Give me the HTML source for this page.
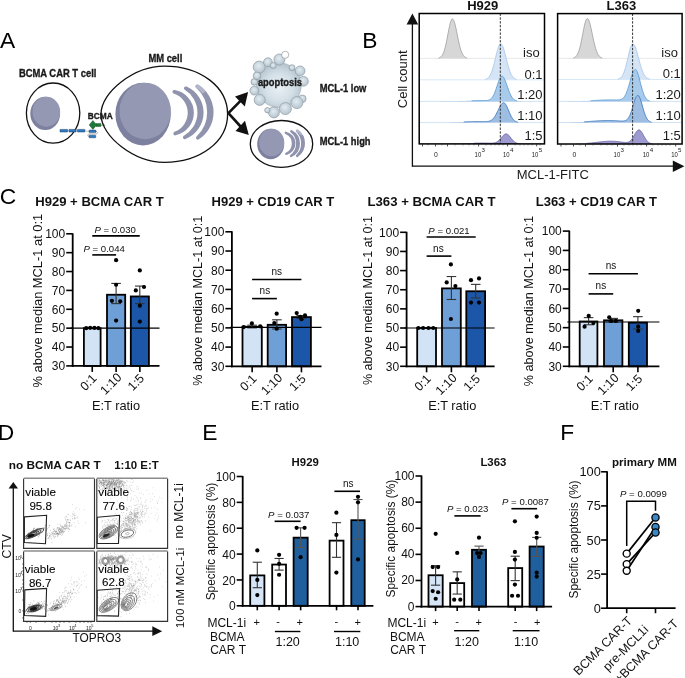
<!DOCTYPE html>
<html><head><meta charset="utf-8"><style>
html,body{margin:0;padding:0;background:#fff;}
svg{display:block;will-change:transform;}
text{font-family:"Liberation Sans",sans-serif;}
</style></head><body>
<svg width="685" height="678" viewBox="0 0 685 678">
<rect width="685" height="678" fill="#fff"/>
<text x="-0.10" y="47.70" font-size="22.8" >A</text>
<text x="362.30" y="47.70" font-size="22.8" >B</text>
<text x="-0.20" y="203.80" font-size="22.8" >C</text>
<text x="-2.30" y="439.60" font-size="22.8" >D</text>
<text x="202.30" y="439.80" font-size="22.8" >E</text>
<text x="560.30" y="439.80" font-size="22.8" >F</text>
<ellipse cx="53.10" cy="113.10" rx="26.70" ry="30.10" fill="#fff" stroke="#111" stroke-width="1.3" />
<ellipse cx="45.20" cy="113.40" rx="14.90" ry="16.60" fill="#7D819F" stroke="none" stroke-width="1" />
<ellipse cx="46.32" cy="111.74" rx="13.81" ry="14.99" fill="#9598B2" stroke="none" stroke-width="1" />
<path d="M101.00,114.20 C101.00,91.59 134.55,66.10 164.30,66.10 C200.38,66.10 227.60,86.78 227.60,114.20 C227.60,141.62 200.38,162.30 164.30,162.30 C134.55,162.30 101.00,136.81 101.00,114.20 Z" fill="#fff" stroke="#111" stroke-width="1.3" />
<ellipse cx="143.10" cy="114.10" rx="27.70" ry="31.30" fill="#7D819F" stroke="none" stroke-width="1" />
<ellipse cx="145.18" cy="110.97" rx="25.68" ry="28.26" fill="#9598B2" stroke="none" stroke-width="1" />
<path d="M174.30,91.80 A21.23,21.23 0 0 1 175.20,133.50 A22.07,22.07 0 0 0 174.30,91.80 Z" fill="#8F93AE" stroke="#8F93AE" stroke-width="3.7" stroke-linejoin="round"/>
<path d="M185.80,88.30 A26.51,26.51 0 0 1 184.80,137.30 A28.45,28.45 0 0 0 185.80,88.30 Z" fill="#8F93AE" stroke="#8F93AE" stroke-width="3.7" stroke-linejoin="round"/>
<path d="M197.30,86.40 A30.41,30.41 0 0 1 197.80,137.80 A34.56,34.56 0 0 0 197.30,86.40 Z" fill="#8F93AE" stroke="#8F93AE" stroke-width="3.7" stroke-linejoin="round"/>
<path d="M197.30,86.40 A12.69,12.69 0 0 1 203.00,91.30" fill="none" stroke="#B3B6CA" stroke-width="3.8" stroke-linecap="round"/>
<ellipse cx="281.50" cy="143.90" rx="31.20" ry="23.40" fill="#fff" stroke="#111" stroke-width="1.3" />
<ellipse cx="270.70" cy="144.00" rx="13.50" ry="15.30" fill="#7D819F" stroke="none" stroke-width="1" />
<ellipse cx="271.71" cy="142.47" rx="12.51" ry="13.82" fill="#9598B2" stroke="none" stroke-width="1" />
<path d="M285.80,132.80 A10.81,10.81 0 0 1 286.30,153.80 A11.41,11.41 0 0 0 285.80,132.80 Z" fill="#8F93AE" stroke="#8F93AE" stroke-width="2.4" stroke-linejoin="round"/>
<path d="M291.30,131.30 A13.72,13.72 0 0 1 291.00,155.90 A15.38,15.38 0 0 0 291.30,131.30 Z" fill="#8F93AE" stroke="#8F93AE" stroke-width="2.4" stroke-linejoin="round"/>
<path d="M297.10,130.80 A15.10,15.10 0 0 1 297.10,155.90 A17.74,17.74 0 0 0 297.10,130.80 Z" fill="#8F93AE" stroke="#8F93AE" stroke-width="2.4" stroke-linejoin="round"/>
<path d="M297.10,130.80 A7.03,7.03 0 0 1 301.00,134.00" fill="none" stroke="#B3B6CA" stroke-width="2.4" stroke-linecap="round"/>
<line x1="228.40" y1="113.20" x2="241.00" y2="100.30" stroke="#111" stroke-width="2.6" />
<path d="M248.1,91.9 L235,96.4 L244.8,106.5 Z" fill="#111" stroke="none" stroke-width="1" />
<line x1="228.40" y1="113.20" x2="241.50" y2="127.50" stroke="#111" stroke-width="2.6" />
<path d="M248.8,134.9 L235.5,130.9 L245,120.7 Z" fill="#111" stroke="none" stroke-width="1" />
<defs><radialGradient id="apg" cx="0.5" cy="0.55" r="0.6"><stop offset="0" stop-color="#EAF1F5"/><stop offset="0.55" stop-color="#D2DEE6"/><stop offset="1" stop-color="#AEBCC6"/></radialGradient><radialGradient id="bub" cx="0.45" cy="0.4" r="0.65"><stop offset="0" stop-color="#E2ECF1"/><stop offset="1" stop-color="#B2C1CB"/></radialGradient></defs>
<circle cx="278.90" cy="85.10" r="22.40" fill="url(#apg)" stroke="#9AA7B0" stroke-width="0.6" />
<circle cx="259.20" cy="67.10" r="6.00" fill="url(#bub)" stroke="#8E9BA5" stroke-width="0.7" />
<circle cx="267.90" cy="62.20" r="4.40" fill="url(#bub)" stroke="#8E9BA5" stroke-width="0.7" />
<circle cx="273.20" cy="65.50" r="3.00" fill="url(#bub)" stroke="#8E9BA5" stroke-width="0.7" />
<circle cx="279.40" cy="59.50" r="5.50" fill="url(#bub)" stroke="#8E9BA5" stroke-width="0.7" />
<circle cx="292.00" cy="67.70" r="3.00" fill="url(#bub)" stroke="#8E9BA5" stroke-width="0.7" />
<circle cx="300.10" cy="70.90" r="4.90" fill="url(#bub)" stroke="#8E9BA5" stroke-width="0.7" />
<circle cx="303.40" cy="81.30" r="4.90" fill="url(#bub)" stroke="#8E9BA5" stroke-width="0.7" />
<circle cx="302.30" cy="98.80" r="3.80" fill="url(#bub)" stroke="#8E9BA5" stroke-width="0.7" />
<circle cx="296.90" cy="102.60" r="6.00" fill="url(#bub)" stroke="#8E9BA5" stroke-width="0.7" />
<circle cx="285.40" cy="108.60" r="6.00" fill="url(#bub)" stroke="#8E9BA5" stroke-width="0.7" />
<circle cx="273.90" cy="112.40" r="5.50" fill="url(#bub)" stroke="#8E9BA5" stroke-width="0.7" />
<circle cx="267.40" cy="110.20" r="2.70" fill="url(#bub)" stroke="#8E9BA5" stroke-width="0.7" />
<circle cx="259.70" cy="99.90" r="5.50" fill="url(#bub)" stroke="#8E9BA5" stroke-width="0.7" />
<circle cx="254.30" cy="90.60" r="4.40" fill="url(#bub)" stroke="#8E9BA5" stroke-width="0.7" />
<circle cx="254.30" cy="81.90" r="3.30" fill="url(#bub)" stroke="#8E9BA5" stroke-width="0.7" />
<circle cx="257.00" cy="75.80" r="3.80" fill="url(#bub)" stroke="#8E9BA5" stroke-width="0.7" />
<circle cx="285.20" cy="54.80" r="3.60" fill="#fff" stroke="#888" stroke-width="0.6" />
<text x="257.90" y="85.70" font-size="10" font-weight="bold" fill="#1a1a1a" textLength="44.1" lengthAdjust="spacingAndGlyphs" stroke="#1a1a1a" stroke-width="0.35">apoptosis</text>
<rect x="60.00" y="129.40" width="7.60" height="2.60" fill="#2F78C4" stroke="#173e66" stroke-width="0.5" rx="0.3"/>
<rect x="68.90" y="129.40" width="7.30" height="2.60" fill="#2F78C4" stroke="#173e66" stroke-width="0.5" rx="0.3"/>
<rect x="77.50" y="129.40" width="7.40" height="2.60" fill="#2F78C4" stroke="#173e66" stroke-width="0.5" rx="0.3"/>
<line x1="84.90" y1="131.05" x2="89.00" y2="131.30" stroke="#888" stroke-width="0.5" />
<path d="M95.8,131.3 C98.2,131.6 98.2,133.9 95.5,134.0 L89.6,134.0 C87.2,134.2 87.2,136.3 89.2,136.5" fill="none" stroke="#777" stroke-width="0.55" />
<rect x="89.00" y="130.10" width="7.00" height="2.50" fill="#2F78C4" stroke="#173e66" stroke-width="0.45" rx="0.6"/>
<rect x="89.00" y="135.20" width="6.80" height="2.60" fill="#2F78C4" stroke="#173e66" stroke-width="0.45" rx="0.6"/>
<line x1="100.50" y1="125.20" x2="105.20" y2="125.20" stroke="#333" stroke-width="0.6" />
<rect x="95.90" y="123.50" width="5.00" height="3.10" fill="#1D7A3A" stroke="#0f4a22" stroke-width="0.35" />
<path d="M92.9,120.5 L96.6,124.9 L92.9,129.4 L89.2,124.9 Z" fill="#1D7A3A" stroke="#0f4a22" stroke-width="0.45" />
<text x="18.90" y="76.60" font-size="10.8" font-weight="bold" fill="#1a1a1a" textLength="77.5" lengthAdjust="spacingAndGlyphs" stroke="#1a1a1a" stroke-width="0.35">BCMA CAR T cell</text>
<text x="148.40" y="62.20" font-size="10.8" font-weight="bold" fill="#1a1a1a" textLength="33.9" lengthAdjust="spacingAndGlyphs" stroke="#1a1a1a" stroke-width="0.35">MM cell</text>
<text x="87.80" y="119.40" font-size="9.2" font-weight="bold" fill="#1a1a1a" textLength="25" lengthAdjust="spacingAndGlyphs" stroke="#1a1a1a" stroke-width="0.35">BCMA</text>
<text x="319.70" y="91.80" font-size="10.6" font-weight="bold" fill="#1a1a1a" textLength="46.7" lengthAdjust="spacingAndGlyphs" stroke="#1a1a1a" stroke-width="0.35">MCL-1 low</text>
<text x="319.70" y="145.10" font-size="10.6" font-weight="bold" fill="#1a1a1a" textLength="50.9" lengthAdjust="spacingAndGlyphs" stroke="#1a1a1a" stroke-width="0.35">MCL-1 high</text>
<line x1="419.20" y1="58.40" x2="544.50" y2="58.40" stroke="#E2E2E2" stroke-width="0.8" />
<line x1="419.20" y1="79.80" x2="544.50" y2="79.80" stroke="#CFE2F3" stroke-width="0.8" />
<line x1="419.20" y1="101.40" x2="544.50" y2="101.40" stroke="#C6DCF1" stroke-width="0.8" />
<line x1="419.20" y1="122.60" x2="544.50" y2="122.60" stroke="#C6DCF1" stroke-width="0.8" />
<path d="M420.00,58.40 L420.00,58.40 L420.60,58.40 L421.20,58.40 L421.80,58.40 L422.40,58.40 L423.00,58.40 L423.60,58.40 L424.20,58.40 L424.80,58.40 L425.40,58.40 L426.00,58.40 L426.60,58.40 L427.20,58.40 L427.80,58.40 L428.40,58.40 L429.00,58.40 L429.60,58.40 L430.20,58.40 L430.80,58.40 L431.40,58.40 L432.00,58.40 L432.60,58.40 L433.20,58.40 L433.80,58.39 L434.40,58.39 L435.00,58.38 L435.60,58.36 L436.20,58.34 L436.80,58.30 L437.40,58.25 L438.00,58.16 L438.60,58.04 L439.20,57.87 L439.80,57.62 L440.40,57.27 L441.00,56.80 L441.60,56.18 L442.20,55.37 L442.80,54.34 L443.40,53.05 L444.00,51.48 L444.60,49.61 L445.20,47.42 L445.80,44.93 L446.40,42.16 L447.00,39.17 L447.60,36.04 L448.20,32.85 L448.80,29.72 L449.40,26.77 L450.00,24.14 L450.60,21.94 L451.20,20.28 L451.80,19.25 L452.40,18.90 L453.00,19.21 L453.60,20.12 L454.20,21.58 L454.80,23.54 L455.40,25.91 L456.00,28.58 L456.60,31.46 L457.20,34.44 L457.80,37.42 L458.40,40.32 L459.00,43.05 L459.60,45.58 L460.20,47.85 L460.80,49.86 L461.40,51.59 L462.00,53.05 L462.60,54.27 L463.20,55.26 L463.80,56.05 L464.40,56.66 L465.00,57.14 L465.60,57.50 L466.20,57.77 L466.80,57.96 L467.40,58.10 L468.00,58.20 L468.60,58.27 L469.20,58.31 L469.80,58.34 L470.40,58.37 L471.00,58.38 L471.60,58.39 L472.20,58.39 L472.80,58.40 L473.40,58.40 L474.00,58.40 L474.60,58.40 L475.20,58.40 L475.80,58.40 L476.40,58.40 L477.00,58.40 L477.60,58.40 L478.20,58.40 L478.80,58.40 L479.40,58.40 L480.00,58.40 L480.60,58.40 L481.20,58.40 L481.80,58.40 L482.40,58.40 L483.00,58.40 L483.60,58.40 L484.20,58.40 L484.80,58.40 L485.40,58.40 L486.00,58.40 L486.60,58.40 L487.20,58.40 L487.80,58.40 L488.40,58.40 L489.00,58.40 L489.60,58.40 L490.20,58.40 L490.80,58.40 L491.40,58.40 L492.00,58.40 L492.60,58.40 L493.20,58.40 L493.80,58.40 L494.40,58.40 L495.00,58.40 L495.60,58.40 L496.20,58.40 L496.80,58.40 L497.40,58.40 L498.00,58.40 L498.60,58.40 L499.20,58.40 L499.80,58.40 L500.40,58.40 L501.00,58.40 L501.60,58.40 L502.20,58.40 L502.80,58.40 L503.40,58.40 L504.00,58.40 L504.60,58.40 L505.20,58.40 L505.80,58.40 L506.40,58.40 L507.00,58.40 L507.60,58.40 L508.20,58.40 L508.80,58.40 L509.40,58.40 L510.00,58.40 L510.60,58.40 L511.20,58.40 L511.80,58.40 L512.40,58.40 L513.00,58.40 L513.60,58.40 L514.20,58.40 L514.80,58.40 L515.40,58.40 L516.00,58.40 L516.60,58.40 L517.20,58.40 L517.80,58.40 L518.40,58.40 L519.00,58.40 L519.60,58.40 L520.20,58.40 L520.80,58.40 L521.40,58.40 L522.00,58.40 L522.60,58.40 L523.20,58.40 L523.80,58.40 L524.40,58.40 L525.00,58.40 L525.60,58.40 L526.20,58.40 L526.80,58.40 L527.40,58.40 L528.00,58.40 L528.60,58.40 L529.20,58.40 L529.80,58.40 L530.40,58.40 L531.00,58.40 L531.60,58.40 L532.20,58.40 L532.80,58.40 L533.40,58.40 L534.00,58.40 L534.60,58.40 L535.20,58.40 L535.80,58.40 L536.40,58.40 L537.00,58.40 L537.60,58.40 L538.20,58.40 L538.80,58.40 L539.40,58.40 L540.00,58.40 L540.60,58.40 L541.20,58.40 L541.80,58.40 L542.40,58.40 L543.00,58.40 L543.60,58.40 L543.70,58.40 Z" fill="#D7D7D7" stroke="none" stroke-width="1" />
<path d="M438.60,58.04 L439.20,57.87 L439.80,57.62 L440.40,57.27 L441.00,56.80 L441.60,56.18 L442.20,55.37 L442.80,54.34 L443.40,53.05 L444.00,51.48 L444.60,49.61 L445.20,47.42 L445.80,44.93 L446.40,42.16 L447.00,39.17 L447.60,36.04 L448.20,32.85 L448.80,29.72 L449.40,26.77 L450.00,24.14 L450.60,21.94 L451.20,20.28 L451.80,19.25 L452.40,18.90 L453.00,19.21 L453.60,20.12 L454.20,21.58 L454.80,23.54 L455.40,25.91 L456.00,28.58 L456.60,31.46 L457.20,34.44 L457.80,37.42 L458.40,40.32 L459.00,43.05 L459.60,45.58 L460.20,47.85 L460.80,49.86 L461.40,51.59 L462.00,53.05 L462.60,54.27 L463.20,55.26 L463.80,56.05 L464.40,56.66 L465.00,57.14 L465.60,57.50 L466.20,57.77 L466.80,57.96" fill="none" stroke="#A5A5A5" stroke-width="0.9" />
<path d="M420.00,79.80 L420.00,79.80 L420.60,79.80 L421.20,79.80 L421.80,79.80 L422.40,79.80 L423.00,79.80 L423.60,79.80 L424.20,79.80 L424.80,79.80 L425.40,79.80 L426.00,79.80 L426.60,79.80 L427.20,79.80 L427.80,79.80 L428.40,79.80 L429.00,79.80 L429.60,79.80 L430.20,79.80 L430.80,79.80 L431.40,79.80 L432.00,79.80 L432.60,79.80 L433.20,79.80 L433.80,79.80 L434.40,79.80 L435.00,79.80 L435.60,79.80 L436.20,79.80 L436.80,79.80 L437.40,79.80 L438.00,79.80 L438.60,79.80 L439.20,79.80 L439.80,79.80 L440.40,79.80 L441.00,79.80 L441.60,79.80 L442.20,79.80 L442.80,79.80 L443.40,79.80 L444.00,79.80 L444.60,79.80 L445.20,79.80 L445.80,79.80 L446.40,79.80 L447.00,79.80 L447.60,79.80 L448.20,79.80 L448.80,79.80 L449.40,79.80 L450.00,79.80 L450.60,79.80 L451.20,79.80 L451.80,79.80 L452.40,79.80 L453.00,79.80 L453.60,79.80 L454.20,79.80 L454.80,79.80 L455.40,79.80 L456.00,79.80 L456.60,79.80 L457.20,79.80 L457.80,79.80 L458.40,79.80 L459.00,79.80 L459.60,79.80 L460.20,79.80 L460.80,79.80 L461.40,79.80 L462.00,79.80 L462.60,79.80 L463.20,79.80 L463.80,79.80 L464.40,79.80 L465.00,79.80 L465.60,79.80 L466.20,79.80 L466.80,79.80 L467.40,79.80 L468.00,79.80 L468.60,79.80 L469.20,79.80 L469.80,79.80 L470.40,79.80 L471.00,79.80 L471.60,79.80 L472.20,79.80 L472.80,79.80 L473.40,79.80 L474.00,79.80 L474.60,79.80 L475.20,79.80 L475.80,79.80 L476.40,79.80 L477.00,79.80 L477.60,79.80 L478.20,79.80 L478.80,79.79 L479.40,79.79 L480.00,79.79 L480.60,79.78 L481.20,79.77 L481.80,79.75 L482.40,79.73 L483.00,79.69 L483.60,79.64 L484.20,79.57 L484.80,79.47 L485.40,79.33 L486.00,79.14 L486.60,78.89 L487.20,78.57 L487.80,78.15 L488.40,77.61 L489.00,76.94 L489.60,76.12 L490.20,75.13 L490.80,73.94 L491.40,72.55 L492.00,70.94 L492.60,69.13 L493.20,67.11 L493.80,64.91 L494.40,62.57 L495.00,60.11 L495.60,57.61 L496.20,55.11 L496.80,52.70 L497.40,50.45 L498.00,48.43 L498.60,46.71 L499.20,45.36 L499.80,44.43 L500.40,43.96 L501.00,43.96 L501.60,44.40 L502.20,45.26 L502.80,46.51 L503.40,48.12 L504.00,50.01 L504.60,52.14 L505.20,54.43 L505.80,56.82 L506.40,59.23 L507.00,61.62 L507.60,63.93 L508.20,66.12 L508.80,68.14 L509.40,69.99 L510.00,71.65 L510.60,73.11 L511.20,74.38 L511.80,75.46 L512.40,76.37 L513.00,77.12 L513.60,77.73 L514.20,78.22 L514.80,78.61 L515.40,78.92 L516.00,79.15 L516.60,79.33 L517.20,79.46 L517.80,79.56 L518.40,79.63 L519.00,79.68 L519.60,79.72 L520.20,79.75 L520.80,79.76 L521.40,79.78 L522.00,79.78 L522.60,79.79 L523.20,79.79 L523.80,79.80 L524.40,79.80 L525.00,79.80 L525.60,79.80 L526.20,79.80 L526.80,79.80 L527.40,79.80 L528.00,79.80 L528.60,79.80 L529.20,79.80 L529.80,79.80 L530.40,79.80 L531.00,79.80 L531.60,79.80 L532.20,79.80 L532.80,79.80 L533.40,79.80 L534.00,79.80 L534.60,79.80 L535.20,79.80 L535.80,79.80 L536.40,79.80 L537.00,79.80 L537.60,79.80 L538.20,79.80 L538.80,79.80 L539.40,79.80 L540.00,79.80 L540.60,79.80 L541.20,79.80 L541.80,79.80 L542.40,79.80 L543.00,79.80 L543.60,79.80 L543.70,79.80 Z" fill="#D5E5F5" stroke="none" stroke-width="1" />
<path d="M485.40,79.33 L486.00,79.14 L486.60,78.89 L487.20,78.57 L487.80,78.15 L488.40,77.61 L489.00,76.94 L489.60,76.12 L490.20,75.13 L490.80,73.94 L491.40,72.55 L492.00,70.94 L492.60,69.13 L493.20,67.11 L493.80,64.91 L494.40,62.57 L495.00,60.11 L495.60,57.61 L496.20,55.11 L496.80,52.70 L497.40,50.45 L498.00,48.43 L498.60,46.71 L499.20,45.36 L499.80,44.43 L500.40,43.96 L501.00,43.96 L501.60,44.40 L502.20,45.26 L502.80,46.51 L503.40,48.12 L504.00,50.01 L504.60,52.14 L505.20,54.43 L505.80,56.82 L506.40,59.23 L507.00,61.62 L507.60,63.93 L508.20,66.12 L508.80,68.14 L509.40,69.99 L510.00,71.65 L510.60,73.11 L511.20,74.38 L511.80,75.46 L512.40,76.37 L513.00,77.12 L513.60,77.73 L514.20,78.22 L514.80,78.61 L515.40,78.92 L516.00,79.15 L516.60,79.33" fill="none" stroke="#A8CAEA" stroke-width="0.9" />
<path d="M420.00,101.40 L420.00,101.40 L420.60,101.40 L421.20,101.40 L421.80,101.40 L422.40,101.40 L423.00,101.40 L423.60,101.40 L424.20,101.40 L424.80,101.40 L425.40,101.40 L426.00,101.40 L426.60,101.40 L427.20,101.40 L427.80,101.40 L428.40,101.40 L429.00,101.40 L429.60,101.40 L430.20,101.40 L430.80,101.40 L431.40,101.40 L432.00,101.40 L432.60,101.39 L433.20,101.39 L433.80,101.39 L434.40,101.39 L435.00,101.39 L435.60,101.39 L436.20,101.39 L436.80,101.39 L437.40,101.39 L438.00,101.38 L438.60,101.38 L439.20,101.38 L439.80,101.38 L440.40,101.38 L441.00,101.37 L441.60,101.37 L442.20,101.37 L442.80,101.36 L443.40,101.36 L444.00,101.36 L444.60,101.35 L445.20,101.35 L445.80,101.34 L446.40,101.33 L447.00,101.33 L447.60,101.32 L448.20,101.32 L448.80,101.31 L449.40,101.30 L450.00,101.29 L450.60,101.28 L451.20,101.27 L451.80,101.26 L452.40,101.25 L453.00,101.24 L453.60,101.23 L454.20,101.22 L454.80,101.20 L455.40,101.19 L456.00,101.18 L456.60,101.16 L457.20,101.15 L457.80,101.13 L458.40,101.12 L459.00,101.10 L459.60,101.08 L460.20,101.07 L460.80,101.05 L461.40,101.03 L462.00,101.01 L462.60,100.99 L463.20,100.97 L463.80,100.95 L464.40,100.93 L465.00,100.91 L465.60,100.90 L466.20,100.88 L466.80,100.86 L467.40,100.84 L468.00,100.82 L468.60,100.80 L469.20,100.78 L469.80,100.77 L470.40,100.75 L471.00,100.73 L471.60,100.72 L472.20,100.70 L472.80,100.69 L473.40,100.67 L474.00,100.66 L474.60,100.65 L475.20,100.64 L475.80,100.63 L476.40,100.62 L477.00,100.62 L477.60,100.61 L478.20,100.61 L478.80,100.60 L479.40,100.60 L480.00,100.60 L480.60,100.60 L481.20,100.60 L481.80,100.60 L482.40,100.60 L483.00,100.60 L483.60,100.60 L484.20,100.60 L484.80,100.59 L485.40,100.57 L486.00,100.54 L486.60,100.50 L487.20,100.43 L487.80,100.33 L488.40,100.19 L489.00,99.99 L489.60,99.74 L490.20,99.39 L490.80,98.96 L491.40,98.40 L492.00,97.72 L492.60,96.88 L493.20,95.89 L493.80,94.74 L494.40,93.42 L495.00,91.94 L495.60,90.32 L496.20,88.60 L496.80,86.79 L497.40,84.97 L498.00,83.17 L498.60,81.46 L499.20,79.90 L499.80,78.55 L500.40,77.48 L501.00,76.71 L501.60,76.30 L502.20,76.25 L502.80,76.54 L503.40,77.15 L504.00,78.05 L504.60,79.22 L505.20,80.60 L505.80,82.15 L506.40,83.82 L507.00,85.56 L507.60,87.31 L508.20,89.03 L508.80,90.68 L509.40,92.24 L510.00,93.67 L510.60,94.96 L511.20,96.10 L511.80,97.10 L512.40,97.95 L513.00,98.67 L513.60,99.27 L514.20,99.75 L514.80,100.14 L515.40,100.45 L516.00,100.69 L516.60,100.88 L517.20,101.02 L517.80,101.12 L518.40,101.20 L519.00,101.25 L519.60,101.29 L520.20,101.32 L520.80,101.34 L521.40,101.36 L522.00,101.37 L522.60,101.38 L523.20,101.38 L523.80,101.38 L524.40,101.39 L525.00,101.39 L525.60,101.39 L526.20,101.39 L526.80,101.39 L527.40,101.39 L528.00,101.40 L528.60,101.40 L529.20,101.40 L529.80,101.40 L530.40,101.40 L531.00,101.40 L531.60,101.40 L532.20,101.40 L532.80,101.40 L533.40,101.40 L534.00,101.40 L534.60,101.40 L535.20,101.40 L535.80,101.40 L536.40,101.40 L537.00,101.40 L537.60,101.40 L538.20,101.40 L538.80,101.40 L539.40,101.40 L540.00,101.40 L540.60,101.40 L541.20,101.40 L541.80,101.40 L542.40,101.40 L543.00,101.40 L543.60,101.40 L543.70,101.40 Z" fill="#A9CBEB" stroke="none" stroke-width="1" />
<path d="M471.60,100.72 L472.20,100.70 L472.80,100.69 L473.40,100.67 L474.00,100.66 L474.60,100.65 L475.20,100.64 L475.80,100.63 L476.40,100.62 L477.00,100.62 L477.60,100.61 L478.20,100.61 L478.80,100.60 L479.40,100.60 L480.00,100.60 L480.60,100.60 L481.20,100.60 L481.80,100.60 L482.40,100.60 L483.00,100.60 L483.60,100.60 L484.20,100.60 L484.80,100.59 L485.40,100.57 L486.00,100.54 L486.60,100.50 L487.20,100.43 L487.80,100.33 L488.40,100.19 L489.00,99.99 L489.60,99.74 L490.20,99.39 L490.80,98.96 L491.40,98.40 L492.00,97.72 L492.60,96.88 L493.20,95.89 L493.80,94.74 L494.40,93.42 L495.00,91.94 L495.60,90.32 L496.20,88.60 L496.80,86.79 L497.40,84.97 L498.00,83.17 L498.60,81.46 L499.20,79.90 L499.80,78.55 L500.40,77.48 L501.00,76.71 L501.60,76.30 L502.20,76.25 L502.80,76.54 L503.40,77.15 L504.00,78.05 L504.60,79.22 L505.20,80.60 L505.80,82.15 L506.40,83.82 L507.00,85.56 L507.60,87.31 L508.20,89.03 L508.80,90.68 L509.40,92.24 L510.00,93.67 L510.60,94.96 L511.20,96.10 L511.80,97.10 L512.40,97.95 L513.00,98.67 L513.60,99.27 L514.20,99.75 L514.80,100.14 L515.40,100.45 L516.00,100.69 L516.60,100.88 L517.20,101.02" fill="none" stroke="#5E9DD6" stroke-width="0.9" />
<path d="M420.00,122.60 L420.00,122.60 L420.60,122.60 L421.20,122.60 L421.80,122.60 L422.40,122.60 L423.00,122.60 L423.60,122.60 L424.20,122.60 L424.80,122.60 L425.40,122.60 L426.00,122.59 L426.60,122.59 L427.20,122.59 L427.80,122.59 L428.40,122.59 L429.00,122.59 L429.60,122.59 L430.20,122.59 L430.80,122.59 L431.40,122.59 L432.00,122.58 L432.60,122.58 L433.20,122.58 L433.80,122.58 L434.40,122.58 L435.00,122.57 L435.60,122.57 L436.20,122.57 L436.80,122.56 L437.40,122.56 L438.00,122.56 L438.60,122.55 L439.20,122.55 L439.80,122.54 L440.40,122.54 L441.00,122.53 L441.60,122.52 L442.20,122.52 L442.80,122.51 L443.40,122.50 L444.00,122.50 L444.60,122.49 L445.20,122.48 L445.80,122.47 L446.40,122.46 L447.00,122.45 L447.60,122.44 L448.20,122.42 L448.80,122.41 L449.40,122.40 L450.00,122.38 L450.60,122.37 L451.20,122.35 L451.80,122.34 L452.40,122.32 L453.00,122.30 L453.60,122.29 L454.20,122.27 L454.80,122.25 L455.40,122.23 L456.00,122.21 L456.60,122.19 L457.20,122.17 L457.80,122.15 L458.40,122.13 L459.00,122.11 L459.60,122.08 L460.20,122.06 L460.80,122.04 L461.40,122.02 L462.00,121.99 L462.60,121.97 L463.20,121.95 L463.80,121.93 L464.40,121.90 L465.00,121.88 L465.60,121.86 L466.20,121.84 L466.80,121.82 L467.40,121.80 L468.00,121.78 L468.60,121.76 L469.20,121.74 L469.80,121.72 L470.40,121.71 L471.00,121.69 L471.60,121.68 L472.20,121.66 L472.80,121.65 L473.40,121.64 L474.00,121.63 L474.60,121.62 L475.20,121.62 L475.80,121.61 L476.40,121.60 L477.00,121.60 L477.60,121.60 L478.20,121.60 L478.80,121.60 L479.40,121.60 L480.00,121.61 L480.60,121.61 L481.20,121.61 L481.80,121.62 L482.40,121.63 L483.00,121.63 L483.60,121.63 L484.20,121.63 L484.80,121.63 L485.40,121.62 L486.00,121.60 L486.60,121.57 L487.20,121.52 L487.80,121.45 L488.40,121.36 L489.00,121.23 L489.60,121.06 L490.20,120.84 L490.80,120.57 L491.40,120.22 L492.00,119.80 L492.60,119.29 L493.20,118.68 L493.80,117.98 L494.40,117.17 L495.00,116.26 L495.60,115.25 L496.20,114.15 L496.80,112.97 L497.40,111.74 L498.00,110.47 L498.60,109.20 L499.20,107.95 L499.80,106.77 L500.40,105.68 L501.00,104.72 L501.60,103.92 L502.20,103.31 L502.80,102.91 L503.40,102.73 L504.00,102.80 L504.60,103.14 L505.20,103.74 L505.80,104.59 L506.40,105.64 L507.00,106.85 L507.60,108.19 L508.20,109.59 L508.80,111.03 L509.40,112.45 L510.00,113.83 L510.60,115.12 L511.20,116.31 L511.80,117.39 L512.40,118.34 L513.00,119.16 L513.60,119.86 L514.20,120.45 L514.80,120.93 L515.40,121.32 L516.00,121.64 L516.60,121.88 L517.20,122.07 L517.80,122.21 L518.40,122.31 L519.00,122.39 L519.60,122.45 L520.20,122.49 L520.80,122.52 L521.40,122.54 L522.00,122.55 L522.60,122.57 L523.20,122.57 L523.80,122.58 L524.40,122.58 L525.00,122.58 L525.60,122.59 L526.20,122.59 L526.80,122.59 L527.40,122.59 L528.00,122.59 L528.60,122.59 L529.20,122.59 L529.80,122.59 L530.40,122.60 L531.00,122.60 L531.60,122.60 L532.20,122.60 L532.80,122.60 L533.40,122.60 L534.00,122.60 L534.60,122.60 L535.20,122.60 L535.80,122.60 L536.40,122.60 L537.00,122.60 L537.60,122.60 L538.20,122.60 L538.80,122.60 L539.40,122.60 L540.00,122.60 L540.60,122.60 L541.20,122.60 L541.80,122.60 L542.40,122.60 L543.00,122.60 L543.60,122.60 L543.70,122.60 Z" fill="#9DBDE2" stroke="none" stroke-width="1" />
<path d="M463.80,121.93 L464.40,121.90 L465.00,121.88 L465.60,121.86 L466.20,121.84 L466.80,121.82 L467.40,121.80 L468.00,121.78 L468.60,121.76 L469.20,121.74 L469.80,121.72 L470.40,121.71 L471.00,121.69 L471.60,121.68 L472.20,121.66 L472.80,121.65 L473.40,121.64 L474.00,121.63 L474.60,121.62 L475.20,121.62 L475.80,121.61 L476.40,121.60 L477.00,121.60 L477.60,121.60 L478.20,121.60 L478.80,121.60 L479.40,121.60 L480.00,121.61 L480.60,121.61 L481.20,121.61 L481.80,121.62 L482.40,121.63 L483.00,121.63 L483.60,121.63 L484.20,121.63 L484.80,121.63 L485.40,121.62 L486.00,121.60 L486.60,121.57 L487.20,121.52 L487.80,121.45 L488.40,121.36 L489.00,121.23 L489.60,121.06 L490.20,120.84 L490.80,120.57 L491.40,120.22 L492.00,119.80 L492.60,119.29 L493.20,118.68 L493.80,117.98 L494.40,117.17 L495.00,116.26 L495.60,115.25 L496.20,114.15 L496.80,112.97 L497.40,111.74 L498.00,110.47 L498.60,109.20 L499.20,107.95 L499.80,106.77 L500.40,105.68 L501.00,104.72 L501.60,103.92 L502.20,103.31 L502.80,102.91 L503.40,102.73 L504.00,102.80 L504.60,103.14 L505.20,103.74 L505.80,104.59 L506.40,105.64 L507.00,106.85 L507.60,108.19 L508.20,109.59 L508.80,111.03 L509.40,112.45 L510.00,113.83 L510.60,115.12 L511.20,116.31 L511.80,117.39 L512.40,118.34 L513.00,119.16 L513.60,119.86 L514.20,120.45 L514.80,120.93 L515.40,121.32 L516.00,121.64 L516.60,121.88 L517.20,122.07 L517.80,122.21" fill="none" stroke="#437FC2" stroke-width="0.9" />
<path d="M420.00,143.90 L420.00,143.90 L420.60,143.90 L421.20,143.90 L421.80,143.90 L422.40,143.90 L423.00,143.90 L423.60,143.90 L424.20,143.90 L424.80,143.90 L425.40,143.90 L426.00,143.90 L426.60,143.90 L427.20,143.90 L427.80,143.90 L428.40,143.90 L429.00,143.90 L429.60,143.90 L430.20,143.90 L430.80,143.90 L431.40,143.90 L432.00,143.90 L432.60,143.90 L433.20,143.90 L433.80,143.90 L434.40,143.90 L435.00,143.90 L435.60,143.90 L436.20,143.90 L436.80,143.90 L437.40,143.89 L438.00,143.89 L438.60,143.89 L439.20,143.89 L439.80,143.89 L440.40,143.89 L441.00,143.89 L441.60,143.89 L442.20,143.89 L442.80,143.88 L443.40,143.88 L444.00,143.88 L444.60,143.88 L445.20,143.87 L445.80,143.87 L446.40,143.87 L447.00,143.86 L447.60,143.86 L448.20,143.86 L448.80,143.85 L449.40,143.85 L450.00,143.84 L450.60,143.84 L451.20,143.83 L451.80,143.82 L452.40,143.81 L453.00,143.81 L453.60,143.80 L454.20,143.79 L454.80,143.78 L455.40,143.77 L456.00,143.76 L456.60,143.75 L457.20,143.73 L457.80,143.72 L458.40,143.71 L459.00,143.69 L459.60,143.68 L460.20,143.66 L460.80,143.65 L461.40,143.63 L462.00,143.61 L462.60,143.59 L463.20,143.58 L463.80,143.56 L464.40,143.54 L465.00,143.52 L465.60,143.50 L466.20,143.48 L466.80,143.46 L467.40,143.44 L468.00,143.41 L468.60,143.39 L469.20,143.37 L469.80,143.35 L470.40,143.33 L471.00,143.31 L471.60,143.29 L472.20,143.27 L472.80,143.26 L473.40,143.24 L474.00,143.22 L474.60,143.20 L475.20,143.19 L475.80,143.17 L476.40,143.16 L477.00,143.15 L477.60,143.14 L478.20,143.13 L478.80,143.12 L479.40,143.11 L480.00,143.11 L480.60,143.10 L481.20,143.10 L481.80,143.10 L482.40,143.10 L483.00,143.10 L483.60,143.11 L484.20,143.11 L484.80,143.12 L485.40,143.12 L486.00,143.13 L486.60,143.14 L487.20,143.15 L487.80,143.16 L488.40,143.17 L489.00,143.18 L489.60,143.18 L490.20,143.19 L490.80,143.19 L491.40,143.18 L492.00,143.16 L492.60,143.12 L493.20,143.07 L493.80,142.99 L494.40,142.88 L495.00,142.74 L495.60,142.55 L496.20,142.30 L496.80,142.00 L497.40,141.64 L498.00,141.21 L498.60,140.71 L499.20,140.14 L499.80,139.51 L500.40,138.84 L501.00,138.13 L501.60,137.41 L502.20,136.69 L502.80,136.01 L503.40,135.38 L504.00,134.84 L504.60,134.41 L505.20,134.11 L505.80,133.95 L506.40,133.93 L507.00,134.08 L507.60,134.39 L508.20,134.84 L508.80,135.42 L509.40,136.09 L510.00,136.82 L510.60,137.60 L511.20,138.38 L511.80,139.15 L512.40,139.87 L513.00,140.54 L513.60,141.15 L514.20,141.68 L514.80,142.14 L515.40,142.53 L516.00,142.84 L516.60,143.10 L517.20,143.30 L517.80,143.46 L518.40,143.58 L519.00,143.67 L519.60,143.74 L520.20,143.79 L520.80,143.82 L521.40,143.84 L522.00,143.86 L522.60,143.87 L523.20,143.88 L523.80,143.88 L524.40,143.89 L525.00,143.89 L525.60,143.89 L526.20,143.89 L526.80,143.89 L527.40,143.90 L528.00,143.90 L528.60,143.90 L529.20,143.90 L529.80,143.90 L530.40,143.90 L531.00,143.90 L531.60,143.90 L532.20,143.90 L532.80,143.90 L533.40,143.90 L534.00,143.90 L534.60,143.90 L535.20,143.90 L535.80,143.90 L536.40,143.90 L537.00,143.90 L537.60,143.90 L538.20,143.90 L538.80,143.90 L539.40,143.90 L540.00,143.90 L540.60,143.90 L541.20,143.90 L541.80,143.90 L542.40,143.90 L543.00,143.90 L543.60,143.90 L543.70,143.90 Z" fill="#9D9BD0" stroke="none" stroke-width="1" />
<path d="M474.00,143.22 L474.60,143.20 L475.20,143.19 L475.80,143.17 L476.40,143.16 L477.00,143.15 L477.60,143.14 L478.20,143.13 L478.80,143.12 L479.40,143.11 L480.00,143.11 L480.60,143.10 L481.20,143.10 L481.80,143.10 L482.40,143.10 L483.00,143.10 L483.60,143.11 L484.20,143.11 L484.80,143.12 L485.40,143.12 L486.00,143.13 L486.60,143.14 L487.20,143.15 L487.80,143.16 L488.40,143.17 L489.00,143.18 L489.60,143.18 L490.20,143.19 L490.80,143.19 L491.40,143.18 L492.00,143.16 L492.60,143.12 L493.20,143.07 L493.80,142.99 L494.40,142.88 L495.00,142.74 L495.60,142.55 L496.20,142.30 L496.80,142.00 L497.40,141.64 L498.00,141.21 L498.60,140.71 L499.20,140.14 L499.80,139.51 L500.40,138.84 L501.00,138.13 L501.60,137.41 L502.20,136.69 L502.80,136.01 L503.40,135.38 L504.00,134.84 L504.60,134.41 L505.20,134.11 L505.80,133.95 L506.40,133.93 L507.00,134.08 L507.60,134.39 L508.20,134.84 L508.80,135.42 L509.40,136.09 L510.00,136.82 L510.60,137.60 L511.20,138.38 L511.80,139.15 L512.40,139.87 L513.00,140.54 L513.60,141.15 L514.20,141.68 L514.80,142.14 L515.40,142.53 L516.00,142.84 L516.60,143.10 L517.20,143.30 L517.80,143.46" fill="none" stroke="#6C68AA" stroke-width="0.9" />
<line x1="500.30" y1="13.50" x2="500.30" y2="143.90" stroke="#333" stroke-width="1" stroke-dasharray="2.4,1.4"/>
<text x="539.70" y="57.10" font-size="13" text-anchor="end" fill="#1a1a1a" >iso</text>
<text x="542.60" y="78.50" font-size="13" text-anchor="end" fill="#1a1a1a" >0:1</text>
<text x="542.60" y="98.60" font-size="13" text-anchor="end" fill="#1a1a1a" >1:20</text>
<text x="542.60" y="119.90" font-size="13" text-anchor="end" fill="#1a1a1a" >1:10</text>
<text x="542.60" y="139.50" font-size="13" text-anchor="end" fill="#1a1a1a" >1:5</text>
<rect x="419.20" y="13.50" width="125.30" height="130.40" fill="none" stroke="#000" stroke-width="1.5" />
<text x="467.20" y="9.60" font-size="13" font-weight="bold" fill="#111" >H929</text>
<line x1="557.60" y1="58.40" x2="682.10" y2="58.40" stroke="#E2E2E2" stroke-width="0.8" />
<line x1="557.60" y1="79.50" x2="682.10" y2="79.50" stroke="#CFE2F3" stroke-width="0.8" />
<line x1="557.60" y1="101.40" x2="682.10" y2="101.40" stroke="#C6DCF1" stroke-width="0.8" />
<line x1="557.60" y1="122.50" x2="682.10" y2="122.50" stroke="#C6DCF1" stroke-width="0.8" />
<path d="M558.40,58.40 L558.40,58.40 L559.00,58.40 L559.60,58.40 L560.20,58.40 L560.80,58.40 L561.40,58.40 L562.00,58.40 L562.60,58.40 L563.20,58.40 L563.80,58.40 L564.40,58.40 L565.00,58.40 L565.60,58.40 L566.20,58.40 L566.80,58.40 L567.40,58.40 L568.00,58.39 L568.60,58.39 L569.20,58.38 L569.80,58.37 L570.40,58.35 L571.00,58.33 L571.60,58.28 L572.20,58.22 L572.80,58.12 L573.40,57.99 L574.00,57.79 L574.60,57.52 L575.20,57.15 L575.80,56.65 L576.40,56.00 L577.00,55.16 L577.60,54.09 L578.20,52.78 L578.80,51.18 L579.40,49.29 L580.00,47.10 L580.60,44.62 L581.20,41.88 L581.80,38.93 L582.40,35.83 L583.00,32.69 L583.60,29.60 L584.20,26.69 L584.80,24.06 L585.40,21.85 L586.00,20.16 L586.60,19.06 L587.20,18.61 L587.80,18.80 L588.40,19.55 L589.00,20.84 L589.60,22.60 L590.20,24.76 L590.80,27.25 L591.40,29.96 L592.00,32.81 L592.60,35.71 L593.20,38.56 L593.80,41.30 L594.40,43.88 L595.00,46.24 L595.60,48.37 L596.20,50.24 L596.80,51.85 L597.40,53.23 L598.00,54.37 L598.60,55.30 L599.20,56.06 L599.80,56.65 L600.40,57.11 L601.00,57.47 L601.60,57.73 L602.20,57.93 L602.80,58.07 L603.40,58.18 L604.00,58.25 L604.60,58.30 L605.20,58.33 L605.80,58.36 L606.40,58.37 L607.00,58.38 L607.60,58.39 L608.20,58.39 L608.80,58.40 L609.40,58.40 L610.00,58.40 L610.60,58.40 L611.20,58.40 L611.80,58.40 L612.40,58.40 L613.00,58.40 L613.60,58.40 L614.20,58.40 L614.80,58.40 L615.40,58.40 L616.00,58.40 L616.60,58.40 L617.20,58.40 L617.80,58.40 L618.40,58.40 L619.00,58.40 L619.60,58.40 L620.20,58.40 L620.80,58.40 L621.40,58.40 L622.00,58.40 L622.60,58.40 L623.20,58.40 L623.80,58.40 L624.40,58.40 L625.00,58.40 L625.60,58.40 L626.20,58.40 L626.80,58.40 L627.40,58.40 L628.00,58.40 L628.60,58.40 L629.20,58.40 L629.80,58.40 L630.40,58.40 L631.00,58.40 L631.60,58.40 L632.20,58.40 L632.80,58.40 L633.40,58.40 L634.00,58.40 L634.60,58.40 L635.20,58.40 L635.80,58.40 L636.40,58.40 L637.00,58.40 L637.60,58.40 L638.20,58.40 L638.80,58.40 L639.40,58.40 L640.00,58.40 L640.60,58.40 L641.20,58.40 L641.80,58.40 L642.40,58.40 L643.00,58.40 L643.60,58.40 L644.20,58.40 L644.80,58.40 L645.40,58.40 L646.00,58.40 L646.60,58.40 L647.20,58.40 L647.80,58.40 L648.40,58.40 L649.00,58.40 L649.60,58.40 L650.20,58.40 L650.80,58.40 L651.40,58.40 L652.00,58.40 L652.60,58.40 L653.20,58.40 L653.80,58.40 L654.40,58.40 L655.00,58.40 L655.60,58.40 L656.20,58.40 L656.80,58.40 L657.40,58.40 L658.00,58.40 L658.60,58.40 L659.20,58.40 L659.80,58.40 L660.40,58.40 L661.00,58.40 L661.60,58.40 L662.20,58.40 L662.80,58.40 L663.40,58.40 L664.00,58.40 L664.60,58.40 L665.20,58.40 L665.80,58.40 L666.40,58.40 L667.00,58.40 L667.60,58.40 L668.20,58.40 L668.80,58.40 L669.40,58.40 L670.00,58.40 L670.60,58.40 L671.20,58.40 L671.80,58.40 L672.40,58.40 L673.00,58.40 L673.60,58.40 L674.20,58.40 L674.80,58.40 L675.40,58.40 L676.00,58.40 L676.60,58.40 L677.20,58.40 L677.80,58.40 L678.40,58.40 L679.00,58.40 L679.60,58.40 L680.20,58.40 L680.80,58.40 L681.30,58.40 Z" fill="#D7D7D7" stroke="none" stroke-width="1" />
<path d="M573.40,57.99 L574.00,57.79 L574.60,57.52 L575.20,57.15 L575.80,56.65 L576.40,56.00 L577.00,55.16 L577.60,54.09 L578.20,52.78 L578.80,51.18 L579.40,49.29 L580.00,47.10 L580.60,44.62 L581.20,41.88 L581.80,38.93 L582.40,35.83 L583.00,32.69 L583.60,29.60 L584.20,26.69 L584.80,24.06 L585.40,21.85 L586.00,20.16 L586.60,19.06 L587.20,18.61 L587.80,18.80 L588.40,19.55 L589.00,20.84 L589.60,22.60 L590.20,24.76 L590.80,27.25 L591.40,29.96 L592.00,32.81 L592.60,35.71 L593.20,38.56 L593.80,41.30 L594.40,43.88 L595.00,46.24 L595.60,48.37 L596.20,50.24 L596.80,51.85 L597.40,53.23 L598.00,54.37 L598.60,55.30 L599.20,56.06 L599.80,56.65 L600.40,57.11 L601.00,57.47 L601.60,57.73 L602.20,57.93" fill="none" stroke="#A5A5A5" stroke-width="0.9" />
<path d="M558.40,79.50 L558.40,79.50 L559.00,79.50 L559.60,79.50 L560.20,79.50 L560.80,79.50 L561.40,79.50 L562.00,79.50 L562.60,79.50 L563.20,79.50 L563.80,79.50 L564.40,79.50 L565.00,79.50 L565.60,79.50 L566.20,79.50 L566.80,79.50 L567.40,79.50 L568.00,79.50 L568.60,79.50 L569.20,79.50 L569.80,79.50 L570.40,79.50 L571.00,79.50 L571.60,79.50 L572.20,79.50 L572.80,79.50 L573.40,79.50 L574.00,79.50 L574.60,79.50 L575.20,79.50 L575.80,79.50 L576.40,79.50 L577.00,79.50 L577.60,79.50 L578.20,79.50 L578.80,79.50 L579.40,79.50 L580.00,79.50 L580.60,79.50 L581.20,79.50 L581.80,79.50 L582.40,79.50 L583.00,79.50 L583.60,79.50 L584.20,79.50 L584.80,79.50 L585.40,79.50 L586.00,79.50 L586.60,79.50 L587.20,79.50 L587.80,79.50 L588.40,79.50 L589.00,79.50 L589.60,79.50 L590.20,79.50 L590.80,79.50 L591.40,79.50 L592.00,79.50 L592.60,79.50 L593.20,79.50 L593.80,79.50 L594.40,79.50 L595.00,79.50 L595.60,79.50 L596.20,79.50 L596.80,79.50 L597.40,79.50 L598.00,79.50 L598.60,79.50 L599.20,79.50 L599.80,79.50 L600.40,79.50 L601.00,79.50 L601.60,79.50 L602.20,79.50 L602.80,79.50 L603.40,79.50 L604.00,79.50 L604.60,79.50 L605.20,79.50 L605.80,79.50 L606.40,79.50 L607.00,79.50 L607.60,79.50 L608.20,79.50 L608.80,79.50 L609.40,79.50 L610.00,79.50 L610.60,79.50 L611.20,79.50 L611.80,79.50 L612.40,79.49 L613.00,79.49 L613.60,79.48 L614.20,79.47 L614.80,79.45 L615.40,79.42 L616.00,79.38 L616.60,79.32 L617.20,79.24 L617.80,79.13 L618.40,78.97 L619.00,78.75 L619.60,78.46 L620.20,78.09 L620.80,77.60 L621.40,76.97 L622.00,76.19 L622.60,75.23 L623.20,74.08 L623.80,72.71 L624.40,71.11 L625.00,69.28 L625.60,67.24 L626.20,64.99 L626.80,62.59 L627.40,60.06 L628.00,57.48 L628.60,54.90 L629.20,52.43 L629.80,50.12 L630.40,48.08 L631.00,46.38 L631.60,45.08 L632.20,44.25 L632.80,43.91 L633.40,44.04 L634.00,44.58 L634.60,45.50 L635.20,46.78 L635.80,48.37 L636.40,50.22 L637.00,52.27 L637.60,54.47 L638.20,56.75 L638.80,59.06 L639.40,61.35 L640.00,63.56 L640.60,65.67 L641.20,67.63 L641.80,69.43 L642.40,71.06 L643.00,72.50 L643.60,73.76 L644.20,74.85 L644.80,75.78 L645.40,76.55 L646.00,77.19 L646.60,77.71 L647.20,78.13 L647.80,78.47 L648.40,78.73 L649.00,78.93 L649.60,79.08 L650.20,79.20 L650.80,79.28 L651.40,79.35 L652.00,79.39 L652.60,79.43 L653.20,79.45 L653.80,79.47 L654.40,79.48 L655.00,79.49 L655.60,79.49 L656.20,79.49 L656.80,79.50 L657.40,79.50 L658.00,79.50 L658.60,79.50 L659.20,79.50 L659.80,79.50 L660.40,79.50 L661.00,79.50 L661.60,79.50 L662.20,79.50 L662.80,79.50 L663.40,79.50 L664.00,79.50 L664.60,79.50 L665.20,79.50 L665.80,79.50 L666.40,79.50 L667.00,79.50 L667.60,79.50 L668.20,79.50 L668.80,79.50 L669.40,79.50 L670.00,79.50 L670.60,79.50 L671.20,79.50 L671.80,79.50 L672.40,79.50 L673.00,79.50 L673.60,79.50 L674.20,79.50 L674.80,79.50 L675.40,79.50 L676.00,79.50 L676.60,79.50 L677.20,79.50 L677.80,79.50 L678.40,79.50 L679.00,79.50 L679.60,79.50 L680.20,79.50 L680.80,79.50 L681.30,79.50 Z" fill="#D5E5F5" stroke="none" stroke-width="1" />
<path d="M617.80,79.13 L618.40,78.97 L619.00,78.75 L619.60,78.46 L620.20,78.09 L620.80,77.60 L621.40,76.97 L622.00,76.19 L622.60,75.23 L623.20,74.08 L623.80,72.71 L624.40,71.11 L625.00,69.28 L625.60,67.24 L626.20,64.99 L626.80,62.59 L627.40,60.06 L628.00,57.48 L628.60,54.90 L629.20,52.43 L629.80,50.12 L630.40,48.08 L631.00,46.38 L631.60,45.08 L632.20,44.25 L632.80,43.91 L633.40,44.04 L634.00,44.58 L634.60,45.50 L635.20,46.78 L635.80,48.37 L636.40,50.22 L637.00,52.27 L637.60,54.47 L638.20,56.75 L638.80,59.06 L639.40,61.35 L640.00,63.56 L640.60,65.67 L641.20,67.63 L641.80,69.43 L642.40,71.06 L643.00,72.50 L643.60,73.76 L644.20,74.85 L644.80,75.78 L645.40,76.55 L646.00,77.19 L646.60,77.71 L647.20,78.13 L647.80,78.47 L648.40,78.73 L649.00,78.93 L649.60,79.08" fill="none" stroke="#A8CAEA" stroke-width="0.9" />
<path d="M558.40,101.40 L558.40,101.40 L559.00,101.40 L559.60,101.39 L560.20,101.39 L560.80,101.39 L561.40,101.39 L562.00,101.39 L562.60,101.39 L563.20,101.39 L563.80,101.39 L564.40,101.39 L565.00,101.38 L565.60,101.38 L566.20,101.38 L566.80,101.38 L567.40,101.37 L568.00,101.37 L568.60,101.37 L569.20,101.36 L569.80,101.36 L570.40,101.35 L571.00,101.35 L571.60,101.34 L572.20,101.34 L572.80,101.33 L573.40,101.32 L574.00,101.32 L574.60,101.31 L575.20,101.30 L575.80,101.29 L576.40,101.28 L577.00,101.27 L577.60,101.25 L578.20,101.24 L578.80,101.23 L579.40,101.21 L580.00,101.20 L580.60,101.18 L581.20,101.16 L581.80,101.14 L582.40,101.12 L583.00,101.10 L583.60,101.08 L584.20,101.06 L584.80,101.03 L585.40,101.01 L586.00,100.98 L586.60,100.96 L587.20,100.93 L587.80,100.90 L588.40,100.87 L589.00,100.84 L589.60,100.81 L590.20,100.77 L590.80,100.74 L591.40,100.70 L592.00,100.67 L592.60,100.63 L593.20,100.60 L593.80,100.56 L594.40,100.53 L595.00,100.49 L595.60,100.45 L596.20,100.42 L596.80,100.38 L597.40,100.35 L598.00,100.31 L598.60,100.28 L599.20,100.24 L599.80,100.21 L600.40,100.18 L601.00,100.15 L601.60,100.12 L602.20,100.09 L602.80,100.06 L603.40,100.04 L604.00,100.02 L604.60,99.99 L605.20,99.97 L605.80,99.96 L606.40,99.94 L607.00,99.93 L607.60,99.92 L608.20,99.91 L608.80,99.90 L609.40,99.90 L610.00,99.90 L610.60,99.90 L611.20,99.90 L611.80,99.91 L612.40,99.92 L613.00,99.93 L613.60,99.94 L614.20,99.95 L614.80,99.96 L615.40,99.97 L616.00,99.97 L616.60,99.98 L617.20,99.97 L617.80,99.95 L618.40,99.92 L619.00,99.87 L619.60,99.79 L620.20,99.67 L620.80,99.50 L621.40,99.27 L622.00,98.96 L622.60,98.56 L623.20,98.06 L623.80,97.43 L624.40,96.65 L625.00,95.72 L625.60,94.63 L626.20,93.35 L626.80,91.89 L627.40,90.26 L628.00,88.47 L628.60,86.54 L629.20,84.50 L629.80,82.39 L630.40,80.26 L631.00,78.17 L631.60,76.18 L632.20,74.35 L632.80,72.74 L633.40,71.42 L634.00,70.42 L634.60,69.78 L635.20,69.54 L635.80,69.72 L636.40,70.37 L637.00,71.44 L637.60,72.91 L638.20,74.70 L638.80,76.76 L639.40,78.98 L640.00,81.31 L640.60,83.66 L641.20,85.97 L641.80,88.17 L642.40,90.23 L643.00,92.10 L643.60,93.77 L644.20,95.24 L644.80,96.49 L645.40,97.54 L646.00,98.41 L646.60,99.12 L647.20,99.68 L647.80,100.12 L648.40,100.46 L649.00,100.72 L649.60,100.91 L650.20,101.05 L650.80,101.15 L651.40,101.22 L652.00,101.28 L652.60,101.31 L653.20,101.34 L653.80,101.35 L654.40,101.37 L655.00,101.37 L655.60,101.38 L656.20,101.38 L656.80,101.39 L657.40,101.39 L658.00,101.39 L658.60,101.39 L659.20,101.39 L659.80,101.39 L660.40,101.39 L661.00,101.40 L661.60,101.40 L662.20,101.40 L662.80,101.40 L663.40,101.40 L664.00,101.40 L664.60,101.40 L665.20,101.40 L665.80,101.40 L666.40,101.40 L667.00,101.40 L667.60,101.40 L668.20,101.40 L668.80,101.40 L669.40,101.40 L670.00,101.40 L670.60,101.40 L671.20,101.40 L671.80,101.40 L672.40,101.40 L673.00,101.40 L673.60,101.40 L674.20,101.40 L674.80,101.40 L675.40,101.40 L676.00,101.40 L676.60,101.40 L677.20,101.40 L677.80,101.40 L678.40,101.40 L679.00,101.40 L679.60,101.40 L680.20,101.40 L680.80,101.40 L681.30,101.40 Z" fill="#A9CBEB" stroke="none" stroke-width="1" />
<path d="M590.80,100.74 L591.40,100.70 L592.00,100.67 L592.60,100.63 L593.20,100.60 L593.80,100.56 L594.40,100.53 L595.00,100.49 L595.60,100.45 L596.20,100.42 L596.80,100.38 L597.40,100.35 L598.00,100.31 L598.60,100.28 L599.20,100.24 L599.80,100.21 L600.40,100.18 L601.00,100.15 L601.60,100.12 L602.20,100.09 L602.80,100.06 L603.40,100.04 L604.00,100.02 L604.60,99.99 L605.20,99.97 L605.80,99.96 L606.40,99.94 L607.00,99.93 L607.60,99.92 L608.20,99.91 L608.80,99.90 L609.40,99.90 L610.00,99.90 L610.60,99.90 L611.20,99.90 L611.80,99.91 L612.40,99.92 L613.00,99.93 L613.60,99.94 L614.20,99.95 L614.80,99.96 L615.40,99.97 L616.00,99.97 L616.60,99.98 L617.20,99.97 L617.80,99.95 L618.40,99.92 L619.00,99.87 L619.60,99.79 L620.20,99.67 L620.80,99.50 L621.40,99.27 L622.00,98.96 L622.60,98.56 L623.20,98.06 L623.80,97.43 L624.40,96.65 L625.00,95.72 L625.60,94.63 L626.20,93.35 L626.80,91.89 L627.40,90.26 L628.00,88.47 L628.60,86.54 L629.20,84.50 L629.80,82.39 L630.40,80.26 L631.00,78.17 L631.60,76.18 L632.20,74.35 L632.80,72.74 L633.40,71.42 L634.00,70.42 L634.60,69.78 L635.20,69.54 L635.80,69.72 L636.40,70.37 L637.00,71.44 L637.60,72.91 L638.20,74.70 L638.80,76.76 L639.40,78.98 L640.00,81.31 L640.60,83.66 L641.20,85.97 L641.80,88.17 L642.40,90.23 L643.00,92.10 L643.60,93.77 L644.20,95.24 L644.80,96.49 L645.40,97.54 L646.00,98.41 L646.60,99.12 L647.20,99.68 L647.80,100.12 L648.40,100.46 L649.00,100.72 L649.60,100.91" fill="none" stroke="#5E9DD6" stroke-width="0.9" />
<path d="M558.40,122.50 L558.40,122.48 L559.00,122.48 L559.60,122.48 L560.20,122.48 L560.80,122.47 L561.40,122.47 L562.00,122.47 L562.60,122.46 L563.20,122.46 L563.80,122.46 L564.40,122.45 L565.00,122.45 L565.60,122.44 L566.20,122.43 L566.80,122.43 L567.40,122.42 L568.00,122.41 L568.60,122.40 L569.20,122.39 L569.80,122.38 L570.40,122.37 L571.00,122.36 L571.60,122.35 L572.20,122.34 L572.80,122.32 L573.40,122.31 L574.00,122.29 L574.60,122.27 L575.20,122.26 L575.80,122.24 L576.40,122.22 L577.00,122.19 L577.60,122.17 L578.20,122.15 L578.80,122.12 L579.40,122.10 L580.00,122.07 L580.60,122.04 L581.20,122.01 L581.80,121.98 L582.40,121.94 L583.00,121.91 L583.60,121.87 L584.20,121.84 L584.80,121.80 L585.40,121.76 L586.00,121.72 L586.60,121.68 L587.20,121.64 L587.80,121.60 L588.40,121.56 L589.00,121.51 L589.60,121.47 L590.20,121.42 L590.80,121.38 L591.40,121.33 L592.00,121.29 L592.60,121.24 L593.20,121.20 L593.80,121.15 L594.40,121.11 L595.00,121.06 L595.60,121.02 L596.20,120.98 L596.80,120.93 L597.40,120.89 L598.00,120.85 L598.60,120.82 L599.20,120.78 L599.80,120.75 L600.40,120.71 L601.00,120.68 L601.60,120.65 L602.20,120.63 L602.80,120.60 L603.40,120.58 L604.00,120.56 L604.60,120.54 L605.20,120.53 L605.80,120.52 L606.40,120.51 L607.00,120.50 L607.60,120.50 L608.20,120.50 L608.80,120.50 L609.40,120.51 L610.00,120.52 L610.60,120.53 L611.20,120.54 L611.80,120.56 L612.40,120.57 L613.00,120.60 L613.60,120.62 L614.20,120.64 L614.80,120.67 L615.40,120.70 L616.00,120.73 L616.60,120.77 L617.20,120.80 L617.80,120.84 L618.40,120.88 L619.00,120.91 L619.60,120.95 L620.20,120.98 L620.80,121.01 L621.40,121.03 L622.00,121.04 L622.60,121.04 L623.20,121.01 L623.80,120.95 L624.40,120.86 L625.00,120.71 L625.60,120.49 L626.20,120.18 L626.80,119.76 L627.40,119.22 L628.00,118.54 L628.60,117.68 L629.20,116.64 L629.80,115.41 L630.40,113.99 L631.00,112.38 L631.60,110.60 L632.20,108.68 L632.80,106.68 L633.40,104.64 L634.00,102.64 L634.60,100.74 L635.20,99.03 L635.80,97.58 L636.40,96.45 L637.00,95.70 L637.60,95.36 L638.20,95.46 L638.80,96.01 L639.40,96.98 L640.00,98.33 L640.60,99.98 L641.20,101.87 L641.80,103.92 L642.40,106.05 L643.00,108.17 L643.60,110.23 L644.20,112.16 L644.80,113.94 L645.40,115.52 L646.00,116.91 L646.60,118.09 L647.20,119.08 L647.80,119.89 L648.40,120.53 L649.00,121.04 L649.60,121.43 L650.20,121.73 L650.80,121.95 L651.40,122.11 L652.00,122.23 L652.60,122.31 L653.20,122.36 L653.80,122.40 L654.40,122.43 L655.00,122.45 L655.60,122.46 L656.20,122.47 L656.80,122.48 L657.40,122.48 L658.00,122.48 L658.60,122.49 L659.20,122.49 L659.80,122.49 L660.40,122.49 L661.00,122.49 L661.60,122.49 L662.20,122.49 L662.80,122.49 L663.40,122.50 L664.00,122.50 L664.60,122.50 L665.20,122.50 L665.80,122.50 L666.40,122.50 L667.00,122.50 L667.60,122.50 L668.20,122.50 L668.80,122.50 L669.40,122.50 L670.00,122.50 L670.60,122.50 L671.20,122.50 L671.80,122.50 L672.40,122.50 L673.00,122.50 L673.60,122.50 L674.20,122.50 L674.80,122.50 L675.40,122.50 L676.00,122.50 L676.60,122.50 L677.20,122.50 L677.80,122.50 L678.40,122.50 L679.00,122.50 L679.60,122.50 L680.20,122.50 L680.80,122.50 L681.30,122.50 Z" fill="#9DBDE2" stroke="none" stroke-width="1" />
<path d="M584.20,121.84 L584.80,121.80 L585.40,121.76 L586.00,121.72 L586.60,121.68 L587.20,121.64 L587.80,121.60 L588.40,121.56 L589.00,121.51 L589.60,121.47 L590.20,121.42 L590.80,121.38 L591.40,121.33 L592.00,121.29 L592.60,121.24 L593.20,121.20 L593.80,121.15 L594.40,121.11 L595.00,121.06 L595.60,121.02 L596.20,120.98 L596.80,120.93 L597.40,120.89 L598.00,120.85 L598.60,120.82 L599.20,120.78 L599.80,120.75 L600.40,120.71 L601.00,120.68 L601.60,120.65 L602.20,120.63 L602.80,120.60 L603.40,120.58 L604.00,120.56 L604.60,120.54 L605.20,120.53 L605.80,120.52 L606.40,120.51 L607.00,120.50 L607.60,120.50 L608.20,120.50 L608.80,120.50 L609.40,120.51 L610.00,120.52 L610.60,120.53 L611.20,120.54 L611.80,120.56 L612.40,120.57 L613.00,120.60 L613.60,120.62 L614.20,120.64 L614.80,120.67 L615.40,120.70 L616.00,120.73 L616.60,120.77 L617.20,120.80 L617.80,120.84 L618.40,120.88 L619.00,120.91 L619.60,120.95 L620.20,120.98 L620.80,121.01 L621.40,121.03 L622.00,121.04 L622.60,121.04 L623.20,121.01 L623.80,120.95 L624.40,120.86 L625.00,120.71 L625.60,120.49 L626.20,120.18 L626.80,119.76 L627.40,119.22 L628.00,118.54 L628.60,117.68 L629.20,116.64 L629.80,115.41 L630.40,113.99 L631.00,112.38 L631.60,110.60 L632.20,108.68 L632.80,106.68 L633.40,104.64 L634.00,102.64 L634.60,100.74 L635.20,99.03 L635.80,97.58 L636.40,96.45 L637.00,95.70 L637.60,95.36 L638.20,95.46 L638.80,96.01 L639.40,96.98 L640.00,98.33 L640.60,99.98 L641.20,101.87 L641.80,103.92 L642.40,106.05 L643.00,108.17 L643.60,110.23 L644.20,112.16 L644.80,113.94 L645.40,115.52 L646.00,116.91 L646.60,118.09 L647.20,119.08 L647.80,119.89 L648.40,120.53 L649.00,121.04 L649.60,121.43 L650.20,121.73 L650.80,121.95 L651.40,122.11" fill="none" stroke="#437FC2" stroke-width="0.9" />
<path d="M558.40,144.00 L558.40,144.00 L559.00,144.00 L559.60,144.00 L560.20,144.00 L560.80,144.00 L561.40,143.99 L562.00,143.99 L562.60,143.99 L563.20,143.99 L563.80,143.99 L564.40,143.99 L565.00,143.99 L565.60,143.99 L566.20,143.98 L566.80,143.98 L567.40,143.98 L568.00,143.97 L568.60,143.97 L569.20,143.97 L569.80,143.96 L570.40,143.96 L571.00,143.95 L571.60,143.95 L572.20,143.94 L572.80,143.93 L573.40,143.92 L574.00,143.91 L574.60,143.90 L575.20,143.89 L575.80,143.88 L576.40,143.87 L577.00,143.85 L577.60,143.84 L578.20,143.82 L578.80,143.80 L579.40,143.78 L580.00,143.76 L580.60,143.73 L581.20,143.71 L581.80,143.68 L582.40,143.65 L583.00,143.62 L583.60,143.59 L584.20,143.55 L584.80,143.51 L585.40,143.47 L586.00,143.43 L586.60,143.39 L587.20,143.34 L587.80,143.29 L588.40,143.24 L589.00,143.19 L589.60,143.13 L590.20,143.07 L590.80,143.01 L591.40,142.95 L592.00,142.89 L592.60,142.82 L593.20,142.75 L593.80,142.68 L594.40,142.61 L595.00,142.54 L595.60,142.47 L596.20,142.40 L596.80,142.33 L597.40,142.25 L598.00,142.18 L598.60,142.11 L599.20,142.04 L599.80,141.97 L600.40,141.90 L601.00,141.83 L601.60,141.77 L602.20,141.70 L602.80,141.64 L603.40,141.58 L604.00,141.53 L604.60,141.48 L605.20,141.43 L605.80,141.39 L606.40,141.35 L607.00,141.31 L607.60,141.28 L608.20,141.26 L608.80,141.23 L609.40,141.22 L610.00,141.21 L610.60,141.20 L611.20,141.20 L611.80,141.21 L612.40,141.22 L613.00,141.24 L613.60,141.26 L614.20,141.30 L614.80,141.34 L615.40,141.38 L616.00,141.43 L616.60,141.49 L617.20,141.55 L617.80,141.61 L618.40,141.68 L619.00,141.76 L619.60,141.83 L620.20,141.91 L620.80,141.99 L621.40,142.07 L622.00,142.15 L622.60,142.22 L623.20,142.29 L623.80,142.36 L624.40,142.41 L625.00,142.45 L625.60,142.46 L626.20,142.46 L626.80,142.41 L627.40,142.32 L628.00,142.18 L628.60,141.97 L629.20,141.68 L629.80,141.30 L630.40,140.82 L631.00,140.24 L631.60,139.55 L632.20,138.75 L632.80,137.86 L633.40,136.88 L634.00,135.85 L634.60,134.80 L635.20,133.75 L635.80,132.76 L636.40,131.85 L637.00,131.09 L637.60,130.49 L638.20,130.09 L638.80,129.92 L639.40,129.98 L640.00,130.27 L640.60,130.78 L641.20,131.48 L641.80,132.35 L642.40,133.33 L643.00,134.40 L643.60,135.50 L644.20,136.60 L644.80,137.67 L645.40,138.67 L646.00,139.59 L646.60,140.42 L647.20,141.13 L647.80,141.74 L648.40,142.26 L649.00,142.67 L649.60,143.01 L650.20,143.27 L650.80,143.47 L651.40,143.62 L652.00,143.74 L652.60,143.82 L653.20,143.88 L653.80,143.92 L654.40,143.94 L655.00,143.96 L655.60,143.98 L656.20,143.98 L656.80,143.99 L657.40,143.99 L658.00,144.00 L658.60,144.00 L659.20,144.00 L659.80,144.00 L660.40,144.00 L661.00,144.00 L661.60,144.00 L662.20,144.00 L662.80,144.00 L663.40,144.00 L664.00,144.00 L664.60,144.00 L665.20,144.00 L665.80,144.00 L666.40,144.00 L667.00,144.00 L667.60,144.00 L668.20,144.00 L668.80,144.00 L669.40,144.00 L670.00,144.00 L670.60,144.00 L671.20,144.00 L671.80,144.00 L672.40,144.00 L673.00,144.00 L673.60,144.00 L674.20,144.00 L674.80,144.00 L675.40,144.00 L676.00,144.00 L676.60,144.00 L677.20,144.00 L677.80,144.00 L678.40,144.00 L679.00,144.00 L679.60,144.00 L680.20,144.00 L680.80,144.00 L681.30,144.00 Z" fill="#9D9BD0" stroke="none" stroke-width="1" />
<path d="M586.60,143.39 L587.20,143.34 L587.80,143.29 L588.40,143.24 L589.00,143.19 L589.60,143.13 L590.20,143.07 L590.80,143.01 L591.40,142.95 L592.00,142.89 L592.60,142.82 L593.20,142.75 L593.80,142.68 L594.40,142.61 L595.00,142.54 L595.60,142.47 L596.20,142.40 L596.80,142.33 L597.40,142.25 L598.00,142.18 L598.60,142.11 L599.20,142.04 L599.80,141.97 L600.40,141.90 L601.00,141.83 L601.60,141.77 L602.20,141.70 L602.80,141.64 L603.40,141.58 L604.00,141.53 L604.60,141.48 L605.20,141.43 L605.80,141.39 L606.40,141.35 L607.00,141.31 L607.60,141.28 L608.20,141.26 L608.80,141.23 L609.40,141.22 L610.00,141.21 L610.60,141.20 L611.20,141.20 L611.80,141.21 L612.40,141.22 L613.00,141.24 L613.60,141.26 L614.20,141.30 L614.80,141.34 L615.40,141.38 L616.00,141.43 L616.60,141.49 L617.20,141.55 L617.80,141.61 L618.40,141.68 L619.00,141.76 L619.60,141.83 L620.20,141.91 L620.80,141.99 L621.40,142.07 L622.00,142.15 L622.60,142.22 L623.20,142.29 L623.80,142.36 L624.40,142.41 L625.00,142.45 L625.60,142.46 L626.20,142.46 L626.80,142.41 L627.40,142.32 L628.00,142.18 L628.60,141.97 L629.20,141.68 L629.80,141.30 L630.40,140.82 L631.00,140.24 L631.60,139.55 L632.20,138.75 L632.80,137.86 L633.40,136.88 L634.00,135.85 L634.60,134.80 L635.20,133.75 L635.80,132.76 L636.40,131.85 L637.00,131.09 L637.60,130.49 L638.20,130.09 L638.80,129.92 L639.40,129.98 L640.00,130.27 L640.60,130.78 L641.20,131.48 L641.80,132.35 L642.40,133.33 L643.00,134.40 L643.60,135.50 L644.20,136.60 L644.80,137.67 L645.40,138.67 L646.00,139.59 L646.60,140.42 L647.20,141.13 L647.80,141.74 L648.40,142.26 L649.00,142.67 L649.60,143.01 L650.20,143.27 L650.80,143.47 L651.40,143.62" fill="none" stroke="#6C68AA" stroke-width="0.9" />
<line x1="632.60" y1="13.60" x2="632.60" y2="144.00" stroke="#333" stroke-width="1" stroke-dasharray="2.4,1.4"/>
<text x="677.90" y="57.10" font-size="13" text-anchor="end" fill="#1a1a1a" >iso</text>
<text x="680.80" y="78.40" font-size="13" text-anchor="end" fill="#1a1a1a" >0:1</text>
<text x="680.80" y="98.60" font-size="13" text-anchor="end" fill="#1a1a1a" >1:20</text>
<text x="680.80" y="119.90" font-size="13" text-anchor="end" fill="#1a1a1a" >1:10</text>
<text x="680.80" y="139.50" font-size="13" text-anchor="end" fill="#1a1a1a" >1:5</text>
<rect x="557.60" y="13.60" width="124.50" height="130.40" fill="none" stroke="#000" stroke-width="1.5" />
<text x="606.50" y="9.60" font-size="13" font-weight="bold" fill="#111" >L363</text>
<line x1="422.50" y1="143.90" x2="422.50" y2="146.40" stroke="#222" stroke-width="0.8" />
<line x1="435.50" y1="143.90" x2="435.50" y2="146.40" stroke="#222" stroke-width="0.8" />
<line x1="447.50" y1="143.90" x2="447.50" y2="146.40" stroke="#222" stroke-width="0.8" />
<line x1="478.60" y1="143.90" x2="478.60" y2="146.40" stroke="#222" stroke-width="0.8" />
<line x1="507.60" y1="143.90" x2="507.60" y2="146.40" stroke="#222" stroke-width="0.8" />
<line x1="536.70" y1="143.90" x2="536.70" y2="146.40" stroke="#222" stroke-width="0.8" />
<line x1="428.00" y1="143.90" x2="428.00" y2="145.40" stroke="#333" stroke-width="0.6" />
<line x1="442.00" y1="143.90" x2="442.00" y2="145.40" stroke="#333" stroke-width="0.6" />
<line x1="455.00" y1="143.90" x2="455.00" y2="145.40" stroke="#333" stroke-width="0.6" />
<line x1="463.00" y1="143.90" x2="463.00" y2="145.40" stroke="#333" stroke-width="0.6" />
<line x1="469.00" y1="143.90" x2="469.00" y2="145.40" stroke="#333" stroke-width="0.6" />
<line x1="474.00" y1="143.90" x2="474.00" y2="145.40" stroke="#333" stroke-width="0.6" />
<line x1="486.00" y1="143.90" x2="486.00" y2="145.40" stroke="#333" stroke-width="0.6" />
<line x1="491.00" y1="143.90" x2="491.00" y2="145.40" stroke="#333" stroke-width="0.6" />
<line x1="495.00" y1="143.90" x2="495.00" y2="145.40" stroke="#333" stroke-width="0.6" />
<line x1="499.00" y1="143.90" x2="499.00" y2="145.40" stroke="#333" stroke-width="0.6" />
<line x1="503.00" y1="143.90" x2="503.00" y2="145.40" stroke="#333" stroke-width="0.6" />
<line x1="515.00" y1="143.90" x2="515.00" y2="145.40" stroke="#333" stroke-width="0.6" />
<line x1="520.00" y1="143.90" x2="520.00" y2="145.40" stroke="#333" stroke-width="0.6" />
<line x1="524.00" y1="143.90" x2="524.00" y2="145.40" stroke="#333" stroke-width="0.6" />
<line x1="528.00" y1="143.90" x2="528.00" y2="145.40" stroke="#333" stroke-width="0.6" />
<line x1="532.00" y1="143.90" x2="532.00" y2="145.40" stroke="#333" stroke-width="0.6" />
<line x1="540.00" y1="143.90" x2="540.00" y2="145.40" stroke="#333" stroke-width="0.6" />
<text x="436.00" y="156.60" font-size="6.8" text-anchor="middle" fill="#222" >0</text>
<text x="474.60" y="156.60" font-size="6.8" fill="#222" textLength="6.6" lengthAdjust="spacingAndGlyphs" >10</text>
<text x="481.50" y="151.90" font-size="6.2" fill="#222" >3</text>
<text x="503.00" y="156.60" font-size="6.8" fill="#222" textLength="6.6" lengthAdjust="spacingAndGlyphs" >10</text>
<text x="509.90" y="151.90" font-size="6.2" fill="#222" >4</text>
<text x="531.80" y="156.60" font-size="6.8" fill="#222" textLength="6.6" lengthAdjust="spacingAndGlyphs" >10</text>
<text x="538.70" y="151.90" font-size="6.2" fill="#222" >5</text>
<line x1="561.00" y1="144.00" x2="561.00" y2="146.50" stroke="#222" stroke-width="0.8" />
<line x1="573.50" y1="144.00" x2="573.50" y2="146.50" stroke="#222" stroke-width="0.8" />
<line x1="585.50" y1="144.00" x2="585.50" y2="146.50" stroke="#222" stroke-width="0.8" />
<line x1="617.50" y1="144.00" x2="617.50" y2="146.50" stroke="#222" stroke-width="0.8" />
<line x1="646.60" y1="144.00" x2="646.60" y2="146.50" stroke="#222" stroke-width="0.8" />
<line x1="675.70" y1="144.00" x2="675.70" y2="146.50" stroke="#222" stroke-width="0.8" />
<line x1="566.00" y1="144.00" x2="566.00" y2="145.50" stroke="#333" stroke-width="0.6" />
<line x1="580.00" y1="144.00" x2="580.00" y2="145.50" stroke="#333" stroke-width="0.6" />
<line x1="593.00" y1="144.00" x2="593.00" y2="145.50" stroke="#333" stroke-width="0.6" />
<line x1="601.00" y1="144.00" x2="601.00" y2="145.50" stroke="#333" stroke-width="0.6" />
<line x1="607.00" y1="144.00" x2="607.00" y2="145.50" stroke="#333" stroke-width="0.6" />
<line x1="612.00" y1="144.00" x2="612.00" y2="145.50" stroke="#333" stroke-width="0.6" />
<line x1="624.00" y1="144.00" x2="624.00" y2="145.50" stroke="#333" stroke-width="0.6" />
<line x1="629.00" y1="144.00" x2="629.00" y2="145.50" stroke="#333" stroke-width="0.6" />
<line x1="633.00" y1="144.00" x2="633.00" y2="145.50" stroke="#333" stroke-width="0.6" />
<line x1="637.00" y1="144.00" x2="637.00" y2="145.50" stroke="#333" stroke-width="0.6" />
<line x1="641.00" y1="144.00" x2="641.00" y2="145.50" stroke="#333" stroke-width="0.6" />
<line x1="653.00" y1="144.00" x2="653.00" y2="145.50" stroke="#333" stroke-width="0.6" />
<line x1="658.00" y1="144.00" x2="658.00" y2="145.50" stroke="#333" stroke-width="0.6" />
<line x1="662.00" y1="144.00" x2="662.00" y2="145.50" stroke="#333" stroke-width="0.6" />
<line x1="666.00" y1="144.00" x2="666.00" y2="145.50" stroke="#333" stroke-width="0.6" />
<line x1="670.00" y1="144.00" x2="670.00" y2="145.50" stroke="#333" stroke-width="0.6" />
<text x="574.30" y="156.60" font-size="6.8" text-anchor="middle" fill="#222" >0</text>
<text x="613.60" y="156.60" font-size="6.8" fill="#222" textLength="6.6" lengthAdjust="spacingAndGlyphs" >10</text>
<text x="620.50" y="151.90" font-size="6.2" fill="#222" >3</text>
<text x="642.80" y="156.60" font-size="6.8" fill="#222" textLength="6.6" lengthAdjust="spacingAndGlyphs" >10</text>
<text x="649.70" y="151.90" font-size="6.2" fill="#222" >4</text>
<text x="671.20" y="156.60" font-size="6.8" fill="#222" textLength="6.6" lengthAdjust="spacingAndGlyphs" >10</text>
<text x="678.10" y="151.90" font-size="6.2" fill="#222" >5</text>
<line x1="412.40" y1="166.20" x2="674.00" y2="166.20" stroke="#111" stroke-width="1.3" />
<path d="M684.4,166.2 L672.8,160.4 L672.8,172.0 Z" fill="#111" stroke="none" stroke-width="1" />
<line x1="412.40" y1="166.80" x2="412.40" y2="23.50" stroke="#111" stroke-width="1.3" />
<path d="M412.4,13.6 L406.6,24.5 L418.2,24.5 Z" fill="#111" stroke="none" stroke-width="1" />
<text x="407.10" y="79.30" font-size="13" text-anchor="middle" fill="#1a1a1a" transform="rotate(-90 407.10 79.30)" >Cell count</text>
<text x="516.70" y="179.20" font-size="13" fill="#1a1a1a" >MCL-1-FITC</text>
<rect x="83.90" y="328.16" width="16.70" height="37.74" fill="#D3E3F6" stroke="#000" stroke-width="1.8" />
<rect x="107.00" y="294.75" width="18.20" height="71.15" fill="#6E9FD6" stroke="#000" stroke-width="1.8" />
<rect x="130.80" y="296.45" width="18.10" height="69.45" fill="#1C56A8" stroke="#000" stroke-width="1.8" />
<line x1="116.10" y1="303.62" x2="116.10" y2="283.43" stroke="#333" stroke-width="1.1" />
<line x1="111.30" y1="283.43" x2="120.90" y2="283.43" stroke="#333" stroke-width="1.1" />
<line x1="111.30" y1="303.62" x2="120.90" y2="303.62" stroke="#333" stroke-width="1.1" />
<line x1="139.80" y1="303.62" x2="139.80" y2="286.07" stroke="#333" stroke-width="1.1" />
<line x1="135.00" y1="286.07" x2="144.60" y2="286.07" stroke="#333" stroke-width="1.1" />
<line x1="135.00" y1="303.62" x2="144.60" y2="303.62" stroke="#333" stroke-width="1.1" />
<line x1="70.70" y1="328.16" x2="159.50" y2="328.16" stroke="#000" stroke-width="1.1" />
<circle cx="86.20" cy="328.16" r="2.10" fill="#000" stroke="none" stroke-width="1" />
<circle cx="90.20" cy="327.78" r="2.10" fill="#000" stroke="none" stroke-width="1" />
<circle cx="94.40" cy="327.97" r="2.10" fill="#000" stroke="none" stroke-width="1" />
<circle cx="98.40" cy="328.16" r="2.10" fill="#000" stroke="none" stroke-width="1" />
<circle cx="116.10" cy="260.22" r="2.10" fill="#000" stroke="none" stroke-width="1" />
<circle cx="116.10" cy="284.75" r="2.10" fill="#000" stroke="none" stroke-width="1" />
<circle cx="111.90" cy="300.79" r="2.10" fill="#000" stroke="none" stroke-width="1" />
<circle cx="120.20" cy="301.36" r="2.10" fill="#000" stroke="none" stroke-width="1" />
<circle cx="116.10" cy="320.61" r="2.10" fill="#000" stroke="none" stroke-width="1" />
<circle cx="139.80" cy="270.41" r="2.10" fill="#000" stroke="none" stroke-width="1" />
<circle cx="135.80" cy="290.41" r="2.10" fill="#000" stroke="none" stroke-width="1" />
<circle cx="144.00" cy="287.02" r="2.10" fill="#000" stroke="none" stroke-width="1" />
<circle cx="139.80" cy="305.70" r="2.10" fill="#000" stroke="none" stroke-width="1" />
<circle cx="139.80" cy="321.55" r="2.10" fill="#000" stroke="none" stroke-width="1" />
<line x1="72.70" y1="233.30" x2="72.70" y2="366.80" stroke="#000" stroke-width="1.8" />
<line x1="71.80" y1="365.90" x2="159.50" y2="365.90" stroke="#000" stroke-width="1.8" />
<line x1="66.20" y1="365.90" x2="72.70" y2="365.90" stroke="#000" stroke-width="1.6" />
<text x="65.20" y="370.20" font-size="12" text-anchor="end" fill="#111" >30</text>
<line x1="66.20" y1="347.03" x2="72.70" y2="347.03" stroke="#000" stroke-width="1.6" />
<text x="65.20" y="351.33" font-size="12" text-anchor="end" fill="#111" >40</text>
<line x1="66.20" y1="328.16" x2="72.70" y2="328.16" stroke="#000" stroke-width="1.6" />
<text x="65.20" y="332.46" font-size="12" text-anchor="end" fill="#111" >50</text>
<line x1="66.20" y1="309.29" x2="72.70" y2="309.29" stroke="#000" stroke-width="1.6" />
<text x="65.20" y="313.59" font-size="12" text-anchor="end" fill="#111" >60</text>
<line x1="66.20" y1="290.41" x2="72.70" y2="290.41" stroke="#000" stroke-width="1.6" />
<text x="65.20" y="294.71" font-size="12" text-anchor="end" fill="#111" >70</text>
<line x1="66.20" y1="271.54" x2="72.70" y2="271.54" stroke="#000" stroke-width="1.6" />
<text x="65.20" y="275.84" font-size="12" text-anchor="end" fill="#111" >80</text>
<line x1="66.20" y1="252.67" x2="72.70" y2="252.67" stroke="#000" stroke-width="1.6" />
<text x="65.20" y="256.97" font-size="12" text-anchor="end" fill="#111" >90</text>
<line x1="66.20" y1="233.80" x2="72.70" y2="233.80" stroke="#000" stroke-width="1.6" />
<text x="65.20" y="238.10" font-size="12" text-anchor="end" fill="#111" >100</text>
<line x1="92.25" y1="365.90" x2="92.25" y2="371.90" stroke="#000" stroke-width="1.6" />
<text x="97.45" y="379.10" font-size="12.5" text-anchor="end" fill="#111" transform="rotate(-45 97.45 379.10)" >0:1</text>
<line x1="116.10" y1="365.90" x2="116.10" y2="371.90" stroke="#000" stroke-width="1.6" />
<text x="122.50" y="378.20" font-size="12.5" text-anchor="end" fill="#111" transform="rotate(-45 122.50 378.20)" >1:10</text>
<line x1="139.85" y1="365.90" x2="139.85" y2="371.90" stroke="#000" stroke-width="1.6" />
<text x="145.05" y="379.10" font-size="12.5" text-anchor="end" fill="#111" transform="rotate(-45 145.05 379.10)" >1:5</text>
<line x1="92.25" y1="235.90" x2="139.75" y2="235.90" stroke="#000" stroke-width="1.6" />
<text x="115.20" y="232.70" font-size="9.6" text-anchor="middle" fill="#111"><tspan font-style="italic">P</tspan> = 0.030</text>
<line x1="92.25" y1="254.90" x2="116.10" y2="254.90" stroke="#000" stroke-width="1.6" />
<text x="104.20" y="251.70" font-size="9.6" text-anchor="middle" fill="#111"><tspan font-style="italic">P</tspan> = 0.044</text>
<text x="35.20" y="206.30" font-size="12.7" font-weight="bold" fill="#111" textLength="128.6" lengthAdjust="spacingAndGlyphs" >H929 + BCMA CAR T</text>
<text x="42.00" y="300.65" font-size="12.87" text-anchor="middle" fill="#111" transform="rotate(-90 42.00 300.65)" >% above median MCL-1 at 0:1</text>
<text x="116.00" y="409.50" font-size="12.8" text-anchor="middle" fill="#111" >E:T ratio</text>
<rect x="242.50" y="326.72" width="19.30" height="39.58" fill="#D3E3F6" stroke="#000" stroke-width="1.8" />
<rect x="267.70" y="324.80" width="18.40" height="41.50" fill="#6E9FD6" stroke="#000" stroke-width="1.8" />
<rect x="292.00" y="317.11" width="18.90" height="49.19" fill="#1C56A8" stroke="#000" stroke-width="1.8" />
<line x1="252.10" y1="327.87" x2="252.10" y2="325.18" stroke="#333" stroke-width="1.1" />
<line x1="247.30" y1="325.18" x2="256.90" y2="325.18" stroke="#333" stroke-width="1.1" />
<line x1="247.30" y1="327.87" x2="256.90" y2="327.87" stroke="#333" stroke-width="1.1" />
<line x1="276.90" y1="329.02" x2="276.90" y2="319.80" stroke="#333" stroke-width="1.1" />
<line x1="272.10" y1="319.80" x2="281.70" y2="319.80" stroke="#333" stroke-width="1.1" />
<line x1="272.10" y1="329.02" x2="281.70" y2="329.02" stroke="#333" stroke-width="1.1" />
<line x1="301.40" y1="318.46" x2="301.40" y2="315.57" stroke="#333" stroke-width="1.1" />
<line x1="296.60" y1="315.57" x2="306.20" y2="315.57" stroke="#333" stroke-width="1.1" />
<line x1="296.60" y1="318.46" x2="306.20" y2="318.46" stroke="#333" stroke-width="1.1" />
<line x1="229.90" y1="327.39" x2="321.50" y2="327.39" stroke="#000" stroke-width="1.1" />
<circle cx="243.70" cy="327.10" r="2.10" fill="#000" stroke="none" stroke-width="1" />
<circle cx="251.90" cy="323.45" r="2.10" fill="#000" stroke="none" stroke-width="1" />
<circle cx="260.20" cy="326.33" r="2.10" fill="#000" stroke="none" stroke-width="1" />
<circle cx="276.70" cy="313.65" r="2.10" fill="#000" stroke="none" stroke-width="1" />
<circle cx="274.30" cy="323.07" r="2.10" fill="#000" stroke="none" stroke-width="1" />
<circle cx="276.70" cy="328.64" r="2.10" fill="#000" stroke="none" stroke-width="1" />
<circle cx="296.70" cy="313.08" r="2.10" fill="#000" stroke="none" stroke-width="1" />
<circle cx="300.30" cy="316.73" r="2.10" fill="#000" stroke="none" stroke-width="1" />
<circle cx="305.00" cy="315.38" r="2.10" fill="#000" stroke="none" stroke-width="1" />
<circle cx="301.50" cy="319.23" r="2.10" fill="#000" stroke="none" stroke-width="1" />
<line x1="231.90" y1="231.30" x2="231.90" y2="367.20" stroke="#000" stroke-width="1.8" />
<line x1="231.00" y1="366.30" x2="321.50" y2="366.30" stroke="#000" stroke-width="1.8" />
<line x1="225.40" y1="366.30" x2="231.90" y2="366.30" stroke="#000" stroke-width="1.6" />
<text x="224.40" y="370.60" font-size="12" text-anchor="end" fill="#111" >30</text>
<line x1="225.40" y1="347.09" x2="231.90" y2="347.09" stroke="#000" stroke-width="1.6" />
<text x="224.40" y="351.39" font-size="12" text-anchor="end" fill="#111" >40</text>
<line x1="225.40" y1="327.87" x2="231.90" y2="327.87" stroke="#000" stroke-width="1.6" />
<text x="224.40" y="332.17" font-size="12" text-anchor="end" fill="#111" >50</text>
<line x1="225.40" y1="308.66" x2="231.90" y2="308.66" stroke="#000" stroke-width="1.6" />
<text x="224.40" y="312.96" font-size="12" text-anchor="end" fill="#111" >60</text>
<line x1="225.40" y1="289.44" x2="231.90" y2="289.44" stroke="#000" stroke-width="1.6" />
<text x="224.40" y="293.74" font-size="12" text-anchor="end" fill="#111" >70</text>
<line x1="225.40" y1="270.23" x2="231.90" y2="270.23" stroke="#000" stroke-width="1.6" />
<text x="224.40" y="274.53" font-size="12" text-anchor="end" fill="#111" >80</text>
<line x1="225.40" y1="251.01" x2="231.90" y2="251.01" stroke="#000" stroke-width="1.6" />
<text x="224.40" y="255.31" font-size="12" text-anchor="end" fill="#111" >90</text>
<line x1="225.40" y1="231.80" x2="231.90" y2="231.80" stroke="#000" stroke-width="1.6" />
<text x="224.40" y="236.10" font-size="12" text-anchor="end" fill="#111" >100</text>
<line x1="252.15" y1="366.30" x2="252.15" y2="372.30" stroke="#000" stroke-width="1.6" />
<text x="257.35" y="379.50" font-size="12.5" text-anchor="end" fill="#111" transform="rotate(-45 257.35 379.50)" >0:1</text>
<line x1="276.90" y1="366.30" x2="276.90" y2="372.30" stroke="#000" stroke-width="1.6" />
<text x="283.30" y="378.60" font-size="12.5" text-anchor="end" fill="#111" transform="rotate(-45 283.30 378.60)" >1:10</text>
<line x1="301.45" y1="366.30" x2="301.45" y2="372.30" stroke="#000" stroke-width="1.6" />
<text x="306.65" y="379.50" font-size="12.5" text-anchor="end" fill="#111" transform="rotate(-45 306.65 379.50)" >1:5</text>
<line x1="252.10" y1="279.50" x2="301.40" y2="279.50" stroke="#000" stroke-width="1.6" />
<text x="276.70" y="275.00" font-size="10" text-anchor="middle" fill="#111" >ns</text>
<line x1="252.10" y1="298.60" x2="276.90" y2="298.60" stroke="#000" stroke-width="1.6" />
<text x="264.90" y="294.10" font-size="10" text-anchor="middle" fill="#111" >ns</text>
<text x="211.50" y="206.30" font-size="12.7" font-weight="bold" fill="#111" textLength="122.8" lengthAdjust="spacingAndGlyphs" >H929 + CD19 CAR T</text>
<text x="201.60" y="300.75" font-size="12.6" text-anchor="middle" fill="#111" transform="rotate(-90 201.60 300.75)" >% above median MCL-1 at 0:1</text>
<text x="275.00" y="409.50" font-size="12.8" text-anchor="middle" fill="#111" >E:T ratio</text>
<rect x="417.20" y="328.01" width="18.80" height="38.29" fill="#D3E3F6" stroke="#000" stroke-width="1.8" />
<rect x="442.00" y="288.39" width="18.80" height="77.91" fill="#6E9FD6" stroke="#000" stroke-width="1.8" />
<rect x="466.30" y="291.26" width="18.80" height="75.04" fill="#1C56A8" stroke="#000" stroke-width="1.8" />
<line x1="451.40" y1="299.49" x2="451.40" y2="276.52" stroke="#333" stroke-width="1.1" />
<line x1="446.60" y1="276.52" x2="456.20" y2="276.52" stroke="#333" stroke-width="1.1" />
<line x1="446.60" y1="299.49" x2="456.20" y2="299.49" stroke="#333" stroke-width="1.1" />
<line x1="475.70" y1="297.96" x2="475.70" y2="284.37" stroke="#333" stroke-width="1.1" />
<line x1="470.90" y1="284.37" x2="480.50" y2="284.37" stroke="#333" stroke-width="1.1" />
<line x1="470.90" y1="297.96" x2="480.50" y2="297.96" stroke="#333" stroke-width="1.1" />
<line x1="404.60" y1="328.01" x2="494.60" y2="328.01" stroke="#000" stroke-width="1.1" />
<circle cx="418.40" cy="328.01" r="2.10" fill="#000" stroke="none" stroke-width="1" />
<circle cx="423.10" cy="328.01" r="2.10" fill="#000" stroke="none" stroke-width="1" />
<circle cx="428.50" cy="328.01" r="2.10" fill="#000" stroke="none" stroke-width="1" />
<circle cx="433.20" cy="328.01" r="2.10" fill="#000" stroke="none" stroke-width="1" />
<circle cx="450.90" cy="264.46" r="2.10" fill="#000" stroke="none" stroke-width="1" />
<circle cx="446.70" cy="282.45" r="2.10" fill="#000" stroke="none" stroke-width="1" />
<circle cx="455.40" cy="286.09" r="2.10" fill="#000" stroke="none" stroke-width="1" />
<circle cx="450.90" cy="319.02" r="2.10" fill="#000" stroke="none" stroke-width="1" />
<circle cx="471.00" cy="280.16" r="2.10" fill="#000" stroke="none" stroke-width="1" />
<circle cx="479.00" cy="278.43" r="2.10" fill="#000" stroke="none" stroke-width="1" />
<circle cx="471.00" cy="302.55" r="2.10" fill="#000" stroke="none" stroke-width="1" />
<circle cx="479.00" cy="302.55" r="2.10" fill="#000" stroke="none" stroke-width="1" />
<line x1="406.60" y1="231.80" x2="406.60" y2="367.20" stroke="#000" stroke-width="1.8" />
<line x1="405.70" y1="366.30" x2="494.60" y2="366.30" stroke="#000" stroke-width="1.8" />
<line x1="400.10" y1="366.30" x2="406.60" y2="366.30" stroke="#000" stroke-width="1.6" />
<text x="399.10" y="370.60" font-size="12" text-anchor="end" fill="#111" >30</text>
<line x1="400.10" y1="347.16" x2="406.60" y2="347.16" stroke="#000" stroke-width="1.6" />
<text x="399.10" y="351.46" font-size="12" text-anchor="end" fill="#111" >40</text>
<line x1="400.10" y1="328.01" x2="406.60" y2="328.01" stroke="#000" stroke-width="1.6" />
<text x="399.10" y="332.31" font-size="12" text-anchor="end" fill="#111" >50</text>
<line x1="400.10" y1="308.87" x2="406.60" y2="308.87" stroke="#000" stroke-width="1.6" />
<text x="399.10" y="313.17" font-size="12" text-anchor="end" fill="#111" >60</text>
<line x1="400.10" y1="289.73" x2="406.60" y2="289.73" stroke="#000" stroke-width="1.6" />
<text x="399.10" y="294.03" font-size="12" text-anchor="end" fill="#111" >70</text>
<line x1="400.10" y1="270.59" x2="406.60" y2="270.59" stroke="#000" stroke-width="1.6" />
<text x="399.10" y="274.89" font-size="12" text-anchor="end" fill="#111" >80</text>
<line x1="400.10" y1="251.44" x2="406.60" y2="251.44" stroke="#000" stroke-width="1.6" />
<text x="399.10" y="255.74" font-size="12" text-anchor="end" fill="#111" >90</text>
<line x1="400.10" y1="232.30" x2="406.60" y2="232.30" stroke="#000" stroke-width="1.6" />
<text x="399.10" y="236.60" font-size="12" text-anchor="end" fill="#111" >100</text>
<line x1="426.60" y1="366.30" x2="426.60" y2="372.30" stroke="#000" stroke-width="1.6" />
<text x="431.80" y="379.50" font-size="12.5" text-anchor="end" fill="#111" transform="rotate(-45 431.80 379.50)" >0:1</text>
<line x1="451.40" y1="366.30" x2="451.40" y2="372.30" stroke="#000" stroke-width="1.6" />
<text x="457.80" y="378.60" font-size="12.5" text-anchor="end" fill="#111" transform="rotate(-45 457.80 378.60)" >1:10</text>
<line x1="475.70" y1="366.30" x2="475.70" y2="372.30" stroke="#000" stroke-width="1.6" />
<text x="480.90" y="379.50" font-size="12.5" text-anchor="end" fill="#111" transform="rotate(-45 480.90 379.50)" >1:5</text>
<line x1="426.60" y1="237.00" x2="475.70" y2="237.00" stroke="#000" stroke-width="1.6" />
<text x="449.00" y="233.80" font-size="9.6" text-anchor="middle" fill="#111"><tspan font-style="italic">P</tspan> = 0.021</text>
<line x1="426.60" y1="256.10" x2="451.40" y2="256.10" stroke="#000" stroke-width="1.6" />
<text x="438.40" y="251.60" font-size="10" text-anchor="middle" fill="#111" >ns</text>
<text x="367.40" y="206.30" font-size="12.7" font-weight="bold" fill="#111" textLength="128.2" lengthAdjust="spacingAndGlyphs" >L363 + BCMA CAR T</text>
<text x="371.60" y="300.55" font-size="12.5" text-anchor="middle" fill="#111" transform="rotate(-90 371.60 300.55)" >% above median MCL-1 at 0:1</text>
<text x="452.20" y="409.50" font-size="12.8" text-anchor="middle" fill="#111" >E:T ratio</text>
<rect x="579.70" y="321.49" width="17.70" height="44.81" fill="#D3E3F6" stroke="#000" stroke-width="1.8" />
<rect x="604.00" y="320.33" width="18.40" height="45.97" fill="#6E9FD6" stroke="#000" stroke-width="1.8" />
<rect x="628.80" y="322.65" width="18.20" height="43.65" fill="#1C56A8" stroke="#000" stroke-width="1.8" />
<line x1="588.60" y1="324.77" x2="588.60" y2="317.63" stroke="#333" stroke-width="1.1" />
<line x1="583.80" y1="317.63" x2="593.40" y2="317.63" stroke="#333" stroke-width="1.1" />
<line x1="583.80" y1="324.77" x2="593.40" y2="324.77" stroke="#333" stroke-width="1.1" />
<line x1="613.20" y1="321.88" x2="613.20" y2="318.40" stroke="#333" stroke-width="1.1" />
<line x1="608.40" y1="318.40" x2="618.00" y2="318.40" stroke="#333" stroke-width="1.1" />
<line x1="608.40" y1="321.88" x2="618.00" y2="321.88" stroke="#333" stroke-width="1.1" />
<line x1="637.90" y1="329.02" x2="637.90" y2="316.66" stroke="#333" stroke-width="1.1" />
<line x1="633.10" y1="316.66" x2="642.70" y2="316.66" stroke="#333" stroke-width="1.1" />
<line x1="633.10" y1="329.02" x2="642.70" y2="329.02" stroke="#333" stroke-width="1.1" />
<line x1="567.30" y1="322.07" x2="659.40" y2="322.07" stroke="#000" stroke-width="1.1" />
<circle cx="588.70" cy="315.89" r="2.10" fill="#000" stroke="none" stroke-width="1" />
<circle cx="584.60" cy="326.71" r="2.10" fill="#000" stroke="none" stroke-width="1" />
<circle cx="593.40" cy="323.04" r="2.10" fill="#000" stroke="none" stroke-width="1" />
<circle cx="609.20" cy="317.24" r="2.10" fill="#000" stroke="none" stroke-width="1" />
<circle cx="611.10" cy="320.91" r="2.10" fill="#000" stroke="none" stroke-width="1" />
<circle cx="615.80" cy="320.91" r="2.10" fill="#000" stroke="none" stroke-width="1" />
<circle cx="638.20" cy="310.87" r="2.10" fill="#000" stroke="none" stroke-width="1" />
<circle cx="638.20" cy="326.71" r="2.10" fill="#000" stroke="none" stroke-width="1" />
<circle cx="638.20" cy="330.95" r="2.10" fill="#000" stroke="none" stroke-width="1" />
<line x1="569.30" y1="230.60" x2="569.30" y2="367.20" stroke="#000" stroke-width="1.8" />
<line x1="568.40" y1="366.30" x2="659.40" y2="366.30" stroke="#000" stroke-width="1.8" />
<line x1="562.80" y1="366.30" x2="569.30" y2="366.30" stroke="#000" stroke-width="1.6" />
<text x="561.80" y="370.60" font-size="12" text-anchor="end" fill="#111" >30</text>
<line x1="562.80" y1="346.99" x2="569.30" y2="346.99" stroke="#000" stroke-width="1.6" />
<text x="561.80" y="351.29" font-size="12" text-anchor="end" fill="#111" >40</text>
<line x1="562.80" y1="327.67" x2="569.30" y2="327.67" stroke="#000" stroke-width="1.6" />
<text x="561.80" y="331.97" font-size="12" text-anchor="end" fill="#111" >50</text>
<line x1="562.80" y1="308.36" x2="569.30" y2="308.36" stroke="#000" stroke-width="1.6" />
<text x="561.80" y="312.66" font-size="12" text-anchor="end" fill="#111" >60</text>
<line x1="562.80" y1="289.04" x2="569.30" y2="289.04" stroke="#000" stroke-width="1.6" />
<text x="561.80" y="293.34" font-size="12" text-anchor="end" fill="#111" >70</text>
<line x1="562.80" y1="269.73" x2="569.30" y2="269.73" stroke="#000" stroke-width="1.6" />
<text x="561.80" y="274.03" font-size="12" text-anchor="end" fill="#111" >80</text>
<line x1="562.80" y1="250.41" x2="569.30" y2="250.41" stroke="#000" stroke-width="1.6" />
<text x="561.80" y="254.71" font-size="12" text-anchor="end" fill="#111" >90</text>
<line x1="562.80" y1="231.10" x2="569.30" y2="231.10" stroke="#000" stroke-width="1.6" />
<text x="561.80" y="235.40" font-size="12" text-anchor="end" fill="#111" >100</text>
<line x1="588.55" y1="366.30" x2="588.55" y2="372.30" stroke="#000" stroke-width="1.6" />
<text x="593.75" y="379.50" font-size="12.5" text-anchor="end" fill="#111" transform="rotate(-45 593.75 379.50)" >0:1</text>
<line x1="613.20" y1="366.30" x2="613.20" y2="372.30" stroke="#000" stroke-width="1.6" />
<text x="619.60" y="378.60" font-size="12.5" text-anchor="end" fill="#111" transform="rotate(-45 619.60 378.60)" >1:10</text>
<line x1="637.90" y1="366.30" x2="637.90" y2="372.30" stroke="#000" stroke-width="1.6" />
<text x="643.10" y="379.50" font-size="12.5" text-anchor="end" fill="#111" transform="rotate(-45 643.10 379.50)" >1:5</text>
<line x1="588.60" y1="273.80" x2="637.90" y2="273.80" stroke="#000" stroke-width="1.6" />
<text x="611.10" y="269.30" font-size="10" text-anchor="middle" fill="#111" >ns</text>
<line x1="588.60" y1="293.90" x2="613.20" y2="293.90" stroke="#000" stroke-width="1.6" />
<text x="600.90" y="289.40" font-size="10" text-anchor="middle" fill="#111" >ns</text>
<text x="535.70" y="206.30" font-size="12.7" font-weight="bold" fill="#111" textLength="121.2" lengthAdjust="spacingAndGlyphs" >L363 + CD19 CAR T</text>
<text x="533.30" y="301.10" font-size="12.6" text-anchor="middle" fill="#111" transform="rotate(-90 533.30 301.10)" >% above median MCL-1 at 0:1</text>
<text x="614.80" y="409.50" font-size="12.8" text-anchor="middle" fill="#111" >E:T ratio</text>
<path d="M50.8,536.3h0.6 M60.1,530.0h0.6 M49.9,535.7h0.6 M59.1,534.0h0.6 M49.4,533.2h0.6 M59.6,532.4h0.6 M63.8,531.5h0.6 M55.3,532.7h0.6 M67.4,527.0h0.6 M51.5,532.6h0.6 M56.6,533.1h0.6 M54.4,533.6h0.6 M57.8,533.7h0.6 M61.1,531.1h0.6 M48.5,538.1h0.6 M49.4,535.7h0.6 M49.3,536.1h0.6 M52.7,535.0h0.6 M70.9,525.9h0.6 M58.7,528.8h0.6 M55.3,534.8h0.6 M55.9,533.9h0.6 M55.6,531.0h0.6 M57.9,530.3h0.6 M64.1,528.1h0.6 M59.1,531.6h0.6 M59.8,529.9h0.6 M60.4,530.7h0.6 M62.3,531.5h0.6 M56.0,531.3h0.6 M59.9,532.2h0.6 M63.1,528.8h0.6 M58.9,532.7h0.6 M57.5,532.8h0.6 M56.3,531.5h0.6 M51.1,534.4h0.6 M60.0,534.5h0.6 M61.3,532.8h0.6 M60.1,532.6h0.6 M57.5,534.0h0.6 M63.8,528.7h0.6 M54.5,538.0h0.6 M57.9,534.2h0.6 M59.0,529.1h0.6 M68.5,531.1h0.6 M57.4,534.0h0.6 M55.8,531.1h0.6 M55.8,533.9h0.6 M61.7,531.9h0.6 M57.4,535.3h0.6 M53.2,536.0h0.6 M60.8,530.1h0.6 M47.1,535.1h0.6 M57.5,533.5h0.6 M62.2,527.9h0.6 M56.6,534.2h0.6 M53.3,529.0h0.6 M61.6,535.5h0.6 M59.8,529.2h0.6 M54.3,534.3h0.6 M67.8,528.9h0.6 M57.8,535.6h0.6 M57.2,536.5h0.6 M52.5,533.6h0.6 M60.5,534.1h0.6 M59.2,532.2h0.6 M47.1,535.6h0.6 M52.8,533.3h0.6 M58.4,531.2h0.6 M59.6,531.5h0.6 M54.6,533.9h0.6 M58.7,533.6h0.6 M53.6,533.6h0.6 M51.2,538.8h0.6 M62.4,529.6h0.6 M52.8,531.8h0.6 M56.9,533.0h0.6 M66.1,528.8h0.6 M50.4,530.2h0.6 M62.5,530.4h0.6 M48.9,536.7h0.6 M51.7,542.7h0.6 M61.6,531.7h0.6 M53.4,529.5h0.6 M54.1,530.4h0.6 M56.9,527.9h0.6 M52.9,537.1h0.6 M62.5,527.4h0.6 M49.8,537.8h0.6 M59.0,529.4h0.6 M52.3,533.2h0.6 M50.0,534.3h0.6 M62.3,531.6h0.6 M65.2,528.5h0.6 M54.6,531.5h0.6 M54.3,530.9h0.6 M48.5,538.0h0.6 M63.2,531.5h0.6 M62.3,530.6h0.6 M52.8,534.7h0.6 M53.4,531.8h0.6 M47.1,533.9h0.6 M56.1,533.3h0.6 M55.1,536.6h0.6 M57.3,533.7h0.6 M60.8,528.9h0.6 M47.7,538.5h0.6 M54.0,536.8h0.6 M58.4,534.1h0.6 M57.7,527.6h0.6" stroke="#777" stroke-width="0.64" stroke-opacity="0.9" fill="none"/>
<path d="M66.6,523.1h0.6 M59.7,528.7h0.6 M69.0,526.2h0.6 M66.6,520.1h0.6 M57.7,524.2h0.6 M64.4,528.6h0.6 M60.6,530.1h0.6 M66.6,528.3h0.6 M58.8,528.1h0.6 M62.8,533.2h0.6 M69.2,523.0h0.6 M65.3,526.5h0.6 M64.7,525.9h0.6 M60.6,525.6h0.6 M63.2,532.6h0.6 M66.7,525.3h0.6 M63.0,527.9h0.6 M64.8,524.5h0.6 M65.3,526.8h0.6 M59.2,528.0h0.6 M57.6,528.3h0.6 M65.0,519.1h0.6 M61.8,526.7h0.6 M61.1,529.3h0.6 M69.7,523.3h0.6 M62.4,526.2h0.6 M64.7,529.3h0.6 M60.4,526.0h0.6 M56.2,529.1h0.6 M58.7,534.0h0.6 M65.4,525.3h0.6 M70.2,520.6h0.6 M68.8,526.0h0.6 M54.2,529.1h0.6 M60.7,532.0h0.6 M68.6,520.0h0.6 M68.6,522.6h0.6 M61.3,527.2h0.6 M59.8,524.4h0.6 M57.3,527.9h0.6 M69.4,529.6h0.6 M76.9,516.9h0.6 M55.0,532.1h0.6 M62.2,534.3h0.6 M65.8,523.5h0.6 M69.4,524.9h0.6 M55.2,531.5h0.6 M62.9,527.9h0.6 M64.2,525.9h0.6 M64.1,525.1h0.6 M61.8,533.2h0.6 M66.4,526.7h0.6 M55.9,532.1h0.6 M66.2,521.5h0.6 M68.8,522.4h0.6 M65.8,525.3h0.6 M66.8,528.7h0.6 M64.3,531.6h0.6 M58.8,527.8h0.6 M66.0,522.4h0.6 M63.5,530.1h0.6 M67.4,519.2h0.6 M69.2,529.1h0.6 M69.5,522.4h0.6 M60.6,528.5h0.6 M58.0,530.4h0.6 M62.9,527.3h0.6 M69.5,522.5h0.6 M58.3,534.2h0.6 M58.1,529.8h0.6 M62.8,526.8h0.6 M58.7,529.9h0.6 M73.9,518.2h0.6 M64.9,529.8h0.6 M68.8,526.0h0.6 M65.4,520.0h0.6 M59.9,530.2h0.6 M68.3,527.9h0.6 M66.0,524.9h0.6 M63.9,526.4h0.6 M66.2,527.5h0.6 M61.2,526.5h0.6 M61.4,532.2h0.6 M71.7,524.6h0.6 M69.4,525.8h0.6 M64.9,528.4h0.6 M58.5,530.2h0.6 M61.4,531.0h0.6 M61.0,528.8h0.6 M67.9,528.4h0.6" stroke="#888" stroke-width="0.64" stroke-opacity="0.9" fill="none"/>
<path d="M67.4,519.5h0.6 M73.2,511.8h0.6 M73.2,514.6h0.6 M67.7,514.4h0.6 M74.4,513.6h0.6 M75.1,526.8h0.6 M85.2,522.6h0.6 M73.6,515.3h0.6 M77.7,521.1h0.6 M74.1,519.1h0.6 M72.6,513.6h0.6 M72.1,516.3h0.6 M70.5,525.7h0.6 M75.8,515.1h0.6 M64.1,517.7h0.6 M74.6,515.5h0.6 M66.3,525.6h0.6 M67.1,524.9h0.6 M74.5,518.1h0.6 M74.3,517.4h0.6 M67.6,522.4h0.6 M70.4,519.8h0.6 M75.7,518.2h0.6 M72.4,504.7h0.6 M74.0,515.7h0.6 M84.3,509.6h0.6 M67.7,526.5h0.6 M73.7,522.6h0.6 M68.7,522.6h0.6 M72.2,518.4h0.6 M65.8,516.5h0.6 M77.5,518.1h0.6 M70.0,516.0h0.6 M75.3,518.3h0.6 M72.3,518.8h0.6 M75.4,509.0h0.6 M65.7,516.3h0.6 M68.3,519.6h0.6 M67.4,520.9h0.6 M79.4,509.3h0.6 M78.5,523.5h0.6 M68.1,514.4h0.6 M72.0,514.0h0.6 M76.0,507.7h0.6 M66.5,517.1h0.6" stroke="#999" stroke-width="0.64" stroke-opacity="0.9" fill="none"/>
<path d="M35.7,529.9h0.6 M35.3,531.5h0.6 M33.5,535.3h0.6 M41.1,529.7h0.6 M30.2,532.3h0.6 M39.5,535.6h0.6 M32.9,531.7h0.6 M31.3,531.8h0.6 M30.5,534.1h0.6 M43.8,528.4h0.6 M31.9,530.4h0.6 M37.1,531.4h0.6 M28.4,533.1h0.6 M36.6,533.9h0.6 M39.6,530.8h0.6 M34.5,533.4h0.6 M37.8,536.0h0.6 M29.5,534.2h0.6 M42.7,528.3h0.6 M43.7,528.3h0.6 M36.5,531.0h0.6 M27.7,533.7h0.6 M48.6,527.6h0.6 M40.1,532.2h0.6 M40.0,532.4h0.6 M34.4,532.3h0.6 M41.1,528.9h0.6 M28.6,535.0h0.6 M33.6,534.5h0.6 M31.2,531.9h0.6 M35.5,535.7h0.6 M35.9,532.4h0.6 M36.3,532.5h0.6 M42.2,532.2h0.6 M28.2,538.6h0.6 M35.7,531.4h0.6 M48.9,525.6h0.6 M47.4,528.8h0.6 M30.8,535.5h0.6 M39.9,529.9h0.6 M34.0,530.5h0.6 M45.7,526.9h0.6 M33.6,532.5h0.6 M31.1,532.6h0.6 M36.8,532.3h0.6 M33.2,533.1h0.6 M28.9,536.5h0.6 M32.1,534.3h0.6 M30.6,533.4h0.6 M36.1,529.3h0.6 M49.4,525.7h0.6 M35.0,530.9h0.6 M45.8,530.5h0.6 M36.5,528.8h0.6 M33.8,534.4h0.6 M32.2,531.2h0.6 M28.9,533.6h0.6 M35.5,530.8h0.6 M38.5,537.0h0.6 M44.8,525.6h0.6 M37.9,531.3h0.6 M36.1,534.2h0.6 M33.9,532.3h0.6 M33.9,532.8h0.6 M43.6,530.1h0.6 M28.3,534.6h0.6 M32.4,535.5h0.6 M38.0,533.0h0.6 M34.0,528.7h0.6 M38.6,531.3h0.6 M37.7,528.4h0.6 M35.9,530.5h0.6 M32.6,534.4h0.6 M37.2,529.5h0.6 M33.8,535.5h0.6 M33.8,528.1h0.6 M31.7,535.0h0.6 M46.1,529.9h0.6 M38.2,531.4h0.6 M29.9,533.9h0.6 M33.5,531.4h0.6 M36.0,531.1h0.6 M39.0,533.7h0.6 M40.4,530.9h0.6 M33.4,529.9h0.6 M35.8,533.3h0.6 M31.6,536.8h0.6 M34.5,533.5h0.6 M33.2,530.6h0.6 M46.3,524.7h0.6 M40.5,528.7h0.6 M36.8,529.8h0.6 M34.5,534.7h0.6 M45.9,525.5h0.6 M36.9,533.7h0.6 M33.2,534.9h0.6 M32.2,535.1h0.6 M39.4,533.1h0.6 M37.0,528.9h0.6 M38.7,528.3h0.6 M41.4,532.8h0.6 M38.8,529.5h0.6 M42.6,529.3h0.6 M28.9,534.5h0.6 M43.5,527.9h0.6 M36.4,531.1h0.6 M26.4,535.3h0.6 M38.1,531.5h0.6 M33.2,528.6h0.6 M43.3,530.2h0.6 M42.7,531.8h0.6 M33.1,532.0h0.6 M39.1,534.2h0.6 M26.6,535.9h0.6 M32.6,534.8h0.6 M43.7,527.8h0.6 M29.3,535.2h0.6 M33.1,529.9h0.6" stroke="#555" stroke-width="0.64" stroke-opacity="0.9" fill="none"/>
<ellipse cx="34.20" cy="533.60" rx="10.50" ry="2.80" fill="none" stroke="#222" stroke-width="0.65" transform="rotate(-26 34.20 533.60)"/>
<ellipse cx="33.65" cy="533.86" rx="8.19" ry="2.18" fill="none" stroke="#222" stroke-width="0.65" transform="rotate(-26 33.65 533.86)"/>
<ellipse cx="33.15" cy="534.10" rx="6.09" ry="1.62" fill="none" stroke="#222" stroke-width="0.65" transform="rotate(-26 33.15 534.10)"/>
<ellipse cx="32.70" cy="534.32" rx="4.20" ry="1.12" fill="none" stroke="#222" stroke-width="0.65" transform="rotate(-26 32.70 534.32)"/>
<ellipse cx="30.80" cy="535.60" rx="3.60" ry="1.40" fill="#111" stroke="none" stroke-width="1" transform="rotate(-18 30.8 535.6)"/>
<path d="M24.40,516.90 L46.60,515.30 L45.50,543.70 L24.40,542.60 Z" fill="none" stroke="#222" stroke-width="1.1" />
<path d="M119.1,484.4h0.6 M117.5,482.1h0.6 M120.8,481.7h0.6 M120.4,480.6h0.6 M123.0,484.9h0.6 M99.6,485.3h0.6 M114.7,483.0h0.6 M108.1,486.8h0.6 M108.6,487.3h0.6 M114.4,489.0h0.6 M106.5,493.7h0.6 M118.4,486.9h0.6 M120.7,488.9h0.6 M112.8,484.1h0.6 M120.2,487.3h0.6 M115.7,486.3h0.6 M114.2,487.9h0.6 M113.2,490.7h0.6 M107.3,484.8h0.6 M114.6,488.2h0.6 M118.3,490.5h0.6 M108.2,489.5h0.6 M115.7,482.9h0.6 M110.9,492.3h0.6 M118.3,484.6h0.6 M106.4,486.2h0.6 M130.5,488.2h0.6 M114.5,483.2h0.6 M102.5,485.4h0.6 M108.3,495.0h0.6 M108.8,484.2h0.6 M121.0,486.2h0.6 M102.1,489.9h0.6 M109.5,482.0h0.6 M114.6,487.5h0.6 M109.3,488.1h0.6 M118.6,483.4h0.6 M111.0,489.7h0.6 M120.0,490.2h0.6 M126.8,486.0h0.6 M120.4,481.4h0.6 M117.5,487.2h0.6 M111.2,484.7h0.6 M103.1,486.4h0.6 M122.2,484.9h0.6 M116.2,484.0h0.6 M114.0,483.0h0.6 M115.0,485.3h0.6 M114.5,484.2h0.6 M102.6,485.0h0.6 M120.3,490.7h0.6 M109.4,488.4h0.6 M118.1,487.2h0.6 M99.6,487.0h0.6 M104.2,489.5h0.6 M118.3,487.9h0.6 M117.6,482.2h0.6 M119.8,486.2h0.6 M110.5,483.9h0.6 M103.9,484.7h0.6 M136.7,486.6h0.6 M113.7,484.1h0.6 M107.1,484.3h0.6 M104.9,488.6h0.6 M109.8,488.6h0.6 M102.8,488.8h0.6 M111.8,488.0h0.6 M111.2,483.3h0.6 M121.7,484.7h0.6 M110.8,483.3h0.6 M113.6,484.8h0.6 M114.3,487.0h0.6 M106.5,481.8h0.6 M115.5,488.8h0.6 M117.6,482.6h0.6 M116.8,487.2h0.6 M114.3,487.3h0.6 M109.4,486.6h0.6 M119.4,484.5h0.6 M100.5,485.7h0.6 M113.6,480.5h0.6 M106.6,487.8h0.6 M110.8,486.3h0.6 M101.9,488.7h0.6 M126.0,485.4h0.6 M106.1,482.5h0.6 M119.1,486.3h0.6 M105.6,489.6h0.6 M118.1,487.8h0.6 M97.9,485.7h0.6 M117.0,482.3h0.6 M119.4,490.3h0.6 M120.3,483.8h0.6 M106.3,488.8h0.6 M120.0,489.7h0.6 M121.6,485.7h0.6 M108.7,480.4h0.6 M118.3,492.8h0.6 M108.3,484.6h0.6 M117.2,487.1h0.6 M101.0,483.9h0.6 M103.2,492.1h0.6 M106.3,488.6h0.6 M127.3,491.7h0.6 M123.4,490.9h0.6 M102.1,485.0h0.6 M106.2,485.1h0.6 M133.0,481.0h0.6 M116.5,482.3h0.6 M122.7,489.9h0.6 M107.9,492.2h0.6 M112.6,489.9h0.6 M114.5,484.3h0.6 M109.0,485.6h0.6 M116.9,486.4h0.6 M130.9,485.4h0.6 M108.3,483.8h0.6 M105.8,481.7h0.6 M104.1,488.7h0.6 M112.5,485.5h0.6 M114.8,489.2h0.6 M116.9,488.3h0.6 M107.5,485.2h0.6 M105.8,485.7h0.6 M105.5,484.9h0.6 M110.6,485.4h0.6 M109.9,484.5h0.6 M122.5,485.0h0.6 M103.9,486.6h0.6 M103.3,482.8h0.6 M112.7,481.0h0.6 M120.3,481.0h0.6 M104.8,487.7h0.6 M102.4,485.4h0.6 M110.8,486.9h0.6 M109.4,479.6h0.6 M110.8,482.0h0.6 M112.1,483.4h0.6 M109.5,485.4h0.6 M118.2,488.3h0.6 M104.0,486.0h0.6 M123.7,487.5h0.6 M106.2,485.6h0.6 M109.2,488.8h0.6 M112.3,487.1h0.6 M129.7,481.9h0.6 M103.9,480.8h0.6 M99.3,488.6h0.6 M114.3,490.9h0.6 M123.6,489.1h0.6 M119.1,488.6h0.6 M112.3,486.0h0.6 M112.3,488.5h0.6 M110.7,487.0h0.6 M123.6,482.6h0.6 M106.0,487.7h0.6 M109.9,485.5h0.6 M128.8,487.2h0.6 M108.7,489.3h0.6 M132.1,482.7h0.6 M106.6,486.3h0.6 M106.9,492.5h0.6 M116.2,484.8h0.6 M115.9,483.6h0.6 M107.2,486.3h0.6 M131.1,479.2h0.6 M115.4,490.1h0.6 M117.9,491.8h0.6 M115.6,486.4h0.6 M110.9,483.4h0.6 M125.1,482.5h0.6 M111.0,484.4h0.6 M105.7,479.3h0.6 M108.9,486.4h0.6 M113.1,488.5h0.6 M110.7,484.1h0.6 M114.5,488.0h0.6 M104.8,481.4h0.6 M103.8,489.2h0.6 M120.0,483.3h0.6 M112.9,488.5h0.6 M122.6,484.0h0.6 M110.1,490.2h0.6 M131.3,490.6h0.6 M102.9,487.3h0.6 M109.6,485.8h0.6 M106.7,484.6h0.6 M111.9,491.4h0.6 M117.6,487.3h0.6 M112.2,483.7h0.6 M110.2,489.7h0.6 M118.6,491.9h0.6 M114.1,485.9h0.6 M99.1,487.2h0.6 M98.2,490.6h0.6 M107.0,486.0h0.6 M101.2,484.5h0.6 M104.5,489.4h0.6 M114.0,482.5h0.6 M108.1,482.7h0.6 M116.7,485.4h0.6 M112.9,484.2h0.6 M107.4,484.6h0.6 M99.2,487.9h0.6 M115.2,480.8h0.6 M112.8,489.5h0.6 M113.9,489.9h0.6 M109.9,486.0h0.6 M101.6,483.3h0.6 M114.0,487.6h0.6 M121.3,486.4h0.6 M104.1,487.3h0.6 M110.8,491.4h0.6 M127.7,488.9h0.6 M102.9,484.4h0.6 M113.5,483.9h0.6 M116.2,488.1h0.6 M118.7,486.7h0.6 M104.9,483.5h0.6 M111.0,490.0h0.6 M124.6,488.9h0.6 M114.9,488.0h0.6 M118.6,489.9h0.6 M118.8,481.4h0.6 M119.6,487.2h0.6 M108.3,487.6h0.6 M114.3,485.8h0.6 M98.5,486.3h0.6 M116.5,485.9h0.6 M99.3,487.4h0.6 M117.8,486.5h0.6 M115.4,484.9h0.6 M106.7,487.6h0.6 M109.2,486.5h0.6 M138.0,488.1h0.6 M113.1,481.1h0.6 M112.8,488.3h0.6 M106.4,485.3h0.6 M107.2,488.1h0.6 M122.9,485.5h0.6 M119.9,486.8h0.6 M110.4,485.2h0.6 M105.2,489.9h0.6 M119.0,483.0h0.6 M118.7,483.8h0.6 M100.0,489.6h0.6 M101.8,489.6h0.6 M113.6,488.7h0.6 M116.1,489.5h0.6 M114.8,487.7h0.6 M114.0,489.3h0.6 M108.9,489.0h0.6 M124.1,485.8h0.6 M115.5,484.5h0.6 M109.7,486.8h0.6 M109.3,483.3h0.6 M111.8,486.6h0.6 M114.6,488.1h0.6 M97.8,490.2h0.6 M110.6,483.7h0.6 M109.0,487.3h0.6 M119.0,484.9h0.6 M113.3,481.2h0.6 M113.4,485.7h0.6 M108.6,488.7h0.6 M126.3,489.1h0.6 M105.7,490.6h0.6 M109.3,485.9h0.6 M107.4,487.4h0.6 M116.4,486.4h0.6 M110.3,485.6h0.6 M108.8,488.9h0.6 M107.8,485.6h0.6 M110.3,483.8h0.6 M110.2,481.6h0.6 M115.3,487.6h0.6 M109.6,490.7h0.6 M105.5,487.7h0.6 M115.8,484.4h0.6 M110.1,488.7h0.6 M112.5,486.8h0.6 M123.2,486.6h0.6 M98.7,483.8h0.6 M118.7,485.6h0.6 M103.4,480.1h0.6 M114.6,490.5h0.6 M102.0,479.5h0.6 M116.0,484.4h0.6 M109.7,485.0h0.6 M104.8,487.3h0.6 M119.3,487.1h0.6 M107.6,489.1h0.6 M111.1,487.7h0.6 M104.6,488.0h0.6 M117.9,489.8h0.6 M112.2,487.3h0.6 M107.4,488.6h0.6 M118.2,489.2h0.6 M108.9,482.4h0.6 M111.5,485.4h0.6 M106.1,487.8h0.6 M119.5,487.2h0.6 M120.8,487.2h0.6 M104.3,484.3h0.6 M109.2,488.0h0.6 M119.3,486.4h0.6 M120.0,483.6h0.6 M111.1,490.4h0.6" stroke="#888" stroke-width="0.64" stroke-opacity="0.9" fill="none"/>
<path d="M120.2,484.1h0.6 M113.7,484.0h0.6 M126.0,480.8h0.6 M113.1,480.0h0.6 M113.6,483.1h0.6 M116.5,485.7h0.6 M121.6,480.7h0.6 M119.2,481.7h0.6 M121.9,483.8h0.6 M116.3,483.8h0.6 M120.8,481.8h0.6 M119.3,483.3h0.6 M116.4,480.7h0.6 M124.3,482.0h0.6 M115.1,482.9h0.6 M110.8,482.1h0.6 M111.3,481.2h0.6 M109.2,480.6h0.6 M122.4,481.6h0.6 M112.0,485.4h0.6 M114.9,484.9h0.6 M127.1,481.2h0.6 M121.8,484.3h0.6 M111.6,482.2h0.6 M115.2,483.2h0.6 M118.0,479.5h0.6 M118.3,483.5h0.6 M116.6,483.1h0.6 M115.4,481.9h0.6 M119.7,482.3h0.6 M124.3,483.9h0.6 M122.2,483.4h0.6 M118.8,479.7h0.6 M123.2,485.4h0.6 M119.1,481.5h0.6 M117.9,484.4h0.6 M119.4,480.1h0.6 M117.2,480.5h0.6 M117.0,480.3h0.6 M113.8,484.9h0.6 M113.2,481.1h0.6 M116.1,479.3h0.6 M121.4,483.4h0.6 M116.2,480.7h0.6 M118.3,482.3h0.6 M107.8,479.6h0.6 M120.6,481.8h0.6 M116.0,480.1h0.6 M114.6,480.5h0.6 M131.7,479.6h0.6 M125.5,483.0h0.6 M119.1,482.4h0.6 M116.2,485.2h0.6 M120.5,482.0h0.6 M117.4,482.4h0.6 M112.5,481.4h0.6 M115.0,483.2h0.6 M117.0,483.9h0.6 M111.7,479.7h0.6 M122.9,481.8h0.6 M115.8,479.6h0.6 M118.9,480.9h0.6 M119.1,482.8h0.6 M121.5,481.4h0.6 M115.5,482.1h0.6 M117.6,482.4h0.6 M115.5,481.6h0.6 M115.2,480.9h0.6 M118.8,484.3h0.6 M115.4,483.2h0.6 M119.7,482.2h0.6 M121.4,480.9h0.6 M120.8,482.6h0.6 M101.0,482.7h0.6 M121.0,485.8h0.6 M112.9,482.2h0.6 M119.8,480.1h0.6 M123.9,482.9h0.6 M114.1,479.7h0.6 M116.0,486.7h0.6 M109.1,483.3h0.6 M117.5,480.8h0.6 M121.0,482.2h0.6 M119.4,482.5h0.6 M112.7,484.6h0.6 M115.8,484.2h0.6 M121.4,482.1h0.6 M118.7,481.9h0.6 M109.0,481.4h0.6 M110.7,484.1h0.6 M120.3,481.9h0.6 M122.8,481.4h0.6 M116.9,480.5h0.6 M118.9,481.8h0.6 M114.8,481.3h0.6 M114.3,483.2h0.6 M113.3,484.1h0.6 M115.5,483.3h0.6 M121.6,481.0h0.6 M121.7,483.0h0.6 M117.8,480.6h0.6 M117.7,479.5h0.6 M116.7,480.9h0.6 M120.2,482.7h0.6 M114.9,483.7h0.6 M123.9,482.1h0.6 M114.4,483.0h0.6 M106.0,480.9h0.6 M120.9,486.0h0.6 M114.4,485.0h0.6 M129.5,485.7h0.6" stroke="#999" stroke-width="0.64" stroke-opacity="0.9" fill="none"/>
<path d="M107.2,483.8h0.6 M105.0,480.9h0.6 M104.7,484.7h0.6 M111.0,481.5h0.6 M108.3,483.5h0.6 M109.4,481.9h0.6 M102.1,480.7h0.6 M103.4,481.0h0.6 M111.2,480.0h0.6 M98.2,481.9h0.6 M114.6,484.3h0.6 M103.6,480.2h0.6 M102.8,480.4h0.6 M102.8,482.9h0.6 M99.7,480.6h0.6 M104.5,482.0h0.6 M101.5,480.6h0.6 M99.3,480.7h0.6 M109.1,481.6h0.6 M105.6,480.4h0.6 M118.7,485.9h0.6 M101.6,482.1h0.6 M110.7,479.8h0.6 M116.4,480.7h0.6 M108.1,479.9h0.6 M108.2,482.0h0.6 M112.5,479.9h0.6 M106.0,485.3h0.6 M98.9,482.6h0.6 M108.6,481.1h0.6 M104.4,484.5h0.6 M112.8,483.0h0.6 M107.6,480.0h0.6 M106.6,485.2h0.6 M112.3,479.6h0.6 M107.0,481.0h0.6 M104.2,482.6h0.6 M111.4,482.4h0.6 M113.5,479.4h0.6 M108.8,482.8h0.6 M122.0,484.3h0.6 M108.3,484.4h0.6 M112.9,480.0h0.6 M108.9,484.5h0.6 M105.0,482.1h0.6 M103.2,483.3h0.6 M102.7,480.9h0.6 M98.6,480.3h0.6 M107.3,482.9h0.6 M103.7,480.1h0.6 M108.1,482.6h0.6 M113.7,481.1h0.6 M103.5,482.9h0.6 M115.2,481.9h0.6 M105.5,480.3h0.6 M103.7,483.7h0.6 M111.1,484.0h0.6 M100.4,483.1h0.6 M100.7,484.3h0.6 M106.7,484.4h0.6 M103.4,485.6h0.6 M103.3,485.4h0.6 M103.1,480.2h0.6 M111.4,481.3h0.6 M105.7,479.6h0.6 M103.9,482.2h0.6 M101.7,482.7h0.6 M103.5,484.7h0.6 M103.9,480.8h0.6 M103.3,482.5h0.6 M109.6,481.2h0.6 M101.2,482.8h0.6 M99.7,480.8h0.6 M116.4,484.2h0.6 M110.8,482.9h0.6 M99.2,484.0h0.6 M103.3,480.6h0.6 M117.8,479.4h0.6 M114.4,482.4h0.6 M100.4,482.3h0.6 M100.9,482.3h0.6 M102.1,479.8h0.6 M122.1,481.1h0.6 M112.0,481.9h0.6 M110.1,479.7h0.6 M112.1,482.8h0.6 M98.9,483.5h0.6 M109.6,487.3h0.6 M107.5,483.7h0.6 M109.7,483.4h0.6 M105.9,481.2h0.6 M110.3,484.3h0.6 M98.9,479.9h0.6 M105.8,485.3h0.6 M110.9,483.4h0.6 M117.8,482.4h0.6 M118.0,480.7h0.6 M111.5,482.3h0.6 M98.8,481.5h0.6 M114.1,484.0h0.6 M103.7,484.0h0.6 M111.5,483.6h0.6 M107.8,482.6h0.6 M101.0,481.9h0.6 M106.8,480.7h0.6 M104.3,482.3h0.6 M107.3,483.9h0.6 M99.8,481.3h0.6 M107.7,481.3h0.6 M108.0,481.2h0.6 M113.2,481.6h0.6 M99.1,483.4h0.6 M105.2,482.1h0.6 M112.3,484.7h0.6 M110.1,483.8h0.6 M108.9,482.2h0.6 M101.1,486.4h0.6 M98.8,479.3h0.6 M112.0,482.5h0.6 M110.1,482.7h0.6 M116.3,484.6h0.6 M102.7,483.8h0.6 M113.3,481.2h0.6 M102.0,482.9h0.6 M105.7,480.6h0.6 M101.7,483.4h0.6 M100.4,482.2h0.6 M100.0,482.8h0.6 M116.9,483.0h0.6 M112.8,482.8h0.6 M100.2,481.5h0.6 M106.5,482.8h0.6" stroke="#777" stroke-width="0.64" stroke-opacity="0.9" fill="none"/>
<path d="M125.9,523.5h0.6 M128.0,519.6h0.6 M136.3,513.4h0.6 M134.5,524.0h0.6 M131.5,521.1h0.6 M129.7,506.3h0.6 M123.1,525.3h0.6 M126.0,523.6h0.6 M131.1,512.8h0.6 M124.3,526.8h0.6 M125.6,515.6h0.6 M131.9,523.0h0.6 M127.3,526.2h0.6 M136.7,515.2h0.6 M137.0,517.5h0.6 M123.0,529.8h0.6 M133.4,537.0h0.6 M136.2,517.0h0.6 M120.5,530.1h0.6 M138.6,512.8h0.6 M134.1,529.0h0.6 M134.0,527.2h0.6 M126.4,510.6h0.6 M131.2,519.6h0.6 M139.7,520.6h0.6 M130.9,520.4h0.6 M135.4,514.0h0.6 M138.4,500.8h0.6 M133.2,520.6h0.6 M136.6,514.6h0.6 M135.5,514.6h0.6 M125.7,520.6h0.6 M130.7,526.6h0.6 M132.6,518.4h0.6 M130.4,532.9h0.6 M133.7,512.2h0.6 M130.9,524.1h0.6 M117.1,533.8h0.6 M127.1,510.1h0.6 M127.3,528.2h0.6 M126.1,513.4h0.6 M129.8,534.1h0.6 M129.9,520.6h0.6 M125.9,521.4h0.6 M136.5,504.9h0.6 M125.1,517.5h0.6 M121.0,524.9h0.6 M131.2,531.0h0.6 M128.2,530.2h0.6 M128.0,527.5h0.6 M129.1,527.4h0.6 M130.3,514.1h0.6 M123.5,523.9h0.6 M136.5,517.2h0.6 M130.0,514.7h0.6 M134.8,522.6h0.6 M133.3,515.9h0.6 M123.2,531.3h0.6 M130.1,516.9h0.6 M134.0,530.2h0.6 M121.7,525.3h0.6 M123.7,521.5h0.6 M126.2,507.9h0.6 M137.2,519.5h0.6 M128.1,519.5h0.6 M133.2,518.0h0.6 M120.2,531.2h0.6 M135.0,527.1h0.6 M129.2,514.6h0.6 M127.7,523.5h0.6 M139.3,521.8h0.6 M133.5,518.6h0.6 M134.7,516.9h0.6 M127.0,529.7h0.6 M131.0,517.9h0.6 M137.5,512.7h0.6 M143.9,516.9h0.6 M133.7,514.3h0.6 M138.8,521.8h0.6 M120.4,532.2h0.6 M134.1,515.6h0.6 M130.1,522.3h0.6 M129.1,517.9h0.6 M126.9,525.3h0.6 M130.0,528.6h0.6 M126.9,526.0h0.6 M124.8,528.2h0.6 M134.5,519.3h0.6 M142.6,514.3h0.6 M131.1,513.3h0.6 M136.2,512.6h0.6 M135.3,505.5h0.6 M135.0,516.3h0.6 M135.6,531.9h0.6 M120.6,526.8h0.6 M126.4,528.5h0.6 M121.5,525.8h0.6 M137.0,521.2h0.6 M129.6,516.4h0.6 M120.9,537.6h0.6 M130.8,535.7h0.6 M131.7,518.3h0.6 M133.6,520.2h0.6 M130.2,518.5h0.6 M134.4,522.8h0.6 M133.1,520.0h0.6 M131.8,518.4h0.6 M134.6,525.9h0.6 M137.3,523.8h0.6 M141.3,514.7h0.6 M129.8,519.6h0.6 M129.2,518.7h0.6 M128.3,517.6h0.6 M128.5,519.3h0.6 M134.5,513.7h0.6 M129.3,520.2h0.6 M125.8,518.4h0.6 M136.7,522.8h0.6 M130.2,526.6h0.6 M121.9,527.7h0.6 M145.0,520.8h0.6 M142.2,522.0h0.6 M144.8,512.9h0.6 M134.6,524.9h0.6 M130.0,512.3h0.6 M131.3,512.4h0.6 M133.2,520.9h0.6 M123.1,512.5h0.6 M132.3,522.9h0.6 M145.7,513.3h0.6 M131.8,521.9h0.6 M139.9,514.1h0.6 M126.9,516.6h0.6 M139.6,509.3h0.6 M132.4,522.0h0.6 M145.8,505.8h0.6 M137.0,516.5h0.6 M125.6,525.0h0.6 M136.6,526.5h0.6 M124.6,529.4h0.6 M128.4,517.7h0.6 M133.7,513.3h0.6 M122.3,535.0h0.6 M129.6,525.0h0.6 M125.7,528.4h0.6 M135.7,515.7h0.6 M124.7,530.8h0.6 M125.1,528.8h0.6 M121.4,534.2h0.6 M129.0,526.1h0.6 M126.1,525.8h0.6 M137.0,510.7h0.6 M137.7,513.9h0.6 M132.8,530.1h0.6 M127.9,525.7h0.6 M114.3,524.5h0.6 M125.5,523.8h0.6 M148.0,517.1h0.6 M127.9,522.2h0.6 M140.4,511.0h0.6 M120.7,528.5h0.6 M126.2,523.2h0.6 M130.1,511.5h0.6 M123.0,518.1h0.6 M134.8,524.7h0.6 M128.9,521.9h0.6 M134.1,520.4h0.6 M124.0,535.4h0.6 M141.9,523.1h0.6 M117.5,530.4h0.6 M129.0,531.6h0.6 M134.3,521.2h0.6 M129.4,531.0h0.6 M140.4,517.0h0.6 M136.4,521.4h0.6 M128.0,522.5h0.6 M119.0,535.5h0.6 M131.8,524.3h0.6 M129.1,522.2h0.6 M127.4,524.3h0.6 M130.3,528.9h0.6 M127.9,515.6h0.6 M136.9,513.3h0.6 M133.1,521.1h0.6 M129.4,523.8h0.6 M121.5,529.7h0.6 M137.4,520.2h0.6 M129.3,527.2h0.6 M129.8,516.8h0.6 M145.5,505.9h0.6 M124.6,519.8h0.6 M137.6,516.6h0.6 M124.0,537.9h0.6 M132.0,521.4h0.6 M135.9,514.6h0.6 M132.2,523.7h0.6 M127.2,532.4h0.6 M130.3,522.4h0.6 M124.2,533.4h0.6 M125.6,517.3h0.6 M128.1,520.3h0.6 M133.8,523.7h0.6 M132.8,524.3h0.6 M131.4,514.9h0.6 M124.8,519.0h0.6 M125.7,525.6h0.6 M138.7,517.8h0.6 M124.2,522.3h0.6 M126.8,520.2h0.6 M135.0,520.1h0.6 M141.2,520.6h0.6 M134.5,519.5h0.6 M121.1,512.5h0.6 M127.7,524.5h0.6 M133.9,516.0h0.6 M130.5,517.8h0.6 M135.1,521.3h0.6 M131.6,529.9h0.6 M123.5,526.0h0.6 M122.5,515.4h0.6 M127.8,517.9h0.6 M135.3,524.1h0.6 M124.5,529.1h0.6 M132.0,513.7h0.6 M131.8,527.7h0.6 M125.0,518.4h0.6 M134.6,522.1h0.6 M128.9,521.0h0.6 M135.0,517.0h0.6 M141.4,512.9h0.6 M120.9,535.0h0.6 M127.2,518.1h0.6 M126.4,509.8h0.6 M126.4,518.5h0.6 M120.7,531.9h0.6 M127.7,518.5h0.6 M128.8,525.9h0.6 M141.5,513.1h0.6 M140.5,524.8h0.6 M135.9,508.4h0.6 M137.5,508.3h0.6 M134.4,517.6h0.6 M135.8,516.8h0.6 M121.0,535.9h0.6 M134.6,525.2h0.6 M120.6,528.2h0.6 M131.2,507.4h0.6 M138.5,520.5h0.6 M133.3,528.4h0.6 M130.8,538.5h0.6 M136.1,518.5h0.6 M126.7,531.8h0.6 M144.8,502.4h0.6 M131.3,517.7h0.6 M132.4,518.6h0.6 M141.1,515.7h0.6 M141.8,509.2h0.6 M127.6,508.8h0.6 M132.3,513.2h0.6 M125.6,523.3h0.6 M132.8,523.1h0.6 M134.9,517.0h0.6 M133.9,509.2h0.6 M134.7,512.5h0.6 M126.5,525.0h0.6 M126.9,531.2h0.6 M137.7,504.2h0.6 M117.7,531.3h0.6 M135.6,520.0h0.6 M137.8,521.7h0.6 M139.0,522.7h0.6 M126.3,524.6h0.6 M127.5,517.0h0.6 M136.1,528.9h0.6 M128.1,516.5h0.6 M134.4,516.0h0.6 M126.8,530.3h0.6 M127.1,527.0h0.6 M131.5,522.7h0.6 M123.8,525.4h0.6 M138.1,521.5h0.6 M125.4,522.2h0.6 M126.2,528.7h0.6 M133.4,521.4h0.6 M123.0,521.5h0.6 M137.2,512.9h0.6 M133.9,505.2h0.6 M135.3,519.7h0.6 M122.8,506.6h0.6 M129.2,518.6h0.6 M132.7,518.9h0.6 M129.0,529.6h0.6 M122.9,530.8h0.6 M134.5,515.0h0.6 M138.2,512.0h0.6 M134.8,513.3h0.6 M128.5,521.2h0.6 M120.1,517.2h0.6 M133.0,520.2h0.6 M132.1,525.1h0.6 M134.3,513.4h0.6 M130.2,527.9h0.6 M128.9,512.4h0.6 M122.8,523.4h0.6 M134.6,511.3h0.6 M134.5,527.9h0.6 M130.7,523.2h0.6 M130.2,520.7h0.6 M132.3,526.2h0.6 M128.9,520.4h0.6 M140.5,522.2h0.6 M125.6,518.3h0.6 M114.7,535.3h0.6 M130.6,526.4h0.6 M123.3,534.9h0.6 M127.5,518.0h0.6 M119.1,524.8h0.6 M122.6,532.4h0.6 M134.8,513.4h0.6 M124.7,524.4h0.6 M126.8,520.5h0.6 M131.6,514.4h0.6 M121.4,530.2h0.6 M125.5,520.3h0.6 M137.4,518.1h0.6 M118.5,526.9h0.6 M138.6,523.8h0.6 M122.6,523.5h0.6 M134.7,515.4h0.6 M140.6,504.2h0.6 M133.6,510.8h0.6 M123.4,521.3h0.6 M124.2,532.8h0.6 M124.1,509.5h0.6 M121.8,527.4h0.6 M134.3,524.4h0.6 M134.8,516.2h0.6 M131.2,516.6h0.6 M112.9,526.8h0.6 M124.1,536.5h0.6 M133.3,527.4h0.6 M141.9,511.9h0.6 M123.3,523.9h0.6 M137.1,509.2h0.6 M136.9,512.3h0.6 M123.8,531.2h0.6 M128.9,514.9h0.6 M133.2,522.1h0.6 M135.6,515.7h0.6 M140.8,504.2h0.6 M124.4,528.9h0.6 M127.7,516.7h0.6 M128.0,530.8h0.6 M139.5,518.0h0.6 M121.3,531.4h0.6 M128.0,521.5h0.6 M130.9,514.3h0.6 M122.5,509.4h0.6 M127.5,508.3h0.6 M121.1,527.2h0.6 M132.0,525.5h0.6 M135.5,510.2h0.6 M136.7,516.5h0.6 M126.2,526.7h0.6 M130.4,520.1h0.6 M122.4,525.1h0.6 M129.7,526.9h0.6 M144.6,514.2h0.6 M128.1,525.1h0.6 M130.8,523.7h0.6 M139.9,511.8h0.6 M125.3,528.3h0.6 M131.7,519.3h0.6 M142.3,511.4h0.6 M125.4,531.9h0.6 M133.9,514.6h0.6 M135.1,519.1h0.6 M127.2,519.7h0.6 M121.7,520.9h0.6 M129.1,514.0h0.6" stroke="#888" stroke-width="0.64" stroke-opacity="0.9" fill="none"/>
<path d="M148.2,507.4h0.6 M138.0,518.8h0.6 M149.9,530.9h0.6 M130.3,511.1h0.6 M118.1,505.4h0.6 M157.2,503.2h0.6 M142.2,514.6h0.6 M140.2,497.9h0.6 M161.6,498.4h0.6 M138.4,514.4h0.6 M137.0,520.7h0.6 M155.1,515.3h0.6 M157.5,519.2h0.6 M126.8,496.4h0.6 M142.2,507.6h0.6 M112.4,519.5h0.6 M125.8,487.4h0.6 M144.2,508.4h0.6 M156.6,513.2h0.6 M141.6,513.2h0.6 M135.9,489.3h0.6 M131.0,512.5h0.6 M132.2,515.4h0.6 M130.9,509.6h0.6 M137.2,512.8h0.6 M139.2,506.6h0.6 M130.2,514.7h0.6 M137.7,509.3h0.6 M150.4,498.9h0.6 M130.5,500.9h0.6 M158.1,500.0h0.6 M131.6,491.1h0.6 M139.1,492.9h0.6 M128.7,506.4h0.6 M127.4,500.1h0.6 M127.1,497.9h0.6 M152.7,487.8h0.6 M139.7,507.1h0.6 M138.3,506.9h0.6 M149.1,494.1h0.6 M136.2,510.4h0.6 M159.3,497.2h0.6 M137.8,489.3h0.6 M143.3,494.5h0.6 M126.0,508.0h0.6 M161.8,502.9h0.6 M146.4,510.9h0.6 M154.7,507.9h0.6 M130.6,500.7h0.6 M151.9,499.6h0.6 M144.5,506.4h0.6 M141.9,505.6h0.6 M144.0,514.9h0.6 M137.8,500.2h0.6 M118.4,487.5h0.6 M120.1,504.9h0.6 M130.0,493.7h0.6 M142.5,516.4h0.6 M156.7,501.7h0.6 M138.9,515.9h0.6 M131.0,499.1h0.6 M128.2,493.6h0.6 M147.6,508.6h0.6 M137.6,498.0h0.6 M154.6,518.3h0.6 M118.3,520.2h0.6 M135.7,501.7h0.6 M136.3,497.4h0.6 M152.2,493.7h0.6 M141.4,501.9h0.6 M158.4,515.8h0.6 M143.0,511.6h0.6 M146.2,508.5h0.6 M110.6,498.7h0.6 M133.8,510.2h0.6 M145.3,500.9h0.6 M133.3,491.5h0.6 M143.5,505.0h0.6 M131.1,497.7h0.6 M146.2,500.0h0.6 M140.6,498.6h0.6 M110.1,495.0h0.6 M137.8,512.8h0.6 M157.2,503.4h0.6 M145.7,509.8h0.6 M137.9,513.0h0.6 M154.2,496.5h0.6 M157.3,509.3h0.6 M134.7,495.6h0.6 M141.2,493.3h0.6 M150.8,513.4h0.6 M126.8,508.9h0.6 M142.3,506.6h0.6 M151.2,508.0h0.6 M135.2,508.5h0.6 M123.3,485.9h0.6 M142.0,517.1h0.6 M120.8,498.0h0.6 M133.4,499.5h0.6 M141.6,521.5h0.6 M156.7,521.1h0.6 M146.7,508.9h0.6 M117.4,500.9h0.6 M130.2,489.4h0.6 M146.7,490.4h0.6 M157.9,517.9h0.6 M142.4,510.9h0.6 M142.4,506.5h0.6 M150.2,501.4h0.6" stroke="#aaa" stroke-width="0.64" stroke-opacity="0.9" fill="none"/>
<path d="M113.5,525.9h0.6 M113.1,520.2h0.6 M112.8,524.9h0.6 M115.8,526.3h0.6 M113.7,527.1h0.6 M116.6,529.6h0.6 M114.4,527.1h0.6 M107.5,527.6h0.6 M117.4,527.7h0.6 M107.6,528.3h0.6 M110.9,526.9h0.6 M109.0,525.7h0.6 M111.9,526.6h0.6 M114.7,520.5h0.6 M109.4,531.1h0.6 M113.7,524.1h0.6 M109.0,532.6h0.6 M109.5,532.6h0.6 M112.7,524.8h0.6 M112.9,529.3h0.6 M108.5,519.9h0.6 M104.6,520.3h0.6 M115.5,528.2h0.6 M113.7,518.7h0.6 M124.8,527.0h0.6 M107.5,519.4h0.6 M110.3,531.8h0.6 M119.8,518.9h0.6 M102.0,527.3h0.6 M120.3,521.2h0.6 M101.6,522.2h0.6 M116.3,527.2h0.6 M109.5,526.5h0.6 M111.6,524.6h0.6 M108.4,525.4h0.6 M111.8,531.8h0.6 M115.7,528.5h0.6 M115.4,513.4h0.6 M113.6,529.5h0.6 M109.8,524.5h0.6 M112.6,523.2h0.6 M107.7,527.0h0.6 M112.2,525.9h0.6 M115.9,523.8h0.6 M116.0,537.8h0.6 M110.4,525.6h0.6 M109.9,523.9h0.6 M105.5,530.6h0.6 M114.6,516.0h0.6 M109.5,529.4h0.6 M110.0,529.5h0.6 M109.5,522.3h0.6 M110.0,524.7h0.6 M109.2,515.8h0.6 M116.4,529.6h0.6 M113.1,526.4h0.6 M110.3,528.5h0.6 M108.7,521.9h0.6 M102.1,520.9h0.6 M114.2,525.5h0.6 M117.2,524.2h0.6 M112.3,519.6h0.6 M102.7,528.7h0.6 M111.2,528.1h0.6 M111.0,525.7h0.6 M112.6,526.8h0.6 M113.4,526.6h0.6 M109.6,526.9h0.6 M103.3,525.8h0.6 M111.6,528.2h0.6 M105.8,523.0h0.6 M114.4,520.7h0.6 M102.5,526.9h0.6 M101.9,520.6h0.6 M113.6,532.8h0.6 M107.1,525.0h0.6 M117.1,523.4h0.6 M114.2,531.0h0.6 M106.7,528.7h0.6 M114.5,525.4h0.6 M105.0,525.7h0.6 M119.5,521.2h0.6 M112.9,530.4h0.6 M104.1,530.3h0.6 M107.1,535.2h0.6 M107.9,528.9h0.6 M108.2,528.7h0.6 M113.3,525.2h0.6 M111.1,527.7h0.6 M109.9,524.8h0.6 M116.4,527.4h0.6 M104.1,525.9h0.6 M109.2,529.0h0.6 M109.0,534.9h0.6 M112.4,526.4h0.6 M114.2,521.2h0.6 M114.4,526.5h0.6 M115.4,519.1h0.6 M119.1,524.6h0.6 M115.2,529.1h0.6 M110.5,526.0h0.6 M114.9,522.7h0.6 M119.4,528.0h0.6 M113.3,526.1h0.6 M107.3,524.4h0.6 M116.1,518.8h0.6 M112.9,526.8h0.6 M106.7,525.9h0.6 M113.2,535.1h0.6 M116.4,529.9h0.6 M122.8,524.4h0.6 M116.8,521.2h0.6 M111.9,532.7h0.6 M116.3,518.8h0.6 M117.6,524.2h0.6 M117.4,527.4h0.6 M119.0,519.1h0.6 M114.6,530.4h0.6 M112.0,528.5h0.6 M108.3,520.3h0.6 M111.4,530.4h0.6 M106.7,522.1h0.6 M110.1,527.6h0.6 M114.9,525.9h0.6 M112.3,521.0h0.6 M108.0,524.9h0.6 M111.1,528.6h0.6 M117.4,521.9h0.6 M118.9,527.2h0.6 M105.5,526.1h0.6 M110.0,520.9h0.6 M116.5,514.9h0.6 M108.4,531.8h0.6 M110.3,530.3h0.6 M110.0,532.1h0.6 M111.1,530.0h0.6 M113.5,518.3h0.6 M104.8,522.2h0.6 M109.2,532.0h0.6 M113.7,529.0h0.6 M120.4,526.1h0.6 M114.4,522.7h0.6 M111.1,528.1h0.6 M118.1,527.6h0.6 M112.9,524.3h0.6 M115.2,532.0h0.6 M117.4,532.2h0.6 M110.9,530.8h0.6 M114.7,528.1h0.6 M109.6,529.1h0.6 M111.4,525.2h0.6 M104.2,524.1h0.6 M111.9,528.8h0.6 M113.8,526.2h0.6 M110.9,520.6h0.6 M116.9,523.6h0.6 M107.9,526.0h0.6 M116.9,524.2h0.6 M109.2,537.4h0.6 M109.3,535.6h0.6" stroke="#999" stroke-width="0.64" stroke-opacity="0.9" fill="none"/>
<ellipse cx="127.40" cy="533.60" rx="8.45" ry="4.68" fill="none" stroke="#999" stroke-width="0.5" transform="rotate(-15 127.40 533.60)"/>
<ellipse cx="127.40" cy="533.60" rx="6.40" ry="3.40" fill="#fff" stroke="#444" stroke-width="0.7" transform="rotate(-15 127.40 533.60)"/>
<ellipse cx="127.40" cy="533.60" rx="1.95" ry="1.08" fill="none" stroke="#888" stroke-width="0.5" transform="rotate(-15 127.40 533.60)"/>
<ellipse cx="108.40" cy="532.40" rx="10.30" ry="5.00" fill="none" stroke="#333" stroke-width="0.55" transform="rotate(-29 108.40 532.40)"/>
<ellipse cx="108.04" cy="532.72" rx="8.45" ry="4.10" fill="none" stroke="#333" stroke-width="0.55" transform="rotate(-29 108.04 532.72)"/>
<ellipse cx="107.70" cy="533.03" rx="6.70" ry="3.25" fill="none" stroke="#333" stroke-width="0.55" transform="rotate(-29 107.70 533.03)"/>
<ellipse cx="107.40" cy="533.30" rx="5.15" ry="2.50" fill="none" stroke="#333" stroke-width="0.55" transform="rotate(-29 107.40 533.30)"/>
<ellipse cx="107.12" cy="533.55" rx="3.71" ry="1.80" fill="none" stroke="#333" stroke-width="0.55" transform="rotate(-29 107.12 533.55)"/>
<ellipse cx="106.90" cy="533.75" rx="2.58" ry="1.25" fill="none" stroke="#333" stroke-width="0.55" transform="rotate(-29 106.90 533.75)"/>
<ellipse cx="106.20" cy="535.30" rx="3.60" ry="1.40" fill="#222" stroke="none" stroke-width="1" transform="rotate(-25 106.2 535.3)"/>
<path d="M97.20,517.30 L119.60,515.30 L118.50,543.50 L97.20,543.50 Z" fill="none" stroke="#222" stroke-width="1.1" />
<path d="M62.9,598.3h0.6 M68.5,601.8h0.6 M66.4,601.2h0.6 M60.8,603.1h0.6 M55.0,606.7h0.6 M67.0,598.6h0.6 M69.9,592.6h0.6 M56.6,600.5h0.6 M46.5,611.5h0.6 M55.4,604.0h0.6 M50.7,607.6h0.6 M46.9,609.9h0.6 M53.1,603.2h0.6 M58.8,598.1h0.6 M61.6,602.8h0.6 M62.1,602.1h0.6 M63.5,600.2h0.6 M51.4,609.1h0.6 M52.4,606.3h0.6 M58.0,601.4h0.6 M63.1,596.6h0.6 M66.7,599.0h0.6 M71.5,599.7h0.6 M63.4,601.9h0.6 M57.4,600.4h0.6 M53.3,604.0h0.6 M53.3,606.5h0.6 M53.0,607.4h0.6 M56.0,603.9h0.6 M61.6,603.4h0.6 M48.7,608.6h0.6 M78.5,592.3h0.6 M60.4,600.1h0.6 M67.1,603.5h0.6 M62.2,601.3h0.6 M56.1,599.6h0.6 M62.0,600.9h0.6 M61.6,603.2h0.6 M62.5,607.8h0.6 M63.8,598.8h0.6 M63.4,602.9h0.6 M60.4,606.9h0.6 M53.5,601.5h0.6 M51.5,609.0h0.6 M51.7,608.2h0.6 M48.4,610.8h0.6 M55.4,602.9h0.6 M54.2,605.5h0.6 M64.9,600.8h0.6 M57.1,605.1h0.6 M65.1,601.4h0.6 M69.5,595.3h0.6 M64.2,600.9h0.6 M54.8,607.8h0.6 M65.3,602.8h0.6 M60.5,600.0h0.6 M60.0,604.1h0.6 M70.0,597.6h0.6 M61.4,606.8h0.6 M58.2,602.7h0.6 M61.3,604.5h0.6 M57.2,599.6h0.6 M56.9,607.8h0.6 M54.4,608.8h0.6 M58.5,601.5h0.6 M61.1,596.0h0.6 M41.9,608.8h0.6 M61.6,601.2h0.6 M62.6,601.2h0.6 M58.6,602.2h0.6 M56.9,607.7h0.6 M61.9,597.9h0.6 M64.9,606.2h0.6 M62.3,598.8h0.6 M63.7,601.5h0.6 M57.4,607.4h0.6 M66.1,597.9h0.6 M58.7,602.6h0.6 M60.4,607.5h0.6 M56.1,606.9h0.6 M60.2,603.1h0.6 M51.4,609.8h0.6 M51.8,609.9h0.6 M57.9,604.6h0.6 M54.1,603.8h0.6 M51.3,608.0h0.6 M58.1,604.9h0.6 M57.4,606.8h0.6 M59.5,603.6h0.6 M56.7,604.8h0.6 M61.9,599.8h0.6 M50.6,609.5h0.6 M61.3,602.3h0.6 M58.3,600.1h0.6 M51.7,607.8h0.6 M56.5,601.3h0.6 M59.1,597.9h0.6 M65.5,596.7h0.6 M53.2,603.8h0.6 M48.7,608.5h0.6 M45.0,610.6h0.6 M59.1,602.6h0.6 M56.3,600.8h0.6 M44.0,608.3h0.6 M65.9,600.5h0.6 M48.3,614.8h0.6 M64.0,603.9h0.6 M66.9,602.8h0.6 M46.9,610.8h0.6 M55.5,611.3h0.6 M63.0,601.2h0.6 M53.9,600.3h0.6 M57.9,601.7h0.6 M68.5,600.2h0.6 M57.3,603.4h0.6 M65.2,598.4h0.6 M66.1,600.1h0.6 M56.8,605.9h0.6 M68.2,593.5h0.6 M64.3,602.6h0.6 M58.4,608.2h0.6 M63.6,602.5h0.6 M52.2,609.2h0.6 M50.1,610.1h0.6 M71.8,593.5h0.6 M67.5,595.4h0.6 M59.7,605.3h0.6 M48.8,610.4h0.6 M52.2,605.6h0.6 M63.9,600.4h0.6" stroke="#777" stroke-width="0.64" stroke-opacity="0.9" fill="none"/>
<path d="M73.0,589.5h0.6 M76.4,593.6h0.6 M70.5,590.4h0.6 M72.1,593.6h0.6 M68.4,583.7h0.6 M70.8,593.4h0.6 M86.2,574.9h0.6 M65.8,590.5h0.6 M65.8,587.8h0.6 M64.6,596.7h0.6 M59.7,600.2h0.6 M68.7,599.2h0.6 M85.7,587.8h0.6 M72.8,592.8h0.6 M84.5,576.1h0.6 M79.4,579.4h0.6 M73.7,581.6h0.6 M67.2,593.7h0.6 M64.1,588.4h0.6 M70.5,590.4h0.6 M81.5,584.5h0.6 M56.3,605.1h0.6 M77.1,585.3h0.6 M62.4,592.6h0.6 M65.7,591.7h0.6 M67.7,592.7h0.6 M76.5,581.7h0.6 M69.9,587.1h0.6 M74.5,592.9h0.6 M63.8,592.2h0.6 M70.6,591.7h0.6 M67.0,596.8h0.6 M72.3,593.2h0.6 M62.9,602.0h0.6 M76.8,582.2h0.6 M83.9,580.7h0.6 M59.2,596.9h0.6 M63.8,594.7h0.6 M69.4,594.1h0.6 M68.2,592.3h0.6 M59.1,592.4h0.6 M62.7,593.0h0.6 M70.5,580.4h0.6 M71.2,577.7h0.6 M69.0,593.1h0.6 M60.6,596.0h0.6 M73.6,583.9h0.6 M69.7,592.6h0.6 M71.7,584.7h0.6 M78.6,583.6h0.6 M73.7,582.2h0.6 M77.3,585.1h0.6 M74.0,585.6h0.6 M76.1,586.8h0.6 M63.5,609.7h0.6 M66.9,597.1h0.6 M67.9,591.9h0.6 M69.9,596.5h0.6 M78.6,588.7h0.6 M61.3,603.8h0.6 M65.6,606.9h0.6 M75.5,592.5h0.6 M70.6,592.3h0.6 M70.2,601.3h0.6 M70.6,596.7h0.6 M64.5,596.4h0.6 M67.4,594.0h0.6 M68.4,596.6h0.6 M70.9,583.8h0.6 M64.3,591.1h0.6 M74.5,582.2h0.6 M73.7,589.5h0.6 M65.3,587.2h0.6 M81.3,581.3h0.6 M77.3,590.6h0.6 M61.3,595.3h0.6 M86.3,586.6h0.6 M64.6,596.6h0.6 M76.3,585.8h0.6 M80.5,585.5h0.6 M71.4,594.1h0.6 M70.1,598.0h0.6 M68.9,599.3h0.6 M82.9,572.3h0.6 M78.2,577.8h0.6 M74.1,597.1h0.6 M79.1,587.1h0.6 M73.2,590.1h0.6 M72.9,588.6h0.6 M65.5,590.4h0.6" stroke="#999" stroke-width="0.64" stroke-opacity="0.9" fill="none"/>
<path d="M45.3,604.3h0.6 M46.7,605.6h0.6 M37.2,604.0h0.6 M33.7,607.5h0.6 M34.3,606.6h0.6 M33.5,606.4h0.6 M32.5,604.2h0.6 M31.1,611.5h0.6 M29.5,607.4h0.6 M30.3,608.0h0.6 M33.3,612.1h0.6 M30.0,611.5h0.6 M32.8,608.7h0.6 M49.9,603.1h0.6 M33.6,600.9h0.6 M33.1,607.1h0.6 M36.1,607.3h0.6 M28.3,606.7h0.6 M39.5,605.3h0.6 M35.8,608.4h0.6 M35.9,607.2h0.6 M29.0,608.7h0.6 M26.4,613.4h0.6 M31.7,611.8h0.6 M32.3,607.5h0.6 M43.0,605.4h0.6 M36.2,606.2h0.6 M33.4,605.9h0.6 M29.8,604.4h0.6 M34.0,605.6h0.6 M44.7,609.4h0.6 M45.7,601.5h0.6 M33.1,607.3h0.6 M27.3,612.7h0.6 M39.6,606.5h0.6 M46.8,605.1h0.6 M33.7,608.1h0.6 M32.9,608.8h0.6 M28.0,610.2h0.6 M33.4,606.6h0.6 M33.0,607.4h0.6 M25.5,611.0h0.6 M35.2,611.2h0.6 M35.8,609.1h0.6 M35.1,606.8h0.6 M28.0,607.9h0.6 M30.6,602.8h0.6 M33.2,606.0h0.6 M37.7,608.8h0.6 M34.3,610.0h0.6 M43.0,606.7h0.6 M33.5,607.8h0.6 M45.8,607.8h0.6 M41.0,601.6h0.6 M40.3,608.8h0.6 M38.6,605.5h0.6 M38.0,606.2h0.6 M44.6,606.5h0.6 M29.4,606.9h0.6 M41.8,607.3h0.6 M37.3,607.3h0.6 M27.6,607.2h0.6 M37.4,602.3h0.6 M38.6,607.5h0.6 M39.7,607.8h0.6 M46.7,604.7h0.6 M29.7,604.7h0.6 M39.6,602.1h0.6 M36.0,605.2h0.6 M34.0,607.9h0.6 M34.9,604.4h0.6 M39.7,605.6h0.6 M24.9,611.6h0.6 M44.4,603.7h0.6 M43.9,601.2h0.6 M34.7,610.2h0.6 M43.4,606.1h0.6 M41.4,604.5h0.6 M40.2,608.0h0.6 M41.2,606.4h0.6 M40.6,606.7h0.6 M38.1,602.8h0.6 M38.4,604.1h0.6 M33.3,607.7h0.6 M36.1,603.8h0.6 M32.5,608.4h0.6 M33.0,607.7h0.6 M36.9,607.1h0.6 M32.3,608.3h0.6 M38.0,603.4h0.6 M39.4,603.7h0.6 M37.9,607.8h0.6 M38.5,603.5h0.6 M29.4,605.9h0.6 M38.8,606.4h0.6 M25.3,611.4h0.6 M42.0,604.1h0.6 M35.1,607.7h0.6 M29.2,607.7h0.6 M38.4,605.4h0.6 M35.4,607.3h0.6 M45.5,604.9h0.6 M37.1,605.5h0.6 M42.6,605.2h0.6 M36.0,609.9h0.6 M42.7,603.0h0.6 M34.3,610.2h0.6 M33.5,611.1h0.6 M35.5,611.4h0.6 M28.6,604.4h0.6 M28.0,613.5h0.6 M30.9,607.2h0.6 M31.6,606.3h0.6 M36.4,607.1h0.6 M31.4,606.9h0.6 M43.7,607.0h0.6 M41.8,608.1h0.6" stroke="#555" stroke-width="0.64" stroke-opacity="0.9" fill="none"/>
<ellipse cx="34.30" cy="608.40" rx="8.20" ry="3.00" fill="none" stroke="#222" stroke-width="0.7" transform="rotate(-15 34.30 608.40)"/>
<ellipse cx="34.30" cy="608.40" rx="6.56" ry="2.40" fill="none" stroke="#222" stroke-width="0.7" transform="rotate(-15 34.30 608.40)"/>
<ellipse cx="34.30" cy="608.40" rx="4.92" ry="1.80" fill="none" stroke="#222" stroke-width="0.7" transform="rotate(-15 34.30 608.40)"/>
<ellipse cx="34.30" cy="608.40" rx="3.44" ry="1.26" fill="none" stroke="#222" stroke-width="0.7" transform="rotate(-15 34.30 608.40)"/>
<ellipse cx="33.50" cy="608.80" rx="3.60" ry="1.50" fill="#111" stroke="none" stroke-width="1" transform="rotate(-12 33.5 608.8)"/>
<ellipse cx="56.00" cy="607.50" rx="6.50" ry="2.30" fill="none" stroke="#555" stroke-width="0.5" transform="rotate(-20 56.00 607.50)"/>
<ellipse cx="56.00" cy="607.50" rx="4.23" ry="1.49" fill="none" stroke="#555" stroke-width="0.5" transform="rotate(-20 56.00 607.50)"/>
<ellipse cx="56.00" cy="607.80" rx="2.60" ry="0.90" fill="#555" stroke="none" stroke-width="1" transform="rotate(-20 56 607.8)"/>
<path d="M24.80,589.90 L46.60,588.40 L45.70,616.40 L24.50,615.50 Z" fill="none" stroke="#222" stroke-width="1.1" />
<path d="M111.8,564.3h0.6 M128.4,558.3h0.6 M125.8,552.5h0.6 M104.5,557.8h0.6 M109.1,564.1h0.6 M106.9,559.9h0.6 M101.7,555.6h0.6 M111.8,558.5h0.6 M121.5,561.6h0.6 M102.6,559.8h0.6 M104.0,558.3h0.6 M108.0,557.0h0.6 M106.8,560.2h0.6 M119.9,563.6h0.6 M129.5,555.5h0.6 M109.8,565.4h0.6 M103.2,560.6h0.6 M119.9,566.6h0.6 M118.6,562.3h0.6 M111.9,563.3h0.6 M114.3,562.3h0.6 M107.5,560.7h0.6 M105.4,557.3h0.6 M105.7,558.2h0.6 M107.3,559.1h0.6 M99.6,562.2h0.6 M116.2,566.6h0.6 M104.5,558.1h0.6 M113.8,558.1h0.6 M106.3,563.7h0.6 M111.6,555.4h0.6 M121.8,569.0h0.6 M123.5,560.5h0.6 M125.5,560.9h0.6 M110.1,562.0h0.6 M125.0,561.5h0.6 M110.6,556.3h0.6 M115.0,557.3h0.6 M112.4,556.2h0.6 M105.5,557.7h0.6 M107.3,557.1h0.6 M124.4,563.8h0.6 M110.3,557.5h0.6 M123.1,560.2h0.6 M118.4,564.6h0.6 M109.6,562.6h0.6 M117.3,559.6h0.6 M111.7,558.9h0.6 M128.1,564.7h0.6 M137.8,561.4h0.6 M121.2,558.9h0.6 M106.5,558.0h0.6 M117.4,563.8h0.6 M121.4,563.9h0.6 M101.8,561.8h0.6 M116.2,556.4h0.6 M103.0,568.8h0.6 M107.2,559.4h0.6 M125.5,562.5h0.6 M105.6,561.2h0.6 M116.5,563.1h0.6 M104.3,562.4h0.6 M107.3,559.3h0.6 M105.6,558.3h0.6 M117.6,554.9h0.6 M115.0,570.6h0.6 M105.2,560.1h0.6 M112.6,566.5h0.6 M100.4,563.1h0.6 M112.3,567.9h0.6 M111.4,568.0h0.6 M104.6,562.3h0.6 M103.3,559.0h0.6 M102.0,559.7h0.6 M127.1,559.2h0.6 M135.4,566.7h0.6 M115.9,561.1h0.6 M116.0,558.4h0.6 M118.5,561.4h0.6 M118.4,561.3h0.6 M116.0,561.1h0.6 M108.8,564.7h0.6 M125.8,560.0h0.6 M120.4,557.3h0.6 M124.4,558.2h0.6 M113.5,564.4h0.6 M108.7,561.2h0.6 M122.2,559.2h0.6 M116.2,564.9h0.6 M115.4,558.4h0.6 M109.6,560.2h0.6 M113.3,563.3h0.6 M99.3,560.8h0.6 M115.0,566.3h0.6 M100.1,558.0h0.6 M121.1,560.9h0.6 M122.9,560.9h0.6 M107.4,560.9h0.6 M124.2,563.6h0.6 M114.9,561.6h0.6 M122.7,563.2h0.6 M115.3,563.6h0.6 M114.0,557.2h0.6 M121.2,565.2h0.6 M125.5,560.8h0.6 M102.5,562.5h0.6 M108.0,554.6h0.6 M114.5,558.4h0.6 M113.8,559.4h0.6 M120.4,564.0h0.6 M117.6,565.1h0.6 M108.4,569.2h0.6 M97.9,563.6h0.6 M122.3,559.7h0.6 M114.2,557.0h0.6 M109.3,562.1h0.6 M102.0,554.4h0.6 M110.0,558.2h0.6 M104.7,560.5h0.6 M101.0,564.8h0.6 M123.3,561.2h0.6 M107.9,560.9h0.6 M112.2,558.3h0.6 M107.4,562.5h0.6 M105.2,558.9h0.6 M109.2,557.6h0.6 M115.4,556.7h0.6 M121.3,563.5h0.6 M112.9,563.9h0.6 M122.7,559.7h0.6 M112.6,559.0h0.6 M109.9,559.7h0.6 M113.8,562.8h0.6 M132.4,562.2h0.6 M121.4,560.3h0.6 M127.6,561.5h0.6 M111.6,560.1h0.6 M113.4,559.7h0.6 M114.7,567.0h0.6 M113.7,558.5h0.6 M104.3,558.4h0.6 M114.3,562.2h0.6 M117.2,564.9h0.6 M104.8,558.8h0.6 M105.4,557.6h0.6 M107.4,558.1h0.6 M119.1,557.4h0.6 M132.2,554.0h0.6 M120.3,555.7h0.6 M108.8,556.9h0.6 M113.1,562.6h0.6 M109.4,558.8h0.6 M104.4,558.1h0.6 M105.5,558.7h0.6 M113.5,564.0h0.6 M106.9,554.1h0.6 M109.7,563.8h0.6 M104.0,562.2h0.6 M102.8,556.7h0.6 M114.8,554.7h0.6 M103.7,562.2h0.6 M108.5,558.5h0.6 M117.5,557.8h0.6 M102.8,559.5h0.6 M112.1,561.4h0.6 M111.2,564.9h0.6 M117.7,560.4h0.6 M132.8,555.6h0.6 M114.9,558.3h0.6 M131.4,561.9h0.6 M119.9,562.2h0.6 M125.5,559.0h0.6 M120.6,555.1h0.6 M117.6,564.7h0.6 M120.3,562.9h0.6 M109.7,566.0h0.6 M117.4,563.1h0.6 M124.1,562.7h0.6 M100.8,558.1h0.6 M111.0,556.5h0.6 M117.0,559.4h0.6 M110.0,565.3h0.6 M111.8,560.0h0.6 M122.5,559.7h0.6 M117.2,566.7h0.6 M100.8,556.0h0.6 M106.4,560.1h0.6 M103.1,561.7h0.6 M105.9,564.7h0.6 M117.1,563.2h0.6 M114.6,561.6h0.6 M98.5,560.1h0.6 M102.8,557.8h0.6 M108.7,568.3h0.6 M103.0,566.5h0.6 M113.8,569.6h0.6 M110.7,559.0h0.6 M112.4,559.0h0.6 M106.4,563.3h0.6 M108.7,563.9h0.6 M117.8,564.0h0.6 M126.4,564.5h0.6 M104.4,565.4h0.6 M123.2,557.2h0.6 M123.8,554.5h0.6 M121.4,559.5h0.6 M110.2,560.3h0.6 M107.7,563.3h0.6 M112.2,560.7h0.6 M113.1,559.6h0.6 M103.8,562.9h0.6 M120.0,556.9h0.6 M121.0,565.2h0.6 M114.2,565.8h0.6 M106.2,561.9h0.6 M104.7,569.2h0.6 M109.1,563.1h0.6 M99.9,559.9h0.6 M116.4,560.5h0.6 M106.1,565.9h0.6 M99.2,561.2h0.6 M111.2,559.6h0.6 M118.3,561.7h0.6 M111.1,563.1h0.6 M112.0,562.7h0.6 M123.8,561.7h0.6 M113.3,558.9h0.6 M125.1,564.2h0.6 M117.3,561.9h0.6 M105.5,561.2h0.6 M115.3,556.9h0.6 M104.4,560.5h0.6 M129.4,562.1h0.6 M100.0,565.2h0.6 M120.5,563.3h0.6 M107.9,560.5h0.6 M131.8,564.7h0.6 M152.8,554.7h0.6 M98.9,559.4h0.6 M104.8,558.6h0.6 M119.1,565.4h0.6 M100.3,562.8h0.6 M120.2,561.8h0.6 M124.6,564.9h0.6 M105.7,561.4h0.6" stroke="#888" stroke-width="0.64" stroke-opacity="0.9" fill="none"/>
<path d="M138.5,579.9h0.6 M126.3,598.0h0.6 M134.2,591.1h0.6 M145.3,602.7h0.6 M141.4,584.8h0.6 M141.3,589.3h0.6 M132.6,585.5h0.6 M121.7,591.1h0.6 M120.9,593.5h0.6 M121.7,598.6h0.6 M129.2,601.0h0.6 M122.8,591.6h0.6 M135.4,594.4h0.6 M133.7,584.3h0.6 M109.8,584.9h0.6 M128.4,576.9h0.6 M145.2,567.4h0.6 M124.4,593.6h0.6 M133.0,588.0h0.6 M126.4,589.1h0.6 M124.7,580.4h0.6 M140.7,584.0h0.6 M132.7,586.1h0.6 M132.3,568.7h0.6 M129.7,580.5h0.6 M125.8,586.3h0.6 M131.3,596.3h0.6 M139.0,580.5h0.6 M139.1,597.0h0.6 M141.8,580.6h0.6 M129.2,613.3h0.6 M130.6,601.3h0.6 M127.7,589.6h0.6 M128.9,595.6h0.6 M131.8,592.7h0.6 M131.2,576.7h0.6 M121.4,612.2h0.6 M123.6,591.7h0.6 M142.9,588.1h0.6 M120.2,588.4h0.6 M135.3,582.1h0.6 M138.4,600.6h0.6 M137.6,577.7h0.6 M135.1,603.7h0.6 M130.4,606.8h0.6 M129.7,578.0h0.6 M135.6,596.4h0.6 M133.7,585.5h0.6 M137.3,595.2h0.6 M142.1,582.3h0.6 M130.6,593.9h0.6 M145.3,578.1h0.6 M133.4,583.5h0.6 M132.6,588.7h0.6 M131.3,598.3h0.6 M133.9,590.1h0.6 M131.7,605.1h0.6 M135.7,583.0h0.6 M139.2,603.3h0.6 M147.4,592.7h0.6 M130.3,587.3h0.6 M137.5,576.6h0.6 M143.5,579.1h0.6 M114.8,581.5h0.6 M124.2,589.2h0.6 M130.4,574.5h0.6 M124.4,572.7h0.6 M121.3,608.3h0.6 M138.9,586.2h0.6 M139.4,596.1h0.6 M127.6,568.8h0.6 M124.9,580.4h0.6 M134.8,584.6h0.6 M132.5,580.0h0.6 M129.8,597.6h0.6 M120.0,598.1h0.6 M127.9,585.0h0.6 M140.0,600.3h0.6 M140.3,572.9h0.6 M134.0,587.1h0.6 M126.0,599.3h0.6 M121.0,604.6h0.6 M131.6,591.6h0.6 M129.6,590.0h0.6 M139.5,596.2h0.6 M128.9,580.2h0.6 M137.0,598.4h0.6 M127.2,586.4h0.6 M130.2,595.5h0.6 M125.5,588.1h0.6 M127.1,579.3h0.6 M124.9,601.6h0.6 M124.5,604.7h0.6 M129.0,602.8h0.6 M138.6,573.4h0.6 M120.1,579.8h0.6 M143.9,593.8h0.6 M126.3,594.1h0.6 M131.3,585.5h0.6 M131.6,594.2h0.6 M131.7,581.0h0.6 M145.8,586.9h0.6 M127.1,585.7h0.6 M129.9,592.3h0.6 M136.4,606.4h0.6 M131.2,591.0h0.6 M138.7,591.8h0.6 M137.7,580.7h0.6 M134.9,590.5h0.6 M122.0,588.0h0.6 M144.6,599.6h0.6 M121.6,599.2h0.6 M133.4,592.8h0.6 M137.7,602.7h0.6 M148.5,589.0h0.6 M129.6,588.0h0.6 M138.2,580.0h0.6 M139.7,578.3h0.6 M129.5,586.1h0.6 M132.3,593.7h0.6 M125.8,590.9h0.6 M134.3,590.1h0.6 M134.3,585.5h0.6 M137.7,607.7h0.6 M128.0,602.7h0.6 M128.7,582.8h0.6 M128.1,593.1h0.6 M133.8,580.8h0.6 M127.2,575.7h0.6 M135.9,597.1h0.6 M115.3,602.6h0.6 M130.9,584.4h0.6 M130.8,589.9h0.6 M129.7,588.6h0.6 M133.1,600.5h0.6 M128.4,586.5h0.6 M129.1,583.9h0.6 M132.7,586.9h0.6 M139.6,583.4h0.6 M131.3,597.8h0.6 M131.4,586.2h0.6 M137.4,588.4h0.6 M129.0,590.9h0.6 M113.5,589.0h0.6 M131.1,596.0h0.6 M125.1,582.2h0.6 M132.5,596.3h0.6 M130.2,584.2h0.6 M140.5,596.9h0.6 M145.4,581.6h0.6 M137.0,586.3h0.6 M123.5,599.9h0.6 M129.3,578.4h0.6 M128.6,585.8h0.6 M130.4,593.9h0.6 M137.9,597.9h0.6 M138.7,604.8h0.6 M136.1,590.3h0.6 M141.9,591.4h0.6 M138.1,593.2h0.6 M125.7,594.3h0.6 M135.0,594.8h0.6 M138.4,594.3h0.6 M127.1,588.6h0.6 M147.8,586.8h0.6 M120.6,584.7h0.6 M120.0,599.1h0.6 M136.9,582.2h0.6 M135.6,581.4h0.6 M131.2,599.8h0.6 M135.2,603.0h0.6 M127.0,600.6h0.6 M140.4,580.0h0.6 M144.3,586.1h0.6 M134.8,574.3h0.6 M135.6,568.7h0.6 M127.7,578.9h0.6 M126.2,583.1h0.6 M138.3,589.6h0.6 M130.1,601.2h0.6 M122.0,601.5h0.6 M131.9,589.4h0.6 M128.6,603.2h0.6 M120.5,594.8h0.6 M128.6,589.4h0.6 M136.2,564.4h0.6 M136.2,600.3h0.6 M129.2,578.8h0.6 M124.6,586.1h0.6 M145.4,594.8h0.6 M118.3,591.7h0.6 M133.0,573.1h0.6 M134.5,591.1h0.6 M130.1,596.9h0.6 M146.7,574.1h0.6 M128.3,600.8h0.6 M144.1,584.4h0.6 M125.2,574.7h0.6 M135.3,589.3h0.6 M137.9,590.8h0.6 M128.7,576.3h0.6 M127.0,596.8h0.6 M145.5,585.4h0.6 M135.1,590.7h0.6 M129.6,576.0h0.6 M143.7,590.6h0.6 M129.5,593.8h0.6 M131.4,597.3h0.6 M128.5,584.2h0.6 M132.2,593.9h0.6 M134.5,572.6h0.6 M133.9,600.2h0.6 M138.5,591.7h0.6 M122.4,581.2h0.6 M143.5,598.7h0.6 M140.4,576.1h0.6 M123.8,596.9h0.6 M134.7,589.8h0.6 M136.9,600.1h0.6 M136.2,590.1h0.6 M130.3,600.6h0.6 M139.3,579.6h0.6 M132.1,587.0h0.6 M129.3,602.7h0.6 M133.4,585.9h0.6 M134.7,596.4h0.6 M125.1,591.9h0.6 M131.7,593.7h0.6 M130.7,567.7h0.6 M129.6,570.4h0.6 M133.9,601.8h0.6 M117.7,599.4h0.6 M128.3,579.4h0.6 M151.0,584.8h0.6 M133.0,599.4h0.6 M136.2,599.2h0.6 M127.1,604.6h0.6 M131.1,590.7h0.6 M135.9,588.1h0.6 M126.0,600.5h0.6 M139.7,600.2h0.6 M133.4,585.3h0.6 M131.1,585.6h0.6 M129.6,588.0h0.6 M126.1,599.1h0.6 M124.8,582.2h0.6 M138.8,588.8h0.6 M127.1,593.8h0.6 M135.6,581.1h0.6 M130.3,596.2h0.6 M117.6,593.3h0.6 M118.3,591.3h0.6 M122.8,588.3h0.6 M127.4,599.2h0.6 M133.3,586.0h0.6 M126.4,589.8h0.6 M126.8,597.3h0.6 M129.4,602.5h0.6 M135.7,593.8h0.6 M129.0,595.5h0.6 M142.4,580.4h0.6 M136.0,588.1h0.6 M130.7,598.2h0.6 M120.4,583.5h0.6 M145.6,577.5h0.6 M133.4,590.9h0.6 M124.7,596.6h0.6 M137.7,593.1h0.6 M134.8,607.4h0.6 M129.8,598.3h0.6 M130.3,608.3h0.6 M134.2,598.8h0.6 M129.8,597.1h0.6 M142.3,594.2h0.6 M135.4,581.3h0.6 M149.8,594.3h0.6 M131.3,583.7h0.6 M138.0,597.0h0.6 M118.7,585.7h0.6 M143.8,595.3h0.6 M120.7,616.6h0.6 M131.4,587.7h0.6 M125.9,614.0h0.6 M141.6,577.1h0.6 M132.1,588.0h0.6 M138.3,589.3h0.6 M138.3,579.3h0.6 M123.9,587.2h0.6 M146.4,586.5h0.6 M117.1,596.4h0.6 M131.2,598.7h0.6 M130.0,592.1h0.6 M131.5,590.2h0.6 M145.0,592.1h0.6 M129.6,589.4h0.6 M123.9,605.1h0.6 M129.4,593.5h0.6 M122.1,591.8h0.6 M133.4,598.3h0.6 M124.6,580.2h0.6" stroke="#8a8a8a" stroke-width="0.64" stroke-opacity="0.9" fill="none"/>
<path d="M104.0,583.6h0.6 M132.5,593.5h0.6 M157.6,595.0h0.6 M134.0,570.6h0.6 M157.1,556.9h0.6 M149.8,597.8h0.6 M151.2,576.0h0.6 M150.9,559.2h0.6 M131.5,566.7h0.6 M125.0,591.2h0.6 M151.1,585.9h0.6 M140.6,566.6h0.6 M162.5,586.7h0.6 M149.8,558.8h0.6 M130.2,583.3h0.6 M143.6,571.1h0.6 M143.3,556.5h0.6 M110.5,571.6h0.6 M130.4,552.0h0.6 M140.0,587.3h0.6 M131.9,586.5h0.6 M163.0,570.0h0.6 M159.1,578.8h0.6 M141.4,569.9h0.6 M126.5,578.2h0.6 M153.7,596.9h0.6 M131.9,578.9h0.6 M149.7,586.3h0.6 M117.2,593.3h0.6 M135.3,563.2h0.6 M140.9,578.7h0.6 M139.3,558.5h0.6 M126.5,570.6h0.6 M114.5,580.5h0.6 M146.7,580.6h0.6 M146.1,566.5h0.6 M130.3,583.3h0.6 M127.9,591.3h0.6 M148.9,587.4h0.6 M141.4,564.1h0.6 M142.4,564.0h0.6 M137.6,570.0h0.6 M129.2,586.0h0.6 M133.3,563.4h0.6 M152.5,583.2h0.6 M148.4,570.4h0.6 M138.6,591.7h0.6 M138.7,580.4h0.6 M151.5,587.2h0.6 M159.0,567.1h0.6 M125.0,555.7h0.6 M147.8,569.6h0.6 M110.1,587.6h0.6 M157.2,574.8h0.6 M135.7,564.9h0.6 M146.5,583.5h0.6 M136.2,591.5h0.6 M135.9,558.6h0.6 M140.4,574.9h0.6 M139.6,580.5h0.6 M116.3,587.0h0.6 M118.7,571.9h0.6 M140.8,586.2h0.6 M146.1,567.1h0.6 M143.6,559.2h0.6 M139.3,572.2h0.6 M110.1,592.5h0.6 M131.2,579.1h0.6 M155.1,580.4h0.6 M140.2,561.2h0.6 M134.8,564.2h0.6 M135.2,583.7h0.6 M136.2,593.1h0.6 M143.7,579.7h0.6 M106.4,561.1h0.6 M149.3,559.8h0.6 M142.4,567.2h0.6 M137.9,574.1h0.6 M137.3,573.6h0.6 M142.9,580.4h0.6 M128.9,582.9h0.6 M139.3,579.8h0.6 M153.0,601.3h0.6 M165.7,581.7h0.6 M142.9,582.5h0.6 M141.9,574.2h0.6 M144.9,591.7h0.6 M148.5,568.8h0.6 M148.7,555.8h0.6 M140.6,562.4h0.6 M120.9,555.0h0.6 M138.1,573.0h0.6 M115.7,574.5h0.6 M141.3,561.3h0.6 M160.1,573.7h0.6" stroke="#aaa" stroke-width="0.64" stroke-opacity="0.9" fill="none"/>
<path d="M115.1,605.9h0.6 M110.2,599.4h0.6 M114.1,595.3h0.6 M110.2,599.2h0.6 M110.0,604.4h0.6 M115.1,605.3h0.6 M108.7,592.8h0.6 M111.5,597.6h0.6 M111.3,605.0h0.6 M108.3,591.9h0.6 M120.2,593.4h0.6 M100.9,603.5h0.6 M109.9,593.7h0.6 M101.2,594.9h0.6 M110.2,596.9h0.6 M118.7,596.7h0.6 M109.9,596.6h0.6 M111.8,591.1h0.6 M112.8,601.3h0.6 M103.1,597.2h0.6 M120.7,604.5h0.6 M116.7,606.8h0.6 M112.1,597.8h0.6 M105.0,595.9h0.6 M113.5,594.8h0.6 M107.7,603.5h0.6 M110.8,595.4h0.6 M110.8,598.7h0.6 M110.5,599.0h0.6 M101.9,590.8h0.6 M110.0,607.0h0.6 M108.8,601.8h0.6 M110.7,593.9h0.6 M109.8,598.6h0.6 M113.5,601.5h0.6 M110.0,598.9h0.6 M115.4,597.7h0.6 M105.6,609.9h0.6 M111.0,596.1h0.6 M107.4,596.1h0.6 M107.1,593.2h0.6 M116.5,599.0h0.6 M106.2,605.2h0.6 M101.2,602.1h0.6 M106.6,606.0h0.6 M110.3,592.1h0.6 M112.3,601.6h0.6 M114.4,611.5h0.6 M105.2,610.5h0.6 M117.0,594.0h0.6 M107.2,608.6h0.6 M102.6,604.2h0.6 M103.8,596.1h0.6 M115.9,603.4h0.6 M104.6,606.9h0.6 M108.9,596.8h0.6 M108.7,604.0h0.6 M115.2,595.4h0.6 M99.2,610.8h0.6 M107.2,590.4h0.6 M107.3,601.5h0.6 M109.2,602.2h0.6 M107.0,605.4h0.6 M106.6,601.2h0.6 M116.8,603.9h0.6 M104.4,602.6h0.6 M104.8,603.3h0.6 M103.9,596.5h0.6 M116.7,598.2h0.6 M113.3,605.7h0.6 M102.4,606.6h0.6 M117.4,593.6h0.6 M103.4,599.2h0.6 M119.0,600.9h0.6 M114.0,603.0h0.6 M105.5,600.3h0.6 M111.9,593.4h0.6 M111.0,599.2h0.6 M106.0,603.4h0.6 M101.7,601.0h0.6 M106.2,604.2h0.6 M106.8,594.5h0.6 M114.2,610.5h0.6 M111.3,601.5h0.6 M112.2,590.3h0.6 M103.3,599.4h0.6 M110.7,603.0h0.6 M102.5,608.2h0.6 M109.0,593.7h0.6 M104.0,600.2h0.6 M115.6,590.7h0.6 M119.7,605.6h0.6 M105.7,597.6h0.6 M107.2,595.6h0.6 M105.1,596.4h0.6 M97.9,597.5h0.6 M112.8,594.2h0.6 M106.3,608.1h0.6 M107.9,599.0h0.6 M105.7,602.2h0.6 M106.9,599.0h0.6 M110.6,603.8h0.6 M111.9,606.2h0.6 M112.1,592.5h0.6 M101.3,597.2h0.6 M107.4,605.4h0.6 M106.6,598.8h0.6 M104.6,590.1h0.6 M110.8,598.1h0.6 M112.3,596.6h0.6 M117.5,601.5h0.6 M109.4,603.3h0.6 M103.0,599.5h0.6 M103.3,602.3h0.6 M100.4,598.8h0.6" stroke="#999" stroke-width="0.64" stroke-opacity="0.9" fill="none"/>
<path d="M110.0,556.2h0.6 M115.7,557.5h0.6 M109.8,559.1h0.6 M118.7,561.3h0.6 M109.8,558.3h0.6 M117.6,559.5h0.6 M104.1,560.2h0.6 M116.0,559.7h0.6 M111.9,563.5h0.6 M107.8,561.7h0.6 M122.6,564.1h0.6 M103.4,561.2h0.6 M112.5,565.9h0.6 M120.5,562.4h0.6 M119.9,561.2h0.6 M104.2,565.5h0.6 M99.6,561.8h0.6 M117.0,560.3h0.6 M118.7,559.8h0.6 M117.3,560.5h0.6 M106.4,562.3h0.6 M107.6,561.4h0.6 M104.2,560.5h0.6 M115.5,562.8h0.6 M103.9,558.5h0.6 M111.5,557.3h0.6 M115.9,565.8h0.6 M116.4,561.4h0.6 M105.7,561.3h0.6 M115.4,564.8h0.6 M109.1,563.0h0.6 M109.1,559.2h0.6 M108.6,560.6h0.6 M101.1,558.9h0.6 M122.1,555.3h0.6 M117.9,561.8h0.6 M108.6,557.9h0.6 M119.7,559.0h0.6 M113.8,559.3h0.6 M103.7,562.5h0.6 M116.3,557.5h0.6 M119.4,556.7h0.6 M102.6,562.0h0.6 M108.6,559.9h0.6 M122.9,557.2h0.6 M116.0,558.9h0.6 M112.3,559.3h0.6 M106.1,560.0h0.6 M105.1,559.9h0.6 M104.9,559.2h0.6 M112.6,556.3h0.6 M111.2,561.6h0.6 M112.5,562.2h0.6 M104.6,561.3h0.6 M113.9,552.9h0.6 M111.6,562.1h0.6 M111.2,560.0h0.6 M110.7,559.5h0.6 M104.3,558.1h0.6 M111.5,560.4h0.6 M116.1,561.2h0.6 M111.1,555.9h0.6 M103.2,564.1h0.6 M114.6,561.5h0.6 M104.2,558.7h0.6 M113.5,557.9h0.6 M120.1,558.0h0.6 M108.6,557.0h0.6 M114.2,563.1h0.6 M113.1,559.8h0.6 M109.1,561.9h0.6 M111.6,564.3h0.6 M109.8,558.9h0.6 M108.0,555.1h0.6 M113.3,560.2h0.6 M100.4,556.9h0.6 M104.1,559.1h0.6 M104.5,561.8h0.6 M120.0,558.2h0.6 M111.8,557.2h0.6 M120.9,557.1h0.6 M106.1,559.9h0.6 M105.9,566.6h0.6 M110.3,559.3h0.6 M104.7,559.7h0.6 M107.4,558.8h0.6 M118.6,558.4h0.6 M114.6,558.3h0.6 M118.7,558.0h0.6 M104.8,559.2h0.6 M120.4,558.9h0.6 M105.5,559.5h0.6 M106.6,560.5h0.6 M106.8,560.7h0.6 M117.9,561.1h0.6 M122.2,560.6h0.6 M124.6,563.0h0.6 M109.7,561.8h0.6 M106.5,559.4h0.6 M111.0,557.9h0.6 M113.8,559.7h0.6 M125.6,561.8h0.6 M109.9,558.2h0.6 M107.9,558.2h0.6 M106.4,559.9h0.6 M102.2,559.1h0.6 M115.1,558.4h0.6 M103.8,558.6h0.6 M117.6,558.0h0.6 M122.5,555.7h0.6 M106.0,561.4h0.6 M121.0,559.4h0.6 M100.1,559.2h0.6 M105.3,558.2h0.6 M109.0,558.4h0.6 M111.3,560.2h0.6 M109.6,555.4h0.6 M110.4,553.4h0.6 M112.1,558.8h0.6 M105.1,565.1h0.6 M123.2,563.2h0.6 M113.1,558.6h0.6 M114.9,563.9h0.6 M111.0,559.5h0.6 M107.6,559.7h0.6 M117.5,557.6h0.6 M119.0,560.2h0.6 M127.2,560.4h0.6 M120.5,557.4h0.6 M128.5,560.1h0.6 M111.1,563.6h0.6 M112.8,556.8h0.6 M115.9,561.2h0.6 M111.6,558.7h0.6 M100.4,564.1h0.6 M108.6,560.8h0.6 M108.2,558.1h0.6 M113.6,557.7h0.6 M118.2,555.9h0.6 M115.8,562.8h0.6 M108.6,560.4h0.6 M117.5,558.8h0.6 M110.1,559.4h0.6 M130.7,557.9h0.6 M110.5,558.8h0.6 M107.9,557.6h0.6 M107.2,560.3h0.6 M119.8,563.9h0.6 M102.8,557.5h0.6 M111.5,557.5h0.6 M106.3,559.3h0.6 M107.8,557.8h0.6 M113.2,558.0h0.6 M109.9,560.7h0.6 M116.7,560.4h0.6 M119.3,560.3h0.6 M101.5,563.6h0.6 M131.6,561.9h0.6 M122.9,562.6h0.6 M108.7,561.5h0.6 M107.0,558.5h0.6 M115.7,560.1h0.6 M107.2,556.4h0.6 M117.3,559.9h0.6 M112.8,557.7h0.6 M106.4,559.8h0.6 M98.8,562.9h0.6 M111.9,562.6h0.6 M118.4,558.5h0.6 M115.3,557.1h0.6 M105.4,563.2h0.6 M108.1,558.0h0.6 M115.1,560.0h0.6 M118.6,556.8h0.6 M110.0,557.3h0.6 M112.0,559.2h0.6 M105.3,555.6h0.6 M102.4,562.2h0.6 M109.2,557.2h0.6 M113.0,557.1h0.6 M118.2,562.1h0.6 M112.1,558.5h0.6 M99.1,561.1h0.6 M125.9,560.4h0.6 M108.1,561.9h0.6 M109.1,556.9h0.6 M111.0,561.4h0.6 M99.1,562.5h0.6 M123.1,559.9h0.6 M108.5,556.4h0.6 M115.6,559.2h0.6 M120.3,563.8h0.6 M120.5,560.4h0.6 M99.2,563.2h0.6 M108.5,558.7h0.6 M119.3,561.1h0.6 M104.6,559.1h0.6 M109.8,559.6h0.6 M103.6,563.6h0.6" stroke="#777" stroke-width="0.64" stroke-opacity="0.9" fill="none"/>
<circle cx="105.40" cy="561.00" r="3.40" fill="none" stroke="#999" stroke-width="1.6" />
<circle cx="120.60" cy="560.00" r="3.60" fill="none" stroke="#999" stroke-width="1.6" />
<circle cx="105.40" cy="561.00" r="2.30" fill="#fff" stroke="#666" stroke-width="0.6" />
<circle cx="120.60" cy="560.00" r="2.50" fill="#fff" stroke="#666" stroke-width="0.6" />
<ellipse cx="129.00" cy="601.80" rx="10.00" ry="6.60" fill="none" stroke="#3a3a3a" stroke-width="0.5" transform="rotate(-55 129.00 601.80)"/>
<ellipse cx="128.30" cy="602.50" rx="8.00" ry="5.28" fill="none" stroke="#3a3a3a" stroke-width="0.5" transform="rotate(-55 128.30 602.50)"/>
<ellipse cx="127.67" cy="603.13" rx="6.20" ry="4.09" fill="none" stroke="#3a3a3a" stroke-width="0.5" transform="rotate(-55 127.67 603.13)"/>
<ellipse cx="127.11" cy="603.69" rx="4.60" ry="3.04" fill="none" stroke="#3a3a3a" stroke-width="0.5" transform="rotate(-55 127.11 603.69)"/>
<ellipse cx="126.62" cy="604.18" rx="3.20" ry="2.11" fill="none" stroke="#3a3a3a" stroke-width="0.5" transform="rotate(-55 126.62 604.18)"/>
<ellipse cx="126.20" cy="604.60" rx="2.00" ry="1.32" fill="none" stroke="#3a3a3a" stroke-width="0.5" transform="rotate(-55 126.20 604.60)"/>
<ellipse cx="108.90" cy="604.90" rx="11.20" ry="5.20" fill="none" stroke="#3a3a3a" stroke-width="0.55" transform="rotate(-33 108.90 604.90)"/>
<ellipse cx="108.40" cy="605.30" rx="8.96" ry="4.16" fill="none" stroke="#3a3a3a" stroke-width="0.55" transform="rotate(-33 108.40 605.30)"/>
<ellipse cx="107.95" cy="605.66" rx="6.94" ry="3.22" fill="none" stroke="#3a3a3a" stroke-width="0.55" transform="rotate(-33 107.95 605.66)"/>
<ellipse cx="107.55" cy="605.98" rx="5.15" ry="2.39" fill="none" stroke="#3a3a3a" stroke-width="0.55" transform="rotate(-33 107.55 605.98)"/>
<ellipse cx="107.20" cy="606.26" rx="3.58" ry="1.66" fill="none" stroke="#3a3a3a" stroke-width="0.55" transform="rotate(-33 107.20 606.26)"/>
<ellipse cx="105.50" cy="607.20" rx="2.20" ry="0.90" fill="#fff" stroke="#444" stroke-width="0.5" transform="rotate(-33 105.5 607.2)"/>
<path d="M97.20,590.30 L119.60,588.50 L118.50,616.10 L97.20,615.60 Z" fill="none" stroke="#222" stroke-width="1.1" />
<path d="M23.60,478.20 L94.50,478.20" fill="none" stroke="#8c8c8c" stroke-width="1.5" />
<path d="M94.50,478.80 L94.50,548.30 L23.60,548.30 L23.60,478.80" fill="none" stroke="#333" stroke-width="1.15" />
<path d="M96.80,478.20 L167.60,478.20" fill="none" stroke="#8c8c8c" stroke-width="1.5" />
<path d="M167.60,478.80 L167.60,548.30 L96.80,548.30 L96.80,478.80" fill="none" stroke="#333" stroke-width="1.15" />
<path d="M23.60,551.00 L94.50,551.00" fill="none" stroke="#8c8c8c" stroke-width="1.5" />
<path d="M94.50,551.60 L94.50,621.40 L23.60,621.40 L23.60,551.60" fill="none" stroke="#333" stroke-width="1.15" />
<path d="M96.80,551.00 L167.60,551.00" fill="none" stroke="#8c8c8c" stroke-width="1.5" />
<path d="M167.60,551.60 L167.60,621.40 L96.80,621.40 L96.80,551.60" fill="none" stroke="#333" stroke-width="1.15" />
<text x="25.30" y="496.00" font-size="10.6" textLength="30.6" lengthAdjust="spacingAndGlyphs" stroke="#000" stroke-width="0.08">viable</text>
<text x="29.40" y="510.00" font-size="11" textLength="22.6" lengthAdjust="spacingAndGlyphs" stroke="#000" stroke-width="0.08">95.8</text>
<text x="98.30" y="496.00" font-size="10.6" textLength="30.6" lengthAdjust="spacingAndGlyphs" stroke="#000" stroke-width="0.08">viable</text>
<text x="102.40" y="510.00" font-size="11" textLength="22.6" lengthAdjust="spacingAndGlyphs" stroke="#000" stroke-width="0.08">77.6</text>
<text x="24.80" y="572.50" font-size="10.6" textLength="30.6" lengthAdjust="spacingAndGlyphs" stroke="#000" stroke-width="0.08">viable</text>
<text x="28.90" y="587.20" font-size="11" textLength="22.6" lengthAdjust="spacingAndGlyphs" stroke="#000" stroke-width="0.08">86.7</text>
<text x="98.30" y="572.50" font-size="10.6" textLength="30.6" lengthAdjust="spacingAndGlyphs" stroke="#000" stroke-width="0.08">viable</text>
<text x="102.10" y="586.10" font-size="11" textLength="22.6" lengthAdjust="spacingAndGlyphs" stroke="#000" stroke-width="0.08">62.8</text>
<line x1="13.30" y1="631.20" x2="155.00" y2="631.20" stroke="#111" stroke-width="1.3" />
<path d="M162.2,631.2 L152.3,626.3 L152.3,636.1 Z" fill="#111" stroke="none" stroke-width="1" />
<line x1="13.30" y1="631.80" x2="13.30" y2="487.00" stroke="#111" stroke-width="1.3" />
<path d="M13.3,482 L8.6,488.4 L18,488.4 Z" fill="#111" stroke="none" stroke-width="1" />
<text x="11.20" y="546.30" font-size="12.2" text-anchor="middle" fill="#111" transform="rotate(-90 11.20 546.30)" >CTV</text>
<text x="96.80" y="641.90" font-size="11.9" text-anchor="middle" fill="#111" >TOPRO3</text>
<text x="8.70" y="469.40" font-size="11.8" font-weight="bold" fill="#111" textLength="92" lengthAdjust="spacingAndGlyphs" >no BCMA CAR T</text>
<text x="114.20" y="469.40" font-size="11.8" font-weight="bold" fill="#111" textLength="44.6" lengthAdjust="spacingAndGlyphs" >1:10 E:T</text>
<text x="183.50" y="510.80" font-size="12.0" text-anchor="middle" fill="#111" transform="rotate(-90 183.50 510.80)" >no MCL-1i</text>
<text x="184.00" y="587.90" font-size="11.8" text-anchor="middle" fill="#111" transform="rotate(-90 184.00 587.90)" >100 nM MCL-1i</text>
<text x="15.20" y="560.40" font-size="5" fill="#222" >10</text>
<text x="20.20" y="557.80" font-size="3.8" fill="#222" >5</text>
<text x="15.20" y="576.70" font-size="5" fill="#222" >10</text>
<text x="20.20" y="574.10" font-size="3.8" fill="#222" >4</text>
<text x="15.20" y="592.90" font-size="5" fill="#222" >10</text>
<text x="20.20" y="590.30" font-size="3.8" fill="#222" >3</text>
<text x="18.50" y="612.50" font-size="5" fill="#222" >0</text>
<text x="52.80" y="629.50" font-size="5" fill="#222" >10</text>
<text x="58.00" y="626.60" font-size="3.8" fill="#222" >3</text>
<text x="69.00" y="629.50" font-size="5" fill="#222" >10</text>
<text x="74.20" y="626.60" font-size="3.8" fill="#222" >4</text>
<text x="86.00" y="629.50" font-size="5" fill="#222" >10</text>
<text x="91.20" y="626.60" font-size="3.8" fill="#222" >5</text>
<text x="30.40" y="629.50" font-size="5" text-anchor="middle" fill="#222" >0</text>
<line x1="27.00" y1="621.40" x2="27.00" y2="623.00" stroke="#333" stroke-width="0.6" />
<line x1="30.40" y1="621.40" x2="30.40" y2="623.00" stroke="#333" stroke-width="0.6" />
<line x1="36.00" y1="621.40" x2="36.00" y2="623.00" stroke="#333" stroke-width="0.6" />
<line x1="45.00" y1="621.40" x2="45.00" y2="623.00" stroke="#333" stroke-width="0.6" />
<line x1="52.00" y1="621.40" x2="52.00" y2="623.00" stroke="#333" stroke-width="0.6" />
<line x1="56.00" y1="621.40" x2="56.00" y2="623.00" stroke="#333" stroke-width="0.6" />
<line x1="60.00" y1="621.40" x2="60.00" y2="623.00" stroke="#333" stroke-width="0.6" />
<line x1="64.00" y1="621.40" x2="64.00" y2="623.00" stroke="#333" stroke-width="0.6" />
<line x1="69.00" y1="621.40" x2="69.00" y2="623.00" stroke="#333" stroke-width="0.6" />
<line x1="76.00" y1="621.40" x2="76.00" y2="623.00" stroke="#333" stroke-width="0.6" />
<line x1="80.00" y1="621.40" x2="80.00" y2="623.00" stroke="#333" stroke-width="0.6" />
<line x1="84.00" y1="621.40" x2="84.00" y2="623.00" stroke="#333" stroke-width="0.6" />
<line x1="88.00" y1="621.40" x2="88.00" y2="623.00" stroke="#333" stroke-width="0.6" />
<line x1="91.00" y1="621.40" x2="91.00" y2="623.00" stroke="#333" stroke-width="0.6" />
<line x1="23.60" y1="558.40" x2="22.00" y2="558.40" stroke="#333" stroke-width="0.6" />
<line x1="23.60" y1="564.00" x2="22.00" y2="564.00" stroke="#333" stroke-width="0.6" />
<line x1="23.60" y1="568.00" x2="22.00" y2="568.00" stroke="#333" stroke-width="0.6" />
<line x1="23.60" y1="571.00" x2="22.00" y2="571.00" stroke="#333" stroke-width="0.6" />
<line x1="23.60" y1="574.70" x2="22.00" y2="574.70" stroke="#333" stroke-width="0.6" />
<line x1="23.60" y1="580.00" x2="22.00" y2="580.00" stroke="#333" stroke-width="0.6" />
<line x1="23.60" y1="584.00" x2="22.00" y2="584.00" stroke="#333" stroke-width="0.6" />
<line x1="23.60" y1="587.00" x2="22.00" y2="587.00" stroke="#333" stroke-width="0.6" />
<line x1="23.60" y1="590.90" x2="22.00" y2="590.90" stroke="#333" stroke-width="0.6" />
<line x1="23.60" y1="600.00" x2="22.00" y2="600.00" stroke="#333" stroke-width="0.6" />
<line x1="23.60" y1="610.80" x2="22.00" y2="610.80" stroke="#333" stroke-width="0.6" />
<line x1="23.60" y1="618.00" x2="22.00" y2="618.00" stroke="#333" stroke-width="0.6" />
<rect x="250.20" y="575.41" width="14.20" height="30.39" fill="#D5E5F7" stroke="#000" stroke-width="1.8" />
<rect x="272.20" y="564.55" width="13.80" height="41.25" fill="#fff" stroke="#000" stroke-width="1.8" />
<rect x="293.60" y="537.66" width="14.10" height="68.14" fill="#1F5F9E" stroke="#000" stroke-width="1.8" />
<rect x="329.60" y="540.63" width="13.90" height="65.17" fill="#fff" stroke="#000" stroke-width="1.8" />
<rect x="351.30" y="520.20" width="13.40" height="85.60" fill="#1F5F9E" stroke="#000" stroke-width="1.8" />
<line x1="257.30" y1="587.70" x2="257.30" y2="562.23" stroke="#333" stroke-width="1.1" />
<line x1="252.70" y1="562.23" x2="261.90" y2="562.23" stroke="#333" stroke-width="1.1" />
<line x1="252.70" y1="587.70" x2="261.90" y2="587.70" stroke="#333" stroke-width="1.1" />
<line x1="279.10" y1="570.11" x2="279.10" y2="558.48" stroke="#333" stroke-width="1.1" />
<line x1="274.50" y1="558.48" x2="283.70" y2="558.48" stroke="#333" stroke-width="1.1" />
<line x1="274.50" y1="570.11" x2="283.70" y2="570.11" stroke="#333" stroke-width="1.1" />
<line x1="300.60" y1="547.62" x2="300.60" y2="527.83" stroke="#555" stroke-width="1.1" />
<line x1="296.00" y1="527.83" x2="305.20" y2="527.83" stroke="#555" stroke-width="1.1" />
<line x1="296.00" y1="547.62" x2="305.20" y2="547.62" stroke="#555" stroke-width="1.1" />
<line x1="336.50" y1="557.31" x2="336.50" y2="522.66" stroke="#333" stroke-width="1.1" />
<line x1="331.90" y1="522.66" x2="341.10" y2="522.66" stroke="#333" stroke-width="1.1" />
<line x1="331.90" y1="557.31" x2="341.10" y2="557.31" stroke="#333" stroke-width="1.1" />
<line x1="358.00" y1="539.21" x2="358.00" y2="499.52" stroke="#555" stroke-width="1.1" />
<line x1="353.40" y1="499.52" x2="362.60" y2="499.52" stroke="#555" stroke-width="1.1" />
<line x1="353.40" y1="539.21" x2="362.60" y2="539.21" stroke="#555" stroke-width="1.1" />
<circle cx="257.30" cy="550.46" r="2.10" fill="#000" stroke="none" stroke-width="1" />
<circle cx="257.30" cy="579.94" r="2.10" fill="#000" stroke="none" stroke-width="1" />
<circle cx="257.30" cy="595.07" r="2.10" fill="#000" stroke="none" stroke-width="1" />
<circle cx="279.10" cy="554.86" r="2.10" fill="#000" stroke="none" stroke-width="1" />
<circle cx="279.10" cy="563.78" r="2.10" fill="#000" stroke="none" stroke-width="1" />
<circle cx="279.10" cy="574.77" r="2.10" fill="#000" stroke="none" stroke-width="1" />
<circle cx="296.60" cy="527.83" r="2.10" fill="#000" stroke="none" stroke-width="1" />
<circle cx="304.60" cy="527.83" r="2.10" fill="#000" stroke="none" stroke-width="1" />
<circle cx="300.60" cy="557.18" r="2.10" fill="#000" stroke="none" stroke-width="1" />
<circle cx="336.40" cy="512.70" r="2.10" fill="#000" stroke="none" stroke-width="1" />
<circle cx="336.40" cy="534.94" r="2.10" fill="#000" stroke="none" stroke-width="1" />
<circle cx="336.40" cy="572.57" r="2.10" fill="#000" stroke="none" stroke-width="1" />
<circle cx="358.00" cy="496.80" r="2.10" fill="#000" stroke="none" stroke-width="1" />
<circle cx="358.00" cy="502.36" r="2.10" fill="#000" stroke="none" stroke-width="1" />
<circle cx="358.00" cy="559.38" r="2.10" fill="#000" stroke="none" stroke-width="1" />
<line x1="242.70" y1="476.00" x2="242.70" y2="606.70" stroke="#000" stroke-width="1.8" />
<line x1="241.80" y1="605.80" x2="373.40" y2="605.80" stroke="#000" stroke-width="1.8" />
<line x1="236.70" y1="605.80" x2="242.70" y2="605.80" stroke="#000" stroke-width="1.6" />
<text x="235.70" y="610.40" font-size="12" text-anchor="end" fill="#111" >0</text>
<line x1="236.70" y1="579.94" x2="242.70" y2="579.94" stroke="#000" stroke-width="1.6" />
<text x="235.70" y="584.54" font-size="12" text-anchor="end" fill="#111" >20</text>
<line x1="236.70" y1="554.08" x2="242.70" y2="554.08" stroke="#000" stroke-width="1.6" />
<text x="235.70" y="558.68" font-size="12" text-anchor="end" fill="#111" >40</text>
<line x1="236.70" y1="528.22" x2="242.70" y2="528.22" stroke="#000" stroke-width="1.6" />
<text x="235.70" y="532.82" font-size="12" text-anchor="end" fill="#111" >60</text>
<line x1="236.70" y1="502.36" x2="242.70" y2="502.36" stroke="#000" stroke-width="1.6" />
<text x="235.70" y="506.96" font-size="12" text-anchor="end" fill="#111" >80</text>
<line x1="236.70" y1="476.50" x2="242.70" y2="476.50" stroke="#000" stroke-width="1.6" />
<text x="235.70" y="481.10" font-size="12" text-anchor="end" fill="#111" >100</text>
<line x1="257.30" y1="605.80" x2="257.30" y2="610.30" stroke="#000" stroke-width="1.6" />
<line x1="279.10" y1="605.80" x2="279.10" y2="610.30" stroke="#000" stroke-width="1.6" />
<line x1="300.65" y1="605.80" x2="300.65" y2="610.30" stroke="#000" stroke-width="1.6" />
<line x1="336.55" y1="605.80" x2="336.55" y2="610.30" stroke="#000" stroke-width="1.6" />
<line x1="358.00" y1="605.80" x2="358.00" y2="610.30" stroke="#000" stroke-width="1.6" />
<line x1="274.60" y1="521.30" x2="300.60" y2="521.30" stroke="#000" stroke-width="1.6" />
<text x="288.80" y="517.70" font-size="9.6" text-anchor="middle" fill="#111"><tspan font-style="italic">P</tspan> = 0.037</text>
<line x1="334.40" y1="491.30" x2="360.00" y2="491.30" stroke="#000" stroke-width="1.6" />
<text x="348.20" y="487.30" font-size="10" text-anchor="middle" fill="#111" >ns</text>
<text x="291.60" y="465.50" font-size="11.4" font-weight="bold" fill="#111" >H929</text>
<text x="215.10" y="541.50" font-size="11.9" text-anchor="middle" fill="#111" transform="rotate(-90 215.10 541.50)" >Specific apoptosis (%)</text>
<text x="207.40" y="626.50" font-size="12" fill="#111" >MCL-1i</text>
<text x="209.90" y="640.90" font-size="12" fill="#111" >BCMA</text>
<text x="210.20" y="653.60" font-size="12" fill="#111" >CAR T</text>
<text x="256.80" y="625.80" font-size="11" text-anchor="middle" fill="#111" >+</text>
<text x="278.20" y="624.50" font-size="11" text-anchor="middle" fill="#111" >-</text>
<text x="299.60" y="625.80" font-size="11" text-anchor="middle" fill="#111" >+</text>
<text x="336.30" y="624.50" font-size="11" text-anchor="middle" fill="#111" >-</text>
<text x="357.80" y="625.80" font-size="11" text-anchor="middle" fill="#111" >+</text>
<line x1="274.90" y1="631.50" x2="300.40" y2="631.50" stroke="#000" stroke-width="1.4" />
<text x="287.65" y="646.30" font-size="12.5" text-anchor="middle" fill="#111" >1:20</text>
<line x1="334.00" y1="631.50" x2="360.30" y2="631.50" stroke="#000" stroke-width="1.4" />
<text x="347.15" y="646.30" font-size="12.5" text-anchor="middle" fill="#111" >1:10</text>
<rect x="428.50" y="575.26" width="14.20" height="31.34" fill="#D5E5F7" stroke="#000" stroke-width="1.8" />
<rect x="450.20" y="583.09" width="14.00" height="23.51" fill="#fff" stroke="#000" stroke-width="1.8" />
<rect x="472.00" y="549.79" width="14.00" height="56.81" fill="#1F5F9E" stroke="#000" stroke-width="1.8" />
<rect x="508.20" y="568.07" width="14.00" height="38.53" fill="#fff" stroke="#000" stroke-width="1.8" />
<rect x="529.60" y="546.52" width="14.10" height="60.08" fill="#1F5F9E" stroke="#000" stroke-width="1.8" />
<line x1="435.60" y1="585.18" x2="435.60" y2="565.72" stroke="#333" stroke-width="1.1" />
<line x1="431.00" y1="565.72" x2="440.20" y2="565.72" stroke="#333" stroke-width="1.1" />
<line x1="431.00" y1="585.18" x2="440.20" y2="585.18" stroke="#333" stroke-width="1.1" />
<line x1="457.20" y1="594.06" x2="457.20" y2="571.86" stroke="#333" stroke-width="1.1" />
<line x1="452.60" y1="571.86" x2="461.80" y2="571.86" stroke="#333" stroke-width="1.1" />
<line x1="452.60" y1="594.06" x2="461.80" y2="594.06" stroke="#333" stroke-width="1.1" />
<line x1="479.00" y1="553.84" x2="479.00" y2="546.13" stroke="#555" stroke-width="1.1" />
<line x1="474.40" y1="546.13" x2="483.60" y2="546.13" stroke="#555" stroke-width="1.1" />
<line x1="474.40" y1="553.84" x2="483.60" y2="553.84" stroke="#555" stroke-width="1.1" />
<line x1="515.20" y1="580.61" x2="515.20" y2="556.19" stroke="#333" stroke-width="1.1" />
<line x1="510.60" y1="556.19" x2="519.80" y2="556.19" stroke="#333" stroke-width="1.1" />
<line x1="510.60" y1="580.61" x2="519.80" y2="580.61" stroke="#333" stroke-width="1.1" />
<line x1="536.70" y1="556.45" x2="536.70" y2="537.38" stroke="#555" stroke-width="1.1" />
<line x1="532.10" y1="537.38" x2="541.30" y2="537.38" stroke="#555" stroke-width="1.1" />
<line x1="532.10" y1="556.45" x2="541.30" y2="556.45" stroke="#555" stroke-width="1.1" />
<circle cx="435.70" cy="533.86" r="2.10" fill="#000" stroke="none" stroke-width="1" />
<circle cx="432.70" cy="567.03" r="2.10" fill="#000" stroke="none" stroke-width="1" />
<circle cx="438.10" cy="567.03" r="2.10" fill="#000" stroke="none" stroke-width="1" />
<circle cx="432.70" cy="591.06" r="2.10" fill="#000" stroke="none" stroke-width="1" />
<circle cx="438.10" cy="592.23" r="2.10" fill="#000" stroke="none" stroke-width="1" />
<circle cx="435.70" cy="598.76" r="2.10" fill="#000" stroke="none" stroke-width="1" />
<circle cx="457.20" cy="552.92" r="2.10" fill="#000" stroke="none" stroke-width="1" />
<circle cx="457.20" cy="579.44" r="2.10" fill="#000" stroke="none" stroke-width="1" />
<circle cx="454.20" cy="599.68" r="2.10" fill="#000" stroke="none" stroke-width="1" />
<circle cx="460.30" cy="599.68" r="2.10" fill="#000" stroke="none" stroke-width="1" />
<circle cx="479.00" cy="537.64" r="2.10" fill="#000" stroke="none" stroke-width="1" />
<circle cx="477.10" cy="553.05" r="2.10" fill="#000" stroke="none" stroke-width="1" />
<circle cx="480.60" cy="553.05" r="2.10" fill="#000" stroke="none" stroke-width="1" />
<circle cx="479.00" cy="556.97" r="2.10" fill="#000" stroke="none" stroke-width="1" />
<circle cx="514.90" cy="521.32" r="2.10" fill="#000" stroke="none" stroke-width="1" />
<circle cx="514.90" cy="551.88" r="2.10" fill="#000" stroke="none" stroke-width="1" />
<circle cx="514.90" cy="559.58" r="2.10" fill="#000" stroke="none" stroke-width="1" />
<circle cx="514.90" cy="584.53" r="2.10" fill="#000" stroke="none" stroke-width="1" />
<circle cx="512.10" cy="595.76" r="2.10" fill="#000" stroke="none" stroke-width="1" />
<circle cx="518.00" cy="595.76" r="2.10" fill="#000" stroke="none" stroke-width="1" />
<circle cx="536.70" cy="516.62" r="2.10" fill="#000" stroke="none" stroke-width="1" />
<circle cx="536.70" cy="532.94" r="2.10" fill="#000" stroke="none" stroke-width="1" />
<circle cx="536.70" cy="537.77" r="2.10" fill="#000" stroke="none" stroke-width="1" />
<circle cx="536.70" cy="572.64" r="2.10" fill="#000" stroke="none" stroke-width="1" />
<circle cx="536.70" cy="576.56" r="2.10" fill="#000" stroke="none" stroke-width="1" />
<line x1="421.50" y1="475.50" x2="421.50" y2="607.50" stroke="#000" stroke-width="1.8" />
<line x1="420.60" y1="606.60" x2="552.10" y2="606.60" stroke="#000" stroke-width="1.8" />
<line x1="415.50" y1="606.60" x2="421.50" y2="606.60" stroke="#000" stroke-width="1.6" />
<text x="414.50" y="610.60" font-size="12" text-anchor="end" fill="#111" >0</text>
<line x1="415.50" y1="580.48" x2="421.50" y2="580.48" stroke="#000" stroke-width="1.6" />
<text x="414.50" y="584.48" font-size="12" text-anchor="end" fill="#111" >20</text>
<line x1="415.50" y1="554.36" x2="421.50" y2="554.36" stroke="#000" stroke-width="1.6" />
<text x="414.50" y="558.36" font-size="12" text-anchor="end" fill="#111" >40</text>
<line x1="415.50" y1="528.24" x2="421.50" y2="528.24" stroke="#000" stroke-width="1.6" />
<text x="414.50" y="532.24" font-size="12" text-anchor="end" fill="#111" >60</text>
<line x1="415.50" y1="502.12" x2="421.50" y2="502.12" stroke="#000" stroke-width="1.6" />
<text x="414.50" y="506.12" font-size="12" text-anchor="end" fill="#111" >80</text>
<line x1="415.50" y1="476.00" x2="421.50" y2="476.00" stroke="#000" stroke-width="1.6" />
<text x="414.50" y="480.00" font-size="12" text-anchor="end" fill="#111" >100</text>
<line x1="435.60" y1="606.60" x2="435.60" y2="611.10" stroke="#000" stroke-width="1.6" />
<line x1="457.20" y1="606.60" x2="457.20" y2="611.10" stroke="#000" stroke-width="1.6" />
<line x1="479.00" y1="606.60" x2="479.00" y2="611.10" stroke="#000" stroke-width="1.6" />
<line x1="515.20" y1="606.60" x2="515.20" y2="611.10" stroke="#000" stroke-width="1.6" />
<line x1="536.65" y1="606.60" x2="536.65" y2="611.10" stroke="#000" stroke-width="1.6" />
<line x1="454.40" y1="515.90" x2="480.60" y2="515.90" stroke="#000" stroke-width="1.6" />
<text x="467.70" y="512.30" font-size="9.6" text-anchor="middle" fill="#111"><tspan font-style="italic">P</tspan> = 0.023</text>
<line x1="511.40" y1="508.70" x2="537.10" y2="508.70" stroke="#000" stroke-width="1.6" />
<text x="525.40" y="505.10" font-size="9.6" text-anchor="middle" fill="#111"><tspan font-style="italic">P</tspan> = 0.0087</text>
<text x="480.40" y="465.50" font-size="11.4" font-weight="bold" fill="#111" >L363</text>
<text x="395.20" y="538.60" font-size="11.9" text-anchor="middle" fill="#111" transform="rotate(-90 395.20 538.60)" >Specific apoptosis (%)</text>
<text x="387.40" y="626.50" font-size="12" fill="#111" >MCL-1i</text>
<text x="389.90" y="640.90" font-size="12" fill="#111" >BCMA</text>
<text x="390.20" y="653.60" font-size="12" fill="#111" >CAR T</text>
<text x="435.50" y="625.80" font-size="11" text-anchor="middle" fill="#111" >+</text>
<text x="457.20" y="624.50" font-size="11" text-anchor="middle" fill="#111" >-</text>
<text x="478.70" y="625.80" font-size="11" text-anchor="middle" fill="#111" >+</text>
<text x="515.50" y="624.50" font-size="11" text-anchor="middle" fill="#111" >-</text>
<text x="537.30" y="625.80" font-size="11" text-anchor="middle" fill="#111" >+</text>
<line x1="454.10" y1="630.70" x2="479.30" y2="630.70" stroke="#000" stroke-width="1.4" />
<text x="466.70" y="645.50" font-size="12.5" text-anchor="middle" fill="#111" >1:20</text>
<line x1="512.70" y1="630.70" x2="539.50" y2="630.70" stroke="#000" stroke-width="1.4" />
<text x="526.10" y="645.50" font-size="12.5" text-anchor="middle" fill="#111" >1:10</text>
<line x1="607.10" y1="471.30" x2="607.10" y2="609.10" stroke="#000" stroke-width="1.8" />
<line x1="606.20" y1="608.20" x2="675.60" y2="608.20" stroke="#000" stroke-width="1.8" />
<line x1="601.10" y1="608.20" x2="607.10" y2="608.20" stroke="#000" stroke-width="1.6" />
<text x="600.80" y="612.70" font-size="12.8" text-anchor="end" fill="#111" >0</text>
<line x1="601.10" y1="574.10" x2="607.10" y2="574.10" stroke="#000" stroke-width="1.6" />
<text x="600.80" y="578.60" font-size="12.8" text-anchor="end" fill="#111" >25</text>
<line x1="601.10" y1="540.00" x2="607.10" y2="540.00" stroke="#000" stroke-width="1.6" />
<text x="600.80" y="544.50" font-size="12.8" text-anchor="end" fill="#111" >50</text>
<line x1="601.10" y1="505.90" x2="607.10" y2="505.90" stroke="#000" stroke-width="1.6" />
<text x="600.80" y="510.40" font-size="12.8" text-anchor="end" fill="#111" >75</text>
<line x1="601.10" y1="471.80" x2="607.10" y2="471.80" stroke="#000" stroke-width="1.6" />
<text x="600.80" y="476.30" font-size="12.8" text-anchor="end" fill="#111" >100</text>
<line x1="626.70" y1="608.20" x2="626.70" y2="613.20" stroke="#000" stroke-width="1.6" />
<line x1="655.50" y1="608.20" x2="655.50" y2="613.20" stroke="#000" stroke-width="1.6" />
<line x1="626.70" y1="553.64" x2="655.50" y2="517.49" stroke="#000" stroke-width="1.7" />
<line x1="626.70" y1="564.14" x2="655.50" y2="532.50" stroke="#000" stroke-width="1.7" />
<line x1="626.70" y1="570.69" x2="655.50" y2="527.04" stroke="#000" stroke-width="1.7" />
<circle cx="626.70" cy="553.64" r="3.50" fill="#fff" stroke="#000" stroke-width="1.4" />
<circle cx="626.70" cy="564.14" r="3.50" fill="#fff" stroke="#000" stroke-width="1.4" />
<circle cx="626.70" cy="570.69" r="3.50" fill="#fff" stroke="#000" stroke-width="1.4" />
<circle cx="655.50" cy="517.49" r="3.60" fill="#3B88C9" stroke="#000" stroke-width="1.3" />
<circle cx="655.50" cy="527.04" r="3.60" fill="#3B88C9" stroke="#000" stroke-width="1.3" />
<circle cx="655.50" cy="532.50" r="3.60" fill="#3B88C9" stroke="#000" stroke-width="1.3" />
<path d="M626.7,546 L626.7,501.3 L655.5,501.3 L655.5,510.7" fill="none" stroke="#000" stroke-width="1.5" />
<text x="643.4" y="497.2" font-size="9.6" text-anchor="middle" fill="#111"><tspan font-style="italic">P</tspan> = 0.0099</text>
<text x="612.00" y="466.30" font-size="11.3" font-weight="bold" fill="#111" textLength="64.8" lengthAdjust="spacingAndGlyphs" >primary MM</text>
<text x="577.80" y="539.50" font-size="11.95" text-anchor="middle" fill="#111" transform="rotate(-90 577.80 539.50)" >Specific apoptosis (%)</text>
<text x="633.00" y="621.50" font-size="12.5" text-anchor="end" fill="#111" transform="rotate(-45 633.00 621.50)" >BCMA CAR-T</text>
<text x="649.20" y="630.40" font-size="12.5" text-anchor="end" fill="#111" transform="rotate(-45 649.20 630.40)" >pre-MCL1i</text>
<text x="679.20" y="624.30" font-size="12.5" text-anchor="end" fill="#111" transform="rotate(-45 679.20 624.30)" >+BCMA CAR-T</text>
</svg>
</body></html>
